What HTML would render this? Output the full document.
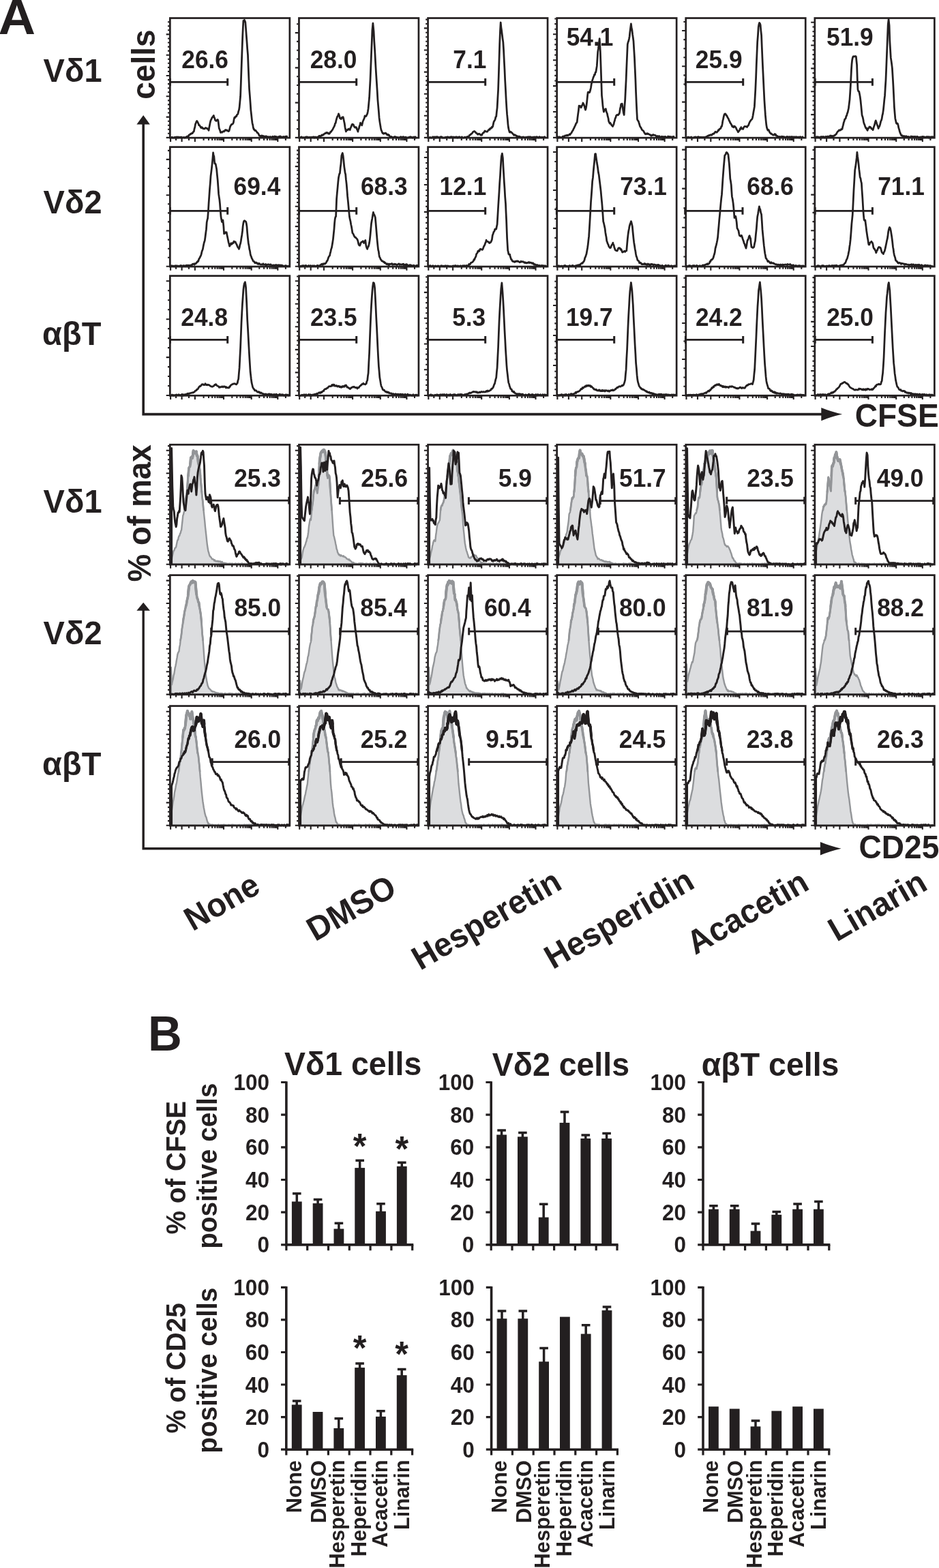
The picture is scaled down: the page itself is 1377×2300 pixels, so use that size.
<!DOCTYPE html>
<html><head><meta charset="utf-8"><style>html,body{margin:0;padding:0;background:#fff;} svg{display:block;} text{font-kerning:none;}</style></head>
<body>
<svg width="1377" height="2300" viewBox="0 0 1377 2300" font-family="'Liberation Sans', Arial, sans-serif" font-weight="bold" fill="#231f20">
<rect width="1377" height="2300" fill="#fff"/>
<defs><path id="c00k" d="M250.9,201.5 251.6,201.4 252.4,202.0 253.2,201.5 253.9,202.0 254.7,202.0 255.4,202.0 256.2,201.1 256.9,202.0 257.7,201.6 258.4,200.9 259.2,202.0 259.9,200.9 260.7,202.0 261.5,200.9 262.2,201.8 263.0,201.9 263.7,201.2 264.5,201.4 265.2,202.0 266.0,201.0 266.7,202.0 267.5,202.0 268.2,201.7 269.0,201.7 269.7,201.4 270.5,202.0 271.2,201.6 272.0,201.8 272.7,201.1 273.4,201.1 274.1,200.1 274.9,200.5 275.6,199.7 276.3,200.2 277.0,198.2 277.8,197.6 278.5,197.6 279.2,196.3 279.9,196.6 280.7,195.5 281.4,195.4 282.1,195.6 282.8,194.7 283.6,193.1 284.3,193.0 285.0,189.2 285.8,186.5 286.5,182.3 287.2,180.6 287.9,178.6 288.7,177.4 289.4,178.3 290.1,179.7 290.8,180.9 291.6,183.6 292.3,183.3 293.0,184.4 293.7,185.5 294.5,187.2 295.2,186.4 295.9,187.7 296.6,186.9 297.4,188.5 298.1,188.4 298.8,188.9 299.5,188.6 300.3,188.8 301.0,187.8 301.7,187.5 302.5,188.0 303.2,188.0 303.9,188.9 304.6,188.7 305.4,189.9 306.1,191.3 306.8,186.9 307.5,183.4 308.3,179.3 309.0,176.7 309.7,175.3 310.4,173.9 311.2,172.1 311.9,171.7 312.6,170.6 313.3,169.5 314.1,172.2 314.8,173.4 315.5,176.1 316.3,176.8 317.0,177.4 317.7,177.1 318.4,175.9 319.2,175.4 319.9,176.8 320.6,182.6 321.3,188.1 322.1,190.0 322.8,191.8 323.5,194.5 324.2,193.8 325.0,193.7 325.7,194.4 326.4,193.0 327.1,193.0 327.9,192.4 328.6,193.1 329.3,192.0 330.1,190.9 330.8,190.5 331.5,191.4 332.2,190.9 333.0,190.9 333.7,191.9 334.4,192.2 335.1,192.7 335.9,192.2 336.6,189.7 337.3,186.8 338.0,184.7 338.8,183.7 339.5,182.3 340.2,182.5 340.9,182.0 341.7,181.3 342.4,179.4 343.1,175.2 343.8,172.4 344.6,172.7 345.3,170.9 346.0,171.0 346.8,170.5 347.5,168.3 348.2,167.8 348.9,167.2 349.7,163.4 350.4,161.4 351.1,157.5 351.8,149.8 352.6,141.2 353.3,122.2 354.0,101.6 354.9,76.5 355.8,52.0 356.3,41.8 356.9,30.5 357.6,31.7 358.4,29.3 359.1,30.7 359.8,32.5 360.6,42.5 361.3,52.1 362.0,61.0 362.7,71.3 363.5,80.6 364.2,98.7 364.9,115.8 365.6,131.2 366.4,140.8 367.1,150.6 367.8,161.1 368.5,167.3 369.3,174.8 370.0,180.5 370.7,183.1 371.4,187.4 372.2,189.8 372.9,189.6 373.6,191.4 374.4,191.6 375.1,191.4 375.8,192.6 376.5,193.4 377.3,194.7 378.0,194.9 378.7,195.6 379.4,197.1 380.2,199.0 380.9,199.0 381.6,199.6 382.3,199.1 383.1,200.1 383.8,198.9 384.5,199.1 385.2,200.9 386.0,199.5 386.7,200.8 387.4,199.9 388.1,200.0 388.9,200.0 389.6,201.3 390.3,199.8 391.1,200.4 391.8,201.2 392.5,201.1 393.2,200.4 394.0,201.4 394.7,201.6 395.4,200.9 396.2,200.4 396.9,201.1 397.7,201.5 398.4,200.9 399.2,201.1 399.9,200.1 400.7,201.6 401.4,201.0 402.2,200.4 402.9,199.9 403.7,200.3 404.4,200.4 405.1,200.8 405.9,200.6 406.6,201.3 407.4,201.0 408.1,200.7 408.9,200.7 409.6,200.2 410.4,200.1 411.1,199.9 411.9,200.5 412.6,201.4 413.3,200.8 414.1,201.2 414.8,201.5 415.6,200.3 416.3,200.5 417.1,200.5 417.8,201.4 418.6,200.3 419.3,201.1 420.1,199.9 420.8,200.2 421.6,200.8"/></defs>
<use href="#c00k" fill="none" stroke="#231f20" stroke-width="2.75" stroke-linejoin="round"/>
<rect x="249.35" y="26.55" width="175.50" height="175.60" fill="none" stroke="#231f20" stroke-width="2.7"/>
<path d="M243.7,201.9 H248.5 M246.0,195.8 H248.5 M246.0,189.8 H248.5 M246.0,183.7 H248.5 M246.0,177.7 H248.5 M243.7,171.6 H248.5 M246.0,165.5 H248.5 M246.0,159.5 H248.5 M246.0,153.4 H248.5 M246.0,147.4 H248.5 M243.7,141.3 H248.5 M246.0,135.2 H248.5 M246.0,129.2 H248.5 M246.0,123.1 H248.5 M246.0,117.1 H248.5 M243.7,111.0 H248.5 M246.0,104.9 H248.5 M246.0,98.9 H248.5 M246.0,92.8 H248.5 M246.0,86.8 H248.5 M243.7,80.7 H248.5 M246.0,74.6 H248.5 M246.0,68.6 H248.5 M246.0,62.5 H248.5 M246.0,56.5 H248.5 M243.7,50.4 H248.5 M246.0,44.3 H248.5 M246.0,38.3 H248.5 M246.0,32.2 H248.5" stroke="#231f20" stroke-width="2.1" fill="none"/>
<path d="M250.1,203.0 V207.9 M266.6,203.0 V207.9 M285.9,203.0 V207.9 M328.0,203.0 V207.9 M368.7,203.0 V207.9 M407.3,203.0 V207.9 M258.1,203.0 V205.9 M277.0,203.0 V205.9 M298.6,203.0 V205.9 M306.0,203.0 V205.9 M311.2,203.0 V205.9 M315.3,203.0 V205.9 M318.7,203.0 V205.9 M321.5,203.0 V205.9 M323.9,203.0 V205.9 M326.1,203.0 V205.9 M340.3,203.0 V205.9 M347.4,203.0 V205.9 M352.5,203.0 V205.9 M356.4,203.0 V205.9 M359.7,203.0 V205.9 M362.4,203.0 V205.9 M364.8,203.0 V205.9 M366.8,203.0 V205.9 M380.3,203.0 V205.9 M387.1,203.0 V205.9 M391.9,203.0 V205.9 M395.7,203.0 V205.9 M398.7,203.0 V205.9 M401.3,203.0 V205.9 M403.6,203.0 V205.9 M405.5,203.0 V205.9 M418.9,203.0 V205.9" stroke="#231f20" stroke-width="2.1" fill="none"/>
<path d="M249.4,120.3 H333.7" stroke="#231f20" stroke-width="2.75" fill="none"/>
<path d="M249.4,114.9 V125.7 M333.7,114.9 V125.7" stroke="#231f20" stroke-width="3.0" fill="none"/>
<text transform="translate(333.68 99.97) scale(1.0 1.04)" x="-67.43" y="0" font-size="35.3" >26.6</text>
<defs><path id="c01k" d="M439.9,201.5 440.6,201.7 441.4,201.3 442.1,200.7 442.9,201.8 443.6,202.0 444.4,201.7 445.1,201.6 445.9,201.9 446.6,201.7 447.4,201.7 448.1,201.1 448.9,200.9 449.6,201.8 450.4,200.8 451.1,202.0 451.9,201.4 452.6,201.8 453.3,201.2 454.1,201.3 454.8,202.0 455.6,201.4 456.3,201.1 457.1,201.9 457.8,201.4 458.6,201.0 459.3,201.7 460.1,200.8 460.8,202.0 461.6,202.0 462.3,200.9 463.1,201.0 463.8,202.0 464.6,201.1 465.3,202.0 466.0,201.4 466.8,200.4 467.5,200.7 468.2,199.2 468.9,199.4 469.7,199.9 470.4,199.8 471.1,199.0 471.8,198.0 472.6,198.6 473.3,197.7 474.0,197.8 474.8,197.3 475.5,196.4 476.2,195.8 476.9,195.6 477.7,195.7 478.4,194.5 479.1,195.0 479.8,194.7 480.6,194.7 481.3,196.1 482.0,195.7 482.7,196.3 483.5,195.7 484.2,194.1 484.9,193.2 485.6,193.3 486.4,191.7 487.1,191.0 487.8,189.9 488.5,188.5 489.3,186.9 490.0,185.6 490.7,184.2 491.5,181.0 492.2,180.4 492.9,176.8 493.6,174.4 494.4,171.6 495.1,170.6 495.8,169.3 496.5,166.8 497.2,168.3 497.8,170.2 498.4,173.4 499.3,173.4 500.2,174.6 500.9,172.6 501.6,173.1 502.3,171.8 503.1,171.7 503.8,174.2 504.5,177.7 505.3,181.4 506.0,186.8 506.7,189.9 507.4,193.0 508.2,191.3 508.9,190.6 509.6,190.1 510.3,190.5 511.1,189.0 511.8,189.0 512.5,189.3 513.2,190.5 514.0,188.1 514.7,186.4 515.4,184.8 516.1,182.6 516.9,182.1 517.6,182.6 518.3,182.8 519.1,185.5 519.8,185.8 520.5,187.0 521.2,187.2 522.0,186.4 522.7,187.1 523.4,189.6 524.1,190.7 524.9,193.1 525.6,189.8 526.3,188.7 527.0,185.4 527.8,183.6 528.5,180.2 529.2,181.9 529.9,181.7 530.7,183.9 531.4,181.2 532.1,178.0 532.8,176.6 533.6,174.8 534.3,173.3 535.0,170.0 535.8,170.5 536.5,170.6 537.2,170.0 537.9,168.2 538.7,167.0 539.4,163.5 540.1,159.2 540.8,151.7 541.6,143.2 542.3,130.1 543.0,117.4 543.7,99.6 544.5,79.7 545.2,63.0 545.9,44.4 546.9,34.2 547.5,40.2 548.1,46.7 548.8,60.7 549.6,72.8 550.3,85.7 551.0,98.7 551.7,110.3 552.5,122.7 553.2,133.7 553.9,146.1 554.6,154.5 555.4,163.6 556.1,172.9 556.8,178.1 557.5,182.5 558.3,187.2 559.0,190.7 559.7,192.1 560.4,194.1 561.2,195.6 561.9,195.2 562.6,196.3 563.4,195.5 564.1,195.5 564.8,195.0 565.5,195.9 566.3,195.6 567.0,196.7 567.7,197.9 568.4,198.0 569.2,197.2 569.9,198.5 570.6,198.1 571.3,199.6 572.1,200.4 572.8,200.6 573.5,200.4 574.2,200.6 575.0,201.3 575.7,201.3 576.4,201.3 577.1,201.7 577.9,201.5 578.6,200.5 579.3,201.4 580.1,200.7 580.8,201.1 581.5,201.5 582.3,201.3 583.0,201.6 583.8,202.0 584.5,201.7 585.3,201.9 586.0,201.8 586.7,201.3 587.5,200.7 588.2,201.9 589.0,200.9 589.7,202.0 590.5,202.0 591.2,200.6 592.0,200.8 592.7,201.4 593.4,202.0 594.2,201.5 594.9,201.0 595.7,201.8 596.4,202.0 597.2,201.9 597.9,202.0 598.7,202.0 599.4,201.4 600.1,201.4 600.9,201.1 601.6,200.6 602.4,200.8 603.1,201.5 603.9,201.1 604.6,202.0 605.3,202.0 606.1,201.4 606.8,200.9 607.6,201.1 608.3,201.9 609.1,200.8 609.8,202.0 610.6,201.5"/></defs>
<use href="#c01k" fill="none" stroke="#231f20" stroke-width="2.75" stroke-linejoin="round"/>
<rect x="438.45" y="26.55" width="175.50" height="175.60" fill="none" stroke="#231f20" stroke-width="2.7"/>
<path d="M432.8,201.9 H437.6 M435.1,189.1 H437.6 M435.1,176.3 H437.6 M435.1,163.4 H437.6 M432.8,150.6 H437.6 M435.1,137.8 H437.6 M435.1,125.0 H437.6 M435.1,112.2 H437.6 M432.8,99.4 H437.6 M435.1,86.5 H437.6 M435.1,73.7 H437.6 M435.1,60.9 H437.6 M432.8,48.1 H437.6 M435.1,35.3 H437.6" stroke="#231f20" stroke-width="2.1" fill="none"/>
<path d="M439.2,203.0 V207.9 M455.7,203.0 V207.9 M475.0,203.0 V207.9 M517.1,203.0 V207.9 M557.8,203.0 V207.9 M596.4,203.0 V207.9 M447.2,203.0 V205.9 M466.1,203.0 V205.9 M487.7,203.0 V205.9 M495.1,203.0 V205.9 M500.3,203.0 V205.9 M504.4,203.0 V205.9 M507.8,203.0 V205.9 M510.6,203.0 V205.9 M513.0,203.0 V205.9 M515.2,203.0 V205.9 M529.4,203.0 V205.9 M536.5,203.0 V205.9 M541.6,203.0 V205.9 M545.5,203.0 V205.9 M548.8,203.0 V205.9 M551.5,203.0 V205.9 M553.9,203.0 V205.9 M555.9,203.0 V205.9 M569.4,203.0 V205.9 M576.2,203.0 V205.9 M581.0,203.0 V205.9 M584.8,203.0 V205.9 M587.8,203.0 V205.9 M590.4,203.0 V205.9 M592.7,203.0 V205.9 M594.6,203.0 V205.9 M608.0,203.0 V205.9" stroke="#231f20" stroke-width="2.1" fill="none"/>
<path d="M438.4,120.3 H522.7" stroke="#231f20" stroke-width="2.75" fill="none"/>
<path d="M438.4,114.9 V125.7 M522.7,114.9 V125.7" stroke="#231f20" stroke-width="3.0" fill="none"/>
<text transform="translate(521.96 99.97) scale(1.0 1.04)" x="-67.26" y="0" font-size="35.3" >28.0</text>
<defs><path id="c02k" d="M628.9,201.5 629.6,201.9 630.4,201.5 631.1,202.0 631.9,201.6 632.6,202.0 633.4,202.0 634.1,201.7 634.9,200.6 635.6,201.1 636.4,201.5 637.1,202.0 637.8,200.7 638.6,202.0 639.3,202.0 640.1,200.6 640.8,200.6 641.6,200.9 642.3,201.3 643.1,201.3 643.8,201.5 644.6,201.6 645.3,201.3 646.1,200.7 646.8,201.6 647.5,200.6 648.3,201.2 649.0,202.0 649.8,202.0 650.5,202.0 651.3,201.7 652.0,202.0 652.8,202.0 653.5,201.2 654.3,201.1 655.0,201.3 655.8,201.4 656.5,200.7 657.2,201.1 658.0,201.3 658.7,201.5 659.5,202.0 660.2,200.8 661.0,200.8 661.7,200.9 662.5,200.7 663.2,201.8 664.0,202.0 664.7,200.9 665.5,201.0 666.2,201.6 666.9,201.2 667.7,201.1 668.4,201.0 669.2,200.7 669.9,201.5 670.7,202.0 671.4,201.2 672.2,201.2 672.9,201.7 673.7,200.6 674.4,201.7 675.2,201.6 675.9,201.9 676.6,201.9 677.4,200.8 678.1,201.9 678.9,202.0 679.6,202.0 680.4,202.0 681.1,201.4 681.9,201.2 682.6,201.7 683.4,201.5 684.1,201.0 684.8,200.8 685.5,200.4 686.3,200.5 687.0,200.5 687.7,199.9 688.4,198.3 689.2,197.8 689.9,197.7 690.6,196.6 691.3,196.5 692.1,195.6 692.8,194.8 693.5,193.7 694.3,193.1 695.0,192.7 695.7,192.5 696.4,193.3 697.2,193.6 697.9,195.0 698.6,195.3 699.3,195.6 700.1,196.7 700.8,197.3 701.5,196.5 702.2,196.2 703.0,196.3 703.7,197.0 704.4,197.7 705.1,198.3 705.9,197.5 706.6,198.1 707.3,196.6 708.1,195.3 708.8,194.6 709.5,194.7 710.2,193.2 711.0,191.9 711.7,192.3 712.4,193.0 713.1,193.1 713.9,193.1 714.6,193.1 715.3,192.1 716.0,191.0 716.8,190.6 717.5,189.6 718.2,190.2 718.9,188.3 719.7,188.0 720.4,188.2 721.1,186.3 721.8,186.9 722.6,185.6 723.3,182.4 724.0,179.0 724.8,177.5 725.5,176.4 726.2,175.0 726.9,171.6 727.7,170.9 728.4,163.8 729.1,158.1 729.8,145.6 730.6,131.5 731.3,111.0 732.0,88.1 732.7,65.0 733.5,45.1 734.2,33.0 734.9,40.1 735.6,44.8 736.4,51.1 737.1,56.8 737.8,61.7 738.6,73.8 739.3,88.8 740.0,102.1 740.7,118.3 741.5,132.5 742.2,146.3 742.9,158.0 743.6,167.9 744.3,174.6 744.9,182.1 745.5,187.1 746.4,191.1 747.3,194.0 748.0,194.2 748.7,193.1 749.4,193.7 750.2,194.4 750.9,195.0 751.6,195.7 752.4,196.7 753.1,197.5 753.8,198.4 754.5,197.7 755.3,197.9 756.0,198.7 756.7,198.7 757.4,199.7 758.2,199.5 758.9,201.1 759.6,200.6 760.3,200.0 761.1,200.1 761.8,200.1 762.5,201.5 763.2,200.9 764.0,201.9 764.7,201.1 765.4,201.7 766.1,202.0 766.9,200.8 767.6,200.9 768.4,201.7 769.1,201.7 769.9,201.9 770.6,201.3 771.3,201.5 772.1,201.2 772.8,200.9 773.6,201.6 774.3,201.1 775.1,200.7 775.8,202.0 776.5,201.3 777.3,200.7 778.0,200.8 778.8,202.0 779.5,201.4 780.3,201.3 781.0,201.7 781.7,201.2 782.5,201.9 783.2,200.8 784.0,201.2 784.7,201.9 785.4,200.9 786.2,201.3 786.9,200.7 787.7,200.9 788.4,201.3 789.2,201.8 789.9,202.0 790.6,200.9 791.4,200.7 792.1,201.7 792.9,201.5 793.6,202.0 794.4,201.2 795.1,201.6 795.8,201.3 796.6,201.9 797.3,201.5 798.1,200.9 798.8,200.7 799.6,201.5"/></defs>
<use href="#c02k" fill="none" stroke="#231f20" stroke-width="2.75" stroke-linejoin="round"/>
<rect x="627.55" y="26.55" width="175.50" height="175.60" fill="none" stroke="#231f20" stroke-width="2.7"/>
<path d="M621.9,201.9 H626.7 M624.2,195.5 H626.7 M624.2,189.1 H626.7 M624.2,182.6 H626.7 M624.2,176.2 H626.7 M621.9,169.8 H626.7 M624.2,163.4 H626.7 M624.2,157.0 H626.7 M624.2,150.5 H626.7 M624.2,144.1 H626.7 M621.9,137.7 H626.7 M624.2,131.3 H626.7 M624.2,124.9 H626.7 M624.2,118.4 H626.7 M624.2,112.0 H626.7 M621.9,105.6 H626.7 M624.2,99.2 H626.7 M624.2,92.8 H626.7 M624.2,86.3 H626.7 M624.2,79.9 H626.7 M621.9,73.5 H626.7 M624.2,67.1 H626.7 M624.2,60.7 H626.7 M624.2,54.2 H626.7 M624.2,47.8 H626.7 M621.9,41.4 H626.7 M624.2,35.0 H626.7 M624.2,28.6 H626.7" stroke="#231f20" stroke-width="2.1" fill="none"/>
<path d="M628.3,203.0 V207.9 M644.8,203.0 V207.9 M664.1,203.0 V207.9 M706.2,203.0 V207.9 M746.9,203.0 V207.9 M785.5,203.0 V207.9 M636.3,203.0 V205.9 M655.2,203.0 V205.9 M676.8,203.0 V205.9 M684.2,203.0 V205.9 M689.4,203.0 V205.9 M693.5,203.0 V205.9 M696.9,203.0 V205.9 M699.7,203.0 V205.9 M702.1,203.0 V205.9 M704.3,203.0 V205.9 M718.5,203.0 V205.9 M725.6,203.0 V205.9 M730.7,203.0 V205.9 M734.6,203.0 V205.9 M737.9,203.0 V205.9 M740.6,203.0 V205.9 M743.0,203.0 V205.9 M745.0,203.0 V205.9 M758.5,203.0 V205.9 M765.3,203.0 V205.9 M770.1,203.0 V205.9 M773.9,203.0 V205.9 M776.9,203.0 V205.9 M779.5,203.0 V205.9 M781.8,203.0 V205.9 M783.7,203.0 V205.9 M797.1,203.0 V205.9" stroke="#231f20" stroke-width="2.1" fill="none"/>
<path d="M627.4,120.3 H711.7" stroke="#231f20" stroke-width="2.75" fill="none"/>
<path d="M627.4,114.9 V125.7 M711.7,114.9 V125.7" stroke="#231f20" stroke-width="3.0" fill="none"/>
<text transform="translate(713.31 99.97) scale(1.0 1.04)" x="-49.07" y="0" font-size="35.3" >7.1</text>
<defs><path id="c03k" d="M817.9,201.5 818.6,200.7 819.3,202.0 820.1,201.6 820.8,200.8 821.5,201.5 822.3,201.6 823.0,201.6 823.7,201.6 824.4,201.3 825.2,200.1 825.9,200.2 826.6,200.0 827.3,200.6 828.1,199.5 828.8,198.8 829.5,198.8 830.2,199.1 831.0,198.6 831.7,197.9 832.4,198.9 833.1,198.7 833.9,197.8 834.6,197.7 835.3,196.7 836.0,197.7 836.8,196.1 837.5,195.4 838.2,194.6 839.0,192.7 839.7,191.9 840.4,190.9 841.1,188.9 841.9,187.7 842.6,185.9 843.3,184.6 844.0,183.2 844.8,180.9 845.5,180.4 846.2,179.1 846.9,173.2 847.7,167.0 848.4,162.1 849.1,155.2 849.8,156.3 850.6,155.4 851.3,156.3 852.0,157.8 852.8,156.5 853.5,154.5 854.2,153.6 854.9,151.0 855.7,152.4 856.4,153.9 857.1,155.8 857.8,158.9 858.6,161.2 859.3,158.9 860.0,154.5 860.7,149.1 861.5,140.9 862.2,135.2 862.9,134.9 863.6,135.2 864.4,135.8 865.1,134.3 865.8,131.7 866.5,128.7 867.3,123.2 868.0,120.8 868.7,117.6 869.5,115.4 870.2,113.2 870.9,111.8 871.6,109.3 872.4,109.6 873.1,106.1 873.8,106.1 874.5,101.8 875.3,96.9 876.0,86.4 876.7,76.0 877.4,71.5 878.2,64.7 879.2,56.6 879.8,65.8 880.3,75.4 881.1,97.2 881.8,117.9 882.5,140.1 883.3,147.4 884.0,155.5 884.7,160.2 885.4,164.1 886.2,162.2 886.9,160.8 887.6,161.3 888.3,159.6 889.1,163.5 889.8,165.3 890.5,166.9 891.2,170.7 892.0,173.3 892.7,178.1 893.4,179.4 894.1,181.0 894.9,180.1 895.6,181.8 896.3,182.4 897.1,184.2 897.8,184.1 898.5,185.5 899.2,184.0 900.0,182.4 900.7,178.9 901.4,177.1 902.1,173.8 902.9,172.5 903.6,169.7 904.3,168.7 905.0,168.4 905.8,168.8 906.5,168.8 907.2,167.5 907.9,167.3 908.7,164.3 909.4,159.4 910.1,156.5 910.8,152.5 911.6,152.3 912.3,152.1 913.0,157.1 913.8,162.0 914.5,166.2 915.2,168.5 915.9,156.3 916.7,146.3 917.4,131.6 918.1,117.8 918.8,100.0 919.6,81.2 920.3,65.0 921.0,62.1 921.7,60.3 922.5,57.1 923.2,53.2 923.9,46.4 924.6,41.0 925.4,34.9 926.1,40.7 926.8,43.5 927.6,50.4 928.3,55.0 929.0,60.4 929.7,72.2 930.5,85.1 931.2,100.9 931.9,116.6 932.6,135.7 933.4,154.3 933.9,164.1 934.5,175.2 935.4,176.8 936.3,177.9 937.0,180.2 937.7,182.3 938.4,185.0 939.2,186.3 939.9,187.2 940.6,188.7 941.4,190.3 942.1,191.0 942.8,191.5 943.5,191.9 944.3,193.4 945.0,194.8 945.7,195.6 946.4,196.8 947.2,196.3 947.9,195.9 948.6,196.7 949.3,195.7 950.1,196.5 950.8,196.2 951.5,196.9 952.2,197.3 953.0,197.3 953.7,198.3 954.4,198.1 955.1,199.4 955.9,198.4 956.6,198.0 957.3,198.5 958.1,197.5 958.8,198.2 959.5,198.2 960.2,198.3 961.0,198.5 961.7,198.9 962.4,200.0 963.1,199.9 963.9,200.1 964.6,199.4 965.3,201.0 966.1,201.1 966.8,199.6 967.6,200.8 968.3,200.8 969.1,200.9 969.8,200.6 970.6,200.1 971.3,200.6 972.1,201.1 972.8,200.5 973.6,200.6 974.3,200.5 975.1,200.6 975.8,200.3 976.6,201.1 977.3,201.4 978.1,201.4 978.8,201.1 979.6,200.0 980.3,200.2 981.1,200.6 981.8,200.4 982.6,200.9 983.3,200.4 984.1,201.4 984.8,201.4 985.6,200.6 986.3,200.8 987.1,201.0 987.8,200.2 988.6,201.1"/></defs>
<use href="#c03k" fill="none" stroke="#231f20" stroke-width="2.75" stroke-linejoin="round"/>
<rect x="816.65" y="26.55" width="175.50" height="175.60" fill="none" stroke="#231f20" stroke-width="2.7"/>
<path d="M811.0,201.9 H815.8 M813.3,194.3 H815.8 M813.3,186.7 H815.8 M813.3,179.2 H815.8 M813.3,171.6 H815.8 M811.0,164.0 H815.8 M813.3,156.4 H815.8 M813.3,148.8 H815.8 M813.3,141.2 H815.8 M813.3,133.7 H815.8 M811.0,126.1 H815.8 M813.3,118.5 H815.8 M813.3,110.9 H815.8 M813.3,103.3 H815.8 M813.3,95.8 H815.8 M811.0,88.2 H815.8 M813.3,80.6 H815.8 M813.3,73.0 H815.8 M813.3,65.4 H815.8 M813.3,57.8 H815.8 M811.0,50.3 H815.8 M813.3,42.7 H815.8 M813.3,35.1 H815.8 M813.3,27.5 H815.8" stroke="#231f20" stroke-width="2.1" fill="none"/>
<path d="M817.4,203.0 V207.9 M833.9,203.0 V207.9 M853.2,203.0 V207.9 M895.3,203.0 V207.9 M936.0,203.0 V207.9 M974.6,203.0 V207.9 M825.4,203.0 V205.9 M844.3,203.0 V205.9 M865.9,203.0 V205.9 M873.3,203.0 V205.9 M878.5,203.0 V205.9 M882.6,203.0 V205.9 M886.0,203.0 V205.9 M888.8,203.0 V205.9 M891.2,203.0 V205.9 M893.4,203.0 V205.9 M907.6,203.0 V205.9 M914.7,203.0 V205.9 M919.8,203.0 V205.9 M923.7,203.0 V205.9 M927.0,203.0 V205.9 M929.7,203.0 V205.9 M932.1,203.0 V205.9 M934.1,203.0 V205.9 M947.6,203.0 V205.9 M954.4,203.0 V205.9 M959.2,203.0 V205.9 M963.0,203.0 V205.9 M966.0,203.0 V205.9 M968.6,203.0 V205.9 M970.9,203.0 V205.9 M972.8,203.0 V205.9 M986.2,203.0 V205.9" stroke="#231f20" stroke-width="2.1" fill="none"/>
<path d="M816.4,120.3 H900.7" stroke="#231f20" stroke-width="2.75" fill="none"/>
<path d="M816.4,114.9 V125.7 M900.7,114.9 V125.7" stroke="#231f20" stroke-width="3.0" fill="none"/>
<text transform="translate(899.41 66.56) scale(1.0 1.04)" x="-68.70" y="0" font-size="35.3" >54.1</text>
<defs><path id="c04k" d="M1006.9,201.5 1007.6,201.5 1008.4,202.0 1009.1,201.0 1009.9,201.3 1010.6,201.8 1011.4,201.7 1012.1,201.7 1012.9,202.0 1013.6,200.9 1014.4,201.5 1015.1,202.0 1015.8,202.0 1016.6,201.8 1017.3,202.0 1018.1,201.4 1018.8,201.7 1019.6,200.7 1020.3,201.7 1021.1,201.6 1021.8,201.2 1022.6,202.0 1023.3,200.8 1024.1,200.7 1024.8,200.8 1025.6,202.0 1026.3,201.5 1027.0,201.1 1027.8,201.7 1028.5,201.2 1029.3,201.6 1030.0,201.9 1030.8,201.1 1031.5,201.6 1032.3,201.4 1033.0,201.2 1033.8,201.7 1034.5,201.3 1035.2,200.8 1035.9,200.4 1036.7,200.8 1037.4,199.7 1038.1,199.2 1038.8,199.4 1039.6,198.5 1040.3,198.7 1041.0,198.1 1041.8,197.6 1042.5,198.2 1043.2,197.8 1043.9,198.1 1044.7,196.7 1045.4,196.3 1046.1,196.1 1046.8,196.4 1047.6,195.0 1048.3,194.6 1049.0,193.2 1049.7,193.7 1050.5,194.1 1051.2,194.1 1051.9,193.1 1052.6,192.5 1053.4,190.7 1054.1,191.2 1054.8,189.9 1055.5,188.9 1056.3,188.9 1057.0,188.1 1057.7,185.5 1058.5,185.3 1059.2,181.7 1059.9,177.1 1060.6,174.4 1061.4,170.5 1062.1,168.1 1062.8,167.1 1063.5,166.9 1064.3,167.6 1065.0,169.3 1065.7,169.4 1066.4,170.9 1067.2,172.8 1067.9,173.5 1068.6,175.0 1069.3,177.1 1070.1,178.0 1070.8,180.3 1071.5,180.9 1072.3,182.4 1073.0,183.7 1073.7,185.5 1074.4,184.9 1075.2,186.5 1075.9,186.8 1076.6,185.2 1077.3,185.1 1078.1,186.1 1078.8,186.7 1079.5,188.0 1080.2,189.8 1081.0,191.1 1081.7,192.0 1082.4,193.8 1083.1,192.4 1083.9,192.1 1084.6,190.8 1085.3,188.7 1086.1,189.4 1086.8,186.7 1087.5,188.0 1088.2,189.0 1089.0,189.2 1089.7,189.4 1090.4,187.3 1091.1,186.3 1091.9,185.3 1092.6,185.4 1093.3,185.5 1094.0,185.5 1094.8,185.5 1095.5,186.6 1096.2,184.9 1096.9,184.6 1097.7,183.5 1098.4,181.4 1099.1,179.8 1099.8,178.2 1100.6,177.3 1101.3,176.0 1102.0,175.5 1102.8,174.8 1103.5,172.6 1104.2,169.3 1104.9,164.8 1105.7,160.4 1106.4,156.2 1107.1,144.1 1107.8,131.9 1108.6,113.9 1109.3,94.4 1110.0,78.2 1110.7,61.6 1111.5,51.4 1112.2,40.0 1112.9,35.6 1113.6,33.5 1114.4,34.4 1115.1,36.4 1115.8,44.6 1116.6,51.9 1117.3,69.3 1118.0,85.8 1118.7,101.1 1119.5,117.6 1120.2,132.2 1120.9,146.7 1121.6,157.3 1122.4,168.9 1123.1,176.4 1123.8,183.1 1124.5,187.2 1125.3,189.6 1126.0,191.1 1126.7,190.3 1127.4,190.9 1128.2,193.1 1128.9,194.5 1129.6,195.1 1130.4,196.1 1131.1,195.9 1131.8,196.9 1132.5,197.1 1133.3,197.9 1134.0,198.2 1134.7,197.9 1135.4,197.3 1136.2,196.5 1136.9,198.2 1137.6,197.3 1138.3,199.1 1139.1,199.3 1139.8,199.3 1140.5,200.8 1141.2,200.1 1142.0,201.3 1142.7,200.9 1143.4,200.4 1144.1,200.6 1144.9,201.5 1145.6,201.6 1146.3,200.1 1147.1,201.0 1147.8,200.3 1148.5,200.7 1149.2,200.7 1150.0,200.6 1150.7,201.0 1151.4,201.4 1152.1,201.5 1152.9,201.0 1153.6,200.7 1154.3,200.3 1155.0,201.0 1155.8,201.4 1156.5,200.7 1157.2,201.6 1158.0,200.7 1158.7,200.6 1159.5,201.6 1160.2,201.1 1161.0,200.4 1161.7,201.4 1162.5,201.6 1163.2,200.6 1164.0,201.5 1164.8,201.5 1165.5,200.7 1166.3,201.3 1167.0,201.7 1167.8,200.7 1168.5,200.8 1169.3,201.6 1170.0,201.3 1170.8,200.8 1171.5,201.5 1172.3,202.0 1173.0,200.8 1173.8,200.6 1174.5,201.9 1175.3,202.0 1176.0,201.6 1176.8,200.7 1177.6,201.5"/></defs>
<use href="#c04k" fill="none" stroke="#231f20" stroke-width="2.75" stroke-linejoin="round"/>
<rect x="1005.75" y="26.55" width="175.50" height="175.60" fill="none" stroke="#231f20" stroke-width="2.7"/>
<path d="M1000.1,201.9 H1004.9 M1002.4,188.8 H1004.9 M1002.4,175.8 H1004.9 M1002.4,162.7 H1004.9 M1000.1,149.6 H1004.9 M1002.4,136.5 H1004.9 M1002.4,123.5 H1004.9 M1002.4,110.4 H1004.9 M1000.1,97.3 H1004.9 M1002.4,84.3 H1004.9 M1002.4,71.2 H1004.9 M1002.4,58.1 H1004.9 M1000.1,45.0 H1004.9 M1002.4,32.0 H1004.9" stroke="#231f20" stroke-width="2.1" fill="none"/>
<path d="M1006.5,203.0 V207.9 M1023.0,203.0 V207.9 M1042.3,203.0 V207.9 M1084.4,203.0 V207.9 M1125.1,203.0 V207.9 M1163.7,203.0 V207.9 M1014.5,203.0 V205.9 M1033.4,203.0 V205.9 M1055.0,203.0 V205.9 M1062.4,203.0 V205.9 M1067.6,203.0 V205.9 M1071.7,203.0 V205.9 M1075.1,203.0 V205.9 M1077.9,203.0 V205.9 M1080.3,203.0 V205.9 M1082.5,203.0 V205.9 M1096.7,203.0 V205.9 M1103.8,203.0 V205.9 M1108.9,203.0 V205.9 M1112.8,203.0 V205.9 M1116.1,203.0 V205.9 M1118.8,203.0 V205.9 M1121.2,203.0 V205.9 M1123.2,203.0 V205.9 M1136.7,203.0 V205.9 M1143.5,203.0 V205.9 M1148.3,203.0 V205.9 M1152.1,203.0 V205.9 M1155.1,203.0 V205.9 M1157.7,203.0 V205.9 M1160.0,203.0 V205.9 M1161.9,203.0 V205.9 M1175.3,203.0 V205.9" stroke="#231f20" stroke-width="2.1" fill="none"/>
<path d="M1005.4,120.3 H1089.7" stroke="#231f20" stroke-width="2.75" fill="none"/>
<path d="M1005.4,114.9 V125.7 M1089.7,114.9 V125.7" stroke="#231f20" stroke-width="3.0" fill="none"/>
<text transform="translate(1087.21 99.97) scale(1.0 1.04)" x="-67.39" y="0" font-size="35.3" >25.9</text>
<defs><path id="c05k" d="M1195.9,201.5 1196.6,201.4 1197.4,200.7 1198.2,200.9 1198.9,201.7 1199.7,200.7 1200.4,201.3 1201.2,202.0 1201.9,201.2 1202.7,202.0 1203.5,200.6 1204.2,200.6 1205.0,202.0 1205.7,200.4 1206.5,200.8 1207.2,201.0 1208.0,200.4 1208.8,201.9 1209.5,202.0 1210.3,201.6 1211.0,200.3 1211.8,200.9 1212.6,200.7 1213.3,200.7 1214.0,199.9 1214.8,200.7 1215.5,201.0 1216.2,200.6 1216.9,199.4 1217.7,198.8 1218.4,199.4 1219.1,199.9 1219.8,199.1 1220.6,199.6 1221.3,199.5 1222.0,199.7 1222.8,199.0 1223.5,199.2 1224.2,198.2 1224.9,198.1 1225.7,196.9 1226.4,196.8 1227.1,195.1 1227.8,193.9 1228.6,192.6 1229.3,192.6 1230.0,191.4 1230.7,190.6 1231.5,191.3 1232.2,191.1 1232.9,190.8 1233.6,189.5 1234.4,189.7 1235.1,189.3 1235.8,185.8 1236.5,183.4 1237.3,179.6 1238.0,177.9 1238.7,175.1 1239.5,174.4 1240.2,173.6 1240.9,170.3 1241.6,169.7 1242.4,166.4 1243.1,164.9 1243.8,161.8 1244.5,158.5 1245.3,151.9 1246.0,146.1 1246.7,135.9 1247.4,124.7 1248.5,101.9 1249.0,94.5 1249.6,88.6 1250.3,84.9 1251.1,82.8 1251.8,83.1 1252.5,82.7 1253.3,82.8 1254.0,82.8 1254.7,82.4 1255.4,83.2 1256.0,89.5 1256.6,95.1 1257.3,116.7 1258.0,131.4 1258.9,134.2 1259.8,134.4 1260.5,137.8 1261.2,141.4 1262.0,147.5 1262.7,154.4 1263.4,161.7 1264.1,169.1 1265.0,171.4 1265.9,175.4 1266.5,179.0 1267.1,181.3 1267.8,182.7 1268.5,185.1 1269.2,186.8 1270.0,188.3 1270.7,187.8 1271.4,190.0 1272.1,191.2 1272.9,188.8 1273.6,187.9 1274.3,187.8 1274.9,186.0 1275.6,186.4 1276.2,186.2 1277.1,187.2 1277.9,188.9 1278.7,188.7 1279.4,189.8 1280.1,190.6 1280.8,188.5 1281.6,185.5 1282.3,183.9 1282.9,181.4 1283.6,178.7 1284.2,176.8 1285.1,179.2 1285.9,181.9 1286.7,184.0 1287.4,185.6 1288.1,188.5 1288.8,186.6 1289.6,185.5 1290.3,183.6 1291.0,180.9 1291.7,177.9 1292.5,176.4 1293.2,173.9 1293.9,169.3 1294.6,166.6 1295.4,161.1 1296.1,154.4 1296.8,146.9 1297.6,140.2 1298.3,127.9 1299.0,117.4 1299.6,102.6 1300.2,87.2 1301.2,61.9 1302.2,36.3 1303.1,28.4 1304.1,37.7 1304.8,59.5 1305.5,71.4 1306.3,84.7 1307.0,89.1 1307.7,94.3 1308.4,100.2 1309.5,118.2 1310.0,127.4 1310.6,139.5 1311.4,157.0 1312.1,165.3 1312.8,173.7 1313.5,176.8 1314.3,180.4 1315.0,181.4 1315.7,180.9 1316.4,181.4 1317.2,184.2 1317.9,187.9 1318.6,189.9 1319.3,192.7 1320.1,195.1 1320.8,196.6 1321.5,198.3 1322.2,199.0 1323.0,198.6 1323.7,199.7 1324.4,200.4 1325.1,199.9 1325.9,199.4 1326.6,200.5 1327.3,200.7 1328.1,199.9 1328.8,199.6 1329.5,200.4 1330.2,200.4 1331.0,200.6 1331.7,201.2 1332.4,200.4 1333.1,200.7 1333.9,201.4 1334.6,201.2 1335.3,201.2 1336.0,199.9 1336.8,200.6 1337.5,200.8 1338.2,200.1 1338.9,200.9 1339.7,200.4 1340.4,201.4 1341.1,200.6 1341.9,200.2 1342.6,201.3 1343.3,200.9 1344.0,200.9 1344.8,200.2 1345.5,201.0 1346.3,200.9 1347.0,201.3 1347.8,201.8 1348.5,201.2 1349.3,201.5 1350.0,200.9 1350.8,201.2 1351.5,201.8 1352.3,200.5 1353.0,201.9 1353.8,200.4 1354.5,201.6 1355.3,200.7 1356.0,201.7 1356.7,201.2 1357.5,201.7 1358.2,200.9 1359.0,200.6 1359.7,200.7 1360.5,201.2 1361.2,200.5 1362.0,202.0 1362.7,202.0 1363.5,200.6 1364.2,201.7 1365.0,202.0 1365.7,200.8 1366.5,200.6 1367.2,201.3 1368.0,200.7 1368.7,201.5"/></defs>
<use href="#c05k" fill="none" stroke="#231f20" stroke-width="2.75" stroke-linejoin="round"/>
<rect x="1194.85" y="26.55" width="175.50" height="175.60" fill="none" stroke="#231f20" stroke-width="2.7"/>
<path d="M1189.2,201.9 H1194.0 M1191.5,195.1 H1194.0 M1191.5,188.4 H1194.0 M1191.5,181.6 H1194.0 M1191.5,174.8 H1194.0 M1189.2,168.1 H1194.0 M1191.5,161.3 H1194.0 M1191.5,154.5 H1194.0 M1191.5,147.8 H1194.0 M1191.5,141.0 H1194.0 M1189.2,134.2 H1194.0 M1191.5,127.4 H1194.0 M1191.5,120.7 H1194.0 M1191.5,113.9 H1194.0 M1191.5,107.1 H1194.0 M1189.2,100.4 H1194.0 M1191.5,93.6 H1194.0 M1191.5,86.8 H1194.0 M1191.5,80.1 H1194.0 M1191.5,73.3 H1194.0 M1189.2,66.5 H1194.0 M1191.5,59.8 H1194.0 M1191.5,53.0 H1194.0 M1191.5,46.2 H1194.0 M1191.5,39.5 H1194.0 M1189.2,32.7 H1194.0" stroke="#231f20" stroke-width="2.1" fill="none"/>
<path d="M1195.6,203.0 V207.9 M1212.1,203.0 V207.9 M1231.4,203.0 V207.9 M1273.5,203.0 V207.9 M1314.2,203.0 V207.9 M1352.8,203.0 V207.9 M1203.6,203.0 V205.9 M1222.5,203.0 V205.9 M1244.1,203.0 V205.9 M1251.5,203.0 V205.9 M1256.7,203.0 V205.9 M1260.8,203.0 V205.9 M1264.2,203.0 V205.9 M1267.0,203.0 V205.9 M1269.4,203.0 V205.9 M1271.6,203.0 V205.9 M1285.8,203.0 V205.9 M1292.9,203.0 V205.9 M1298.0,203.0 V205.9 M1301.9,203.0 V205.9 M1305.2,203.0 V205.9 M1307.9,203.0 V205.9 M1310.3,203.0 V205.9 M1312.3,203.0 V205.9 M1325.8,203.0 V205.9 M1332.6,203.0 V205.9 M1337.4,203.0 V205.9 M1341.2,203.0 V205.9 M1344.2,203.0 V205.9 M1346.8,203.0 V205.9 M1349.1,203.0 V205.9 M1351.0,203.0 V205.9 M1364.4,203.0 V205.9" stroke="#231f20" stroke-width="2.1" fill="none"/>
<path d="M1195.2,120.3 H1279.4" stroke="#231f20" stroke-width="2.75" fill="none"/>
<path d="M1195.2,114.9 V125.7 M1279.4,114.9 V125.7" stroke="#231f20" stroke-width="3.0" fill="none"/>
<text transform="translate(1279.40 66.56) scale(1.0 1.04)" x="-67.39" y="0" font-size="35.3" >51.9</text>
<defs><path id="c10k" d="M250.9,390.4 251.6,389.7 252.4,390.4 253.1,389.9 253.9,390.4 254.6,390.2 255.4,390.9 256.1,389.9 256.9,390.9 257.6,389.7 258.4,390.7 259.1,389.8 259.9,390.4 260.6,390.0 261.4,390.2 262.1,390.4 262.9,390.2 263.6,390.7 264.3,389.7 265.1,389.3 265.8,390.4 266.6,389.6 267.3,390.4 268.1,390.9 268.8,389.6 269.6,389.5 270.3,389.8 271.1,390.6 271.8,390.9 272.6,389.4 273.3,389.3 274.1,389.1 274.8,390.9 275.6,389.3 276.3,390.5 277.0,389.1 277.8,389.3 278.5,390.2 279.2,389.4 279.9,388.8 280.7,389.1 281.4,389.3 282.1,387.6 282.8,387.4 283.6,387.2 284.3,386.9 285.0,388.2 285.8,386.6 286.5,386.9 287.2,386.8 287.9,385.8 288.7,384.4 289.4,384.5 290.1,382.8 290.8,383.2 291.6,380.3 292.3,378.9 293.0,378.2 293.7,376.2 294.5,375.1 295.2,372.9 295.9,369.4 296.6,367.6 297.4,365.4 298.1,361.5 298.8,358.0 299.5,355.2 300.3,352.9 301.0,347.8 301.7,342.0 302.5,336.2 303.2,326.3 303.9,322.7 304.6,320.4 305.4,310.0 306.1,298.2 306.8,288.1 307.5,278.0 308.3,268.6 309.0,258.5 309.7,252.9 310.4,247.2 311.5,236.9 312.0,231.3 312.6,223.9 313.2,228.1 313.8,229.0 314.8,239.8 315.5,239.7 316.3,241.0 317.0,244.7 317.7,248.6 318.4,256.4 319.2,264.2 319.9,273.8 320.6,284.2 321.2,288.6 321.9,293.0 322.5,298.9 323.2,308.3 324.0,318.0 324.7,321.7 325.4,325.5 326.1,323.8 326.9,322.9 327.9,332.1 328.6,342.9 329.3,342.4 330.1,340.8 330.8,340.6 331.5,341.8 332.2,340.7 333.0,344.9 333.7,348.3 334.4,351.6 335.1,355.3 335.9,357.9 336.6,361.2 337.3,360.0 338.0,357.9 338.8,356.7 339.5,358.3 340.2,357.8 340.9,356.9 341.7,355.7 342.4,356.3 343.1,354.0 343.8,354.5 344.6,354.5 345.3,355.1 346.0,357.0 346.8,358.0 347.5,359.8 348.2,361.6 348.9,362.9 349.7,363.7 350.4,365.3 351.1,363.3 351.8,359.5 352.6,357.1 353.3,353.7 354.0,348.9 354.7,345.0 355.5,339.0 356.2,331.6 356.9,327.2 357.6,324.4 358.4,323.6 359.1,324.0 359.8,324.5 360.6,325.2 361.3,327.9 362.0,332.5 362.7,341.5 363.5,349.6 364.3,356.5 365.2,361.3 365.8,365.7 366.5,368.2 367.1,372.2 367.8,375.1 368.5,376.5 369.3,379.1 370.0,380.0 370.7,381.6 371.4,383.2 372.2,383.5 372.9,383.5 373.6,385.6 374.4,385.5 375.1,385.8 375.8,385.0 376.5,386.2 377.3,385.9 378.0,387.2 378.7,387.5 379.4,386.3 380.2,386.4 380.9,387.4 381.6,387.9 382.3,388.1 383.1,388.1 383.8,387.6 384.5,388.3 385.2,388.1 386.0,386.8 386.7,388.3 387.4,388.1 388.1,388.2 388.9,388.5 389.6,387.4 390.3,388.9 391.1,388.6 391.8,388.4 392.5,388.0 393.2,388.4 394.0,387.7 394.7,388.3 395.4,388.5 396.1,388.5 396.9,387.8 397.6,388.6 398.3,388.9 399.0,389.3 399.8,389.4 400.5,388.9 401.2,389.0 401.9,388.9 402.7,389.4 403.4,389.0 404.1,389.9 404.9,388.5 405.6,388.7 406.3,389.2 407.0,389.0 407.8,390.2 408.5,388.7 409.2,389.4 409.9,388.9 410.7,388.9 411.5,389.2 412.2,389.2 413.0,389.0 413.8,390.2 414.5,389.5 415.3,390.1 416.1,390.2 416.8,390.5 417.6,390.6 418.3,389.5 419.1,389.5 419.9,389.9 420.6,390.4 421.4,390.4 422.2,390.9 422.9,390.2 423.7,390.4 424.5,390.4"/></defs>
<use href="#c10k" fill="none" stroke="#231f20" stroke-width="2.75" stroke-linejoin="round"/>
<rect x="249.35" y="215.65" width="175.50" height="175.40" fill="none" stroke="#231f20" stroke-width="2.7"/>
<path d="M243.7,390.8 H248.5 M246.0,377.7 H248.5 M246.0,364.7 H248.5 M246.0,351.6 H248.5 M243.7,338.5 H248.5 M246.0,325.4 H248.5 M246.0,312.4 H248.5 M246.0,299.3 H248.5 M243.7,286.2 H248.5 M246.0,273.2 H248.5 M246.0,260.1 H248.5 M246.0,247.0 H248.5 M243.7,233.9 H248.5 M246.0,220.9 H248.5" stroke="#231f20" stroke-width="2.1" fill="none"/>
<path d="M250.1,391.9 V396.8 M266.6,391.9 V396.8 M285.9,391.9 V396.8 M328.0,391.9 V396.8 M368.7,391.9 V396.8 M407.3,391.9 V396.8 M258.1,391.9 V394.8 M277.0,391.9 V394.8 M298.6,391.9 V394.8 M306.0,391.9 V394.8 M311.2,391.9 V394.8 M315.3,391.9 V394.8 M318.7,391.9 V394.8 M321.5,391.9 V394.8 M323.9,391.9 V394.8 M326.1,391.9 V394.8 M340.3,391.9 V394.8 M347.4,391.9 V394.8 M352.5,391.9 V394.8 M356.4,391.9 V394.8 M359.7,391.9 V394.8 M362.4,391.9 V394.8 M364.8,391.9 V394.8 M366.8,391.9 V394.8 M380.3,391.9 V394.8 M387.1,391.9 V394.8 M391.9,391.9 V394.8 M395.7,391.9 V394.8 M398.7,391.9 V394.8 M401.3,391.9 V394.8 M403.6,391.9 V394.8 M405.5,391.9 V394.8 M418.9,391.9 V394.8" stroke="#231f20" stroke-width="2.1" fill="none"/>
<path d="M249.4,309.3 H333.7" stroke="#231f20" stroke-width="2.75" fill="none"/>
<path d="M249.4,303.9 V314.7 M333.7,303.9 V314.7" stroke="#231f20" stroke-width="3.0" fill="none"/>
<text transform="translate(411.10 286.06) scale(1.0 1.04)" x="-68.51" y="0" font-size="35.3" >69.4</text>
<defs><path id="c11k" d="M439.9,390.4 440.6,390.4 441.4,390.9 442.1,389.9 442.9,390.0 443.6,390.0 444.4,389.5 445.1,390.1 445.9,389.9 446.6,389.8 447.4,389.8 448.1,389.4 448.8,389.4 449.6,389.9 450.3,390.9 451.1,390.9 451.8,390.4 452.6,389.5 453.3,389.8 454.1,390.4 454.8,390.4 455.6,389.5 456.3,390.7 457.1,390.8 457.8,390.2 458.6,389.7 459.3,390.4 460.0,390.7 460.8,389.6 461.5,390.5 462.3,390.8 463.0,390.2 463.8,390.1 464.5,390.5 465.3,389.4 466.0,389.3 466.8,389.9 467.5,389.9 468.2,390.2 468.9,389.6 469.7,388.9 470.4,388.5 471.1,387.9 471.8,387.3 472.6,388.4 473.3,388.3 474.0,386.8 474.8,387.4 475.5,387.2 476.2,386.5 476.9,386.8 477.7,385.8 478.4,385.5 479.1,383.0 479.8,382.9 480.6,381.0 481.3,378.8 482.0,376.9 482.7,375.7 483.5,375.0 484.2,371.4 484.9,369.1 485.6,365.6 486.4,363.4 487.1,359.4 487.8,355.2 488.5,350.6 489.3,342.7 490.0,335.8 490.6,327.4 491.2,321.6 491.9,318.3 492.6,317.5 493.6,291.8 494.4,282.5 495.1,275.1 495.8,267.2 496.5,260.6 497.2,257.3 497.8,254.8 498.4,254.3 499.2,245.8 499.9,240.6 500.9,228.1 501.6,226.1 502.3,224.5 503.1,228.2 503.8,234.3 504.8,244.6 505.4,248.6 506.1,253.7 506.7,255.7 507.4,263.4 508.2,270.2 508.9,278.6 509.6,287.9 510.3,294.3 511.1,303.1 511.8,311.0 512.5,318.1 513.2,321.7 514.0,324.8 514.7,329.3 515.4,332.3 516.1,336.4 516.9,341.7 517.6,342.4 518.3,343.7 519.1,345.7 519.8,347.0 520.5,348.1 521.2,347.9 522.0,348.9 522.7,349.7 523.4,350.4 524.1,351.4 524.9,353.8 525.4,356.2 526.0,358.6 526.9,360.0 527.8,360.2 528.5,358.3 529.2,356.0 529.9,355.3 530.7,354.9 531.4,354.6 532.1,353.7 532.8,354.8 533.6,356.5 534.3,354.7 535.0,353.6 535.8,352.4 536.5,358.2 537.2,361.6 537.9,363.8 538.7,365.2 539.4,362.7 540.1,361.9 540.8,360.0 541.6,356.1 542.3,351.6 543.0,344.9 543.7,337.0 544.5,328.0 545.2,323.7 545.9,320.3 546.6,315.6 547.4,311.4 548.1,314.3 548.8,314.7 549.6,316.9 550.3,318.8 551.0,326.6 551.7,335.1 552.5,344.9 553.2,353.1 553.9,360.1 554.6,366.4 555.3,369.0 555.9,373.7 556.5,377.0 557.3,378.0 558.2,380.6 559.0,381.2 559.7,382.8 560.4,382.9 561.2,382.9 561.9,384.0 562.6,384.5 563.4,384.1 564.1,385.8 564.8,385.3 565.5,386.1 566.3,386.8 567.0,387.7 567.7,386.9 568.4,386.8 569.2,388.2 569.9,387.1 570.6,388.6 571.3,387.1 572.1,387.5 572.8,387.3 573.5,387.3 574.2,386.6 575.0,386.9 575.7,388.4 576.4,387.8 577.1,387.6 577.9,388.0 578.6,387.1 579.3,388.0 580.1,387.4 580.8,387.8 581.5,388.2 582.2,388.8 583.0,387.9 583.7,387.6 584.4,387.0 585.1,386.9 585.9,388.5 586.6,388.0 587.3,387.6 588.0,388.2 588.8,388.3 589.5,387.9 590.2,387.4 590.9,388.2 591.7,387.1 592.4,388.7 593.1,388.3 593.9,388.5 594.6,389.0 595.3,387.8 596.0,389.1 596.8,387.8 597.5,388.8 598.2,389.3 598.9,389.8 599.7,389.6 600.4,388.8 601.1,390.1 601.8,388.6 602.6,389.2 603.3,389.3 604.0,389.4 604.7,390.2 605.5,389.7 606.2,389.4 606.9,389.1 607.6,390.6 608.4,390.3 609.1,390.0 609.8,390.0 610.6,389.4 611.3,390.8 612.0,389.3 612.7,389.8 613.5,390.0"/></defs>
<use href="#c11k" fill="none" stroke="#231f20" stroke-width="2.75" stroke-linejoin="round"/>
<rect x="438.45" y="215.65" width="175.50" height="175.40" fill="none" stroke="#231f20" stroke-width="2.7"/>
<path d="M432.8,390.8 H437.6 M435.1,384.9 H437.6 M435.1,379.1 H437.6 M435.1,373.2 H437.6 M435.1,367.3 H437.6 M432.8,361.5 H437.6 M435.1,355.6 H437.6 M435.1,349.7 H437.6 M435.1,343.9 H437.6 M435.1,338.0 H437.6 M432.8,332.1 H437.6 M435.1,326.3 H437.6 M435.1,320.4 H437.6 M435.1,314.5 H437.6 M435.1,308.7 H437.6 M432.8,302.8 H437.6 M435.1,296.9 H437.6 M435.1,291.0 H437.6 M435.1,285.2 H437.6 M435.1,279.3 H437.6 M432.8,273.4 H437.6 M435.1,267.6 H437.6 M435.1,261.7 H437.6 M435.1,255.8 H437.6 M435.1,250.0 H437.6 M432.8,244.1 H437.6 M435.1,238.2 H437.6 M435.1,232.4 H437.6 M435.1,226.5 H437.6 M435.1,220.6 H437.6" stroke="#231f20" stroke-width="2.1" fill="none"/>
<path d="M439.2,391.9 V396.8 M455.7,391.9 V396.8 M475.0,391.9 V396.8 M517.1,391.9 V396.8 M557.8,391.9 V396.8 M596.4,391.9 V396.8 M447.2,391.9 V394.8 M466.1,391.9 V394.8 M487.7,391.9 V394.8 M495.1,391.9 V394.8 M500.3,391.9 V394.8 M504.4,391.9 V394.8 M507.8,391.9 V394.8 M510.6,391.9 V394.8 M513.0,391.9 V394.8 M515.2,391.9 V394.8 M529.4,391.9 V394.8 M536.5,391.9 V394.8 M541.6,391.9 V394.8 M545.5,391.9 V394.8 M548.8,391.9 V394.8 M551.5,391.9 V394.8 M553.9,391.9 V394.8 M555.9,391.9 V394.8 M569.4,391.9 V394.8 M576.2,391.9 V394.8 M581.0,391.9 V394.8 M584.8,391.9 V394.8 M587.8,391.9 V394.8 M590.4,391.9 V394.8 M592.7,391.9 V394.8 M594.6,391.9 V394.8 M608.0,391.9 V394.8" stroke="#231f20" stroke-width="2.1" fill="none"/>
<path d="M438.4,309.3 H522.7" stroke="#231f20" stroke-width="2.75" fill="none"/>
<path d="M438.4,303.9 V314.7 M522.7,303.9 V314.7" stroke="#231f20" stroke-width="3.0" fill="none"/>
<text transform="translate(596.32 286.06) scale(1.0 1.04)" x="-67.43" y="0" font-size="35.3" >68.3</text>
<defs><path id="c12k" d="M628.2,390.4 628.9,389.7 629.7,390.2 630.4,390.1 631.2,389.5 631.9,390.9 632.6,390.6 633.4,390.9 634.1,390.1 634.9,389.7 635.6,390.9 636.4,390.9 637.1,390.9 637.9,390.0 638.6,389.8 639.4,390.7 640.1,390.6 640.9,390.5 641.6,390.0 642.3,390.2 643.1,390.0 643.8,390.6 644.6,390.9 645.3,390.9 646.1,390.3 646.8,389.6 647.6,389.8 648.3,390.2 649.1,390.1 649.8,390.2 650.6,390.4 651.3,390.9 652.1,390.0 652.8,390.7 653.5,389.8 654.3,390.4 655.0,390.1 655.8,390.3 656.5,389.8 657.3,390.6 658.0,390.2 658.8,390.9 659.5,390.9 660.3,390.3 661.0,390.9 661.8,390.9 662.5,390.7 663.2,390.8 664.0,390.0 664.7,389.8 665.5,390.3 666.2,389.8 667.0,390.3 667.7,389.5 668.5,389.6 669.2,390.4 670.0,390.1 670.7,390.9 671.5,389.8 672.2,390.5 673.0,390.9 673.7,390.5 674.4,390.6 675.2,389.7 675.9,390.4 676.7,390.9 677.4,390.7 678.2,389.7 678.9,390.9 679.7,390.5 680.4,389.5 681.2,390.9 681.9,390.1 682.6,389.8 683.4,390.1 684.1,389.4 684.8,390.0 685.5,389.7 686.3,390.2 687.0,389.2 687.7,387.4 688.4,388.4 689.2,387.6 689.9,387.0 690.6,385.3 691.3,385.1 692.1,384.8 692.8,384.5 693.5,383.8 694.3,382.7 695.0,380.7 695.7,381.0 696.4,379.0 697.2,377.4 697.9,376.1 698.6,372.7 699.3,371.7 700.1,371.0 700.8,368.4 701.5,369.1 702.2,367.5 703.0,368.3 703.7,366.1 704.4,365.2 705.1,365.5 705.9,365.9 706.6,365.8 707.3,366.4 708.0,365.4 708.6,363.9 709.2,362.2 710.1,360.5 711.0,358.8 711.7,356.4 712.4,355.2 713.1,352.2 713.9,354.2 714.6,354.2 715.3,354.4 716.0,354.8 716.8,355.2 717.5,356.5 718.2,356.4 718.9,355.3 719.7,355.3 720.5,353.6 721.4,351.5 722.3,345.0 723.2,342.9 724.0,340.0 724.9,339.3 725.8,336.1 726.4,336.6 727.0,335.6 727.7,335.9 728.4,332.3 729.1,329.1 730.1,312.6 730.7,302.0 731.3,292.6 732.0,281.7 732.7,269.0 733.5,257.8 734.2,245.4 734.8,235.9 735.4,229.1 736.4,225.2 737.4,232.0 738.0,244.4 738.6,254.1 739.3,266.4 740.0,276.3 740.7,288.9 741.5,298.9 742.0,310.7 742.6,322.9 743.6,349.3 744.7,367.3 745.2,369.1 745.8,372.6 746.7,373.3 747.6,373.1 748.2,376.2 748.8,377.7 749.4,380.2 750.2,380.6 750.9,382.3 751.6,383.3 752.4,383.2 753.1,383.8 753.8,383.5 754.5,384.4 755.3,384.2 756.0,383.1 756.7,383.6 757.4,382.8 758.2,382.8 758.9,383.5 759.6,383.0 760.3,383.7 761.1,383.8 761.8,384.8 762.5,384.6 763.2,384.6 764.0,383.2 764.7,384.0 765.4,384.1 766.1,383.9 766.9,383.6 767.6,384.1 768.3,384.9 769.1,385.5 769.8,384.6 770.5,385.1 771.2,385.9 772.0,385.4 772.7,385.9 773.4,385.3 774.1,385.2 774.9,385.4 775.6,384.5 776.3,385.5 777.0,384.9 777.8,385.4 778.5,385.2 779.2,385.3 779.9,386.3 780.7,386.4 781.4,385.6 782.1,387.2 782.9,386.9 783.6,388.4 784.3,387.9 785.0,387.9 785.8,388.4 786.5,389.3 787.2,389.3 787.9,388.5 788.7,390.1 789.4,390.0 790.1,389.2 790.8,389.5 791.6,389.3 792.4,390.7 793.2,389.7 793.9,389.9 794.7,389.3 795.5,390.6 796.3,389.6 797.0,389.7 797.8,390.2 798.6,390.1 799.4,389.6 800.1,390.5 800.9,390.9 801.7,390.5 802.5,390.4"/></defs>
<use href="#c12k" fill="none" stroke="#231f20" stroke-width="2.75" stroke-linejoin="round"/>
<rect x="627.55" y="215.65" width="175.50" height="175.40" fill="none" stroke="#231f20" stroke-width="2.7"/>
<path d="M621.9,390.8 H626.7 M624.2,382.8 H626.7 M624.2,374.8 H626.7 M624.2,366.8 H626.7 M624.2,358.8 H626.7 M621.9,350.9 H626.7 M624.2,342.9 H626.7 M624.2,334.9 H626.7 M624.2,326.9 H626.7 M624.2,318.9 H626.7 M621.9,310.9 H626.7 M624.2,302.9 H626.7 M624.2,294.9 H626.7 M624.2,287.0 H626.7 M624.2,279.0 H626.7 M621.9,271.0 H626.7 M624.2,263.0 H626.7 M624.2,255.0 H626.7 M624.2,247.0 H626.7 M624.2,239.0 H626.7 M621.9,231.0 H626.7 M624.2,223.0 H626.7" stroke="#231f20" stroke-width="2.1" fill="none"/>
<path d="M628.3,391.9 V396.8 M644.8,391.9 V396.8 M664.1,391.9 V396.8 M706.2,391.9 V396.8 M746.9,391.9 V396.8 M785.5,391.9 V396.8 M636.3,391.9 V394.8 M655.2,391.9 V394.8 M676.8,391.9 V394.8 M684.2,391.9 V394.8 M689.4,391.9 V394.8 M693.5,391.9 V394.8 M696.9,391.9 V394.8 M699.7,391.9 V394.8 M702.1,391.9 V394.8 M704.3,391.9 V394.8 M718.5,391.9 V394.8 M725.6,391.9 V394.8 M730.7,391.9 V394.8 M734.6,391.9 V394.8 M737.9,391.9 V394.8 M740.6,391.9 V394.8 M743.0,391.9 V394.8 M745.0,391.9 V394.8 M758.5,391.9 V394.8 M765.3,391.9 V394.8 M770.1,391.9 V394.8 M773.9,391.9 V394.8 M776.9,391.9 V394.8 M779.5,391.9 V394.8 M781.8,391.9 V394.8 M783.7,391.9 V394.8 M797.1,391.9 V394.8" stroke="#231f20" stroke-width="2.1" fill="none"/>
<path d="M627.4,309.3 H711.7" stroke="#231f20" stroke-width="2.75" fill="none"/>
<path d="M627.4,303.9 V314.7 M711.7,303.9 V314.7" stroke="#231f20" stroke-width="3.0" fill="none"/>
<text transform="translate(713.31 286.06) scale(1.0 1.04)" x="-68.70" y="0" font-size="35.3" >12.1</text>
<defs><path id="c13k" d="M817.9,390.4 818.6,390.3 819.4,389.6 820.1,390.2 820.9,390.9 821.6,390.8 822.4,390.1 823.1,390.3 823.9,390.1 824.6,390.4 825.3,390.4 826.1,390.8 826.8,390.9 827.6,389.4 828.3,390.0 829.1,389.5 829.8,390.8 830.6,390.6 831.3,390.3 832.1,390.9 832.8,390.5 833.5,390.6 834.3,390.1 835.0,389.7 835.8,389.6 836.5,390.7 837.3,390.3 838.0,390.5 838.8,389.6 839.5,389.4 840.3,389.7 841.0,389.8 841.7,390.6 842.5,390.2 843.2,390.3 844.0,390.5 844.7,389.5 845.5,390.7 846.2,390.6 846.9,388.8 847.7,389.0 848.4,389.3 849.1,388.4 849.8,389.0 850.6,389.2 851.3,387.4 852.0,387.0 852.8,386.3 853.5,385.7 854.2,386.3 854.9,384.7 855.7,384.2 856.4,383.0 857.1,381.4 857.8,378.0 858.6,376.8 859.3,374.4 860.0,372.6 860.7,368.4 861.5,363.9 862.2,359.3 862.9,352.7 863.6,346.9 864.2,337.3 864.8,327.5 865.8,309.9 866.5,296.7 867.3,286.2 868.0,276.3 868.7,265.7 869.5,260.4 870.2,251.3 870.9,244.0 871.6,237.5 872.6,225.9 873.5,225.6 874.5,233.0 875.3,238.6 876.0,242.4 876.7,246.8 877.4,252.8 878.2,256.2 878.9,262.0 879.6,267.7 880.3,273.5 881.1,280.2 881.8,288.1 882.8,298.7 883.4,306.3 884.0,314.3 884.7,324.8 885.4,327.2 886.2,330.7 887.2,335.6 887.8,340.9 888.3,344.1 889.1,348.0 889.8,353.6 890.5,355.1 891.2,357.7 892.0,358.6 892.6,360.8 893.2,362.0 893.9,362.9 894.7,363.6 895.6,363.3 896.3,361.1 897.1,359.3 897.9,358.6 898.8,356.1 899.4,358.7 900.1,359.5 900.7,362.4 901.4,364.3 902.1,366.6 902.9,367.0 903.7,367.7 904.6,367.7 905.2,368.0 905.9,366.5 906.5,364.6 907.2,363.7 907.9,364.2 908.7,363.7 909.4,364.5 910.1,366.1 910.8,365.4 911.5,367.0 912.1,368.9 912.7,370.0 913.6,369.8 914.5,369.0 915.2,368.6 915.9,368.2 916.7,369.4 917.4,368.3 918.1,368.1 918.8,367.8 919.6,358.3 920.3,350.7 921.0,344.4 921.7,339.3 922.5,335.3 923.2,331.3 923.9,328.8 924.6,327.2 925.4,324.6 926.0,326.2 926.6,328.8 927.3,332.0 928.1,340.5 929.0,349.6 929.7,355.7 930.5,360.4 931.2,365.2 931.8,368.1 932.4,372.3 933.1,375.8 933.9,377.5 934.8,381.3 935.5,382.2 936.3,382.5 937.0,383.3 937.7,385.9 938.4,385.1 939.2,385.5 939.9,385.5 940.6,387.3 941.4,387.6 942.1,387.1 942.8,387.7 943.5,387.7 944.3,387.3 945.0,386.5 945.7,387.9 946.4,387.0 947.2,387.2 947.9,388.3 948.6,388.1 949.3,388.5 950.1,387.0 950.8,387.4 951.5,388.0 952.2,388.7 953.0,387.8 953.7,388.9 954.4,388.1 955.1,387.3 955.9,387.9 956.6,387.6 957.3,387.8 958.1,388.8 958.8,388.4 959.5,387.9 960.2,388.2 961.0,388.6 961.7,388.6 962.4,389.7 963.1,388.8 963.9,389.5 964.6,388.4 965.3,389.2 966.0,388.5 966.8,390.1 967.5,390.1 968.2,389.4 968.9,390.3 969.7,390.3 970.4,389.8 971.1,389.2 971.9,390.1 972.6,390.6 973.3,390.6 974.0,390.3 974.8,390.7 975.5,389.6 976.2,389.1 977.0,390.7 977.8,389.6 978.5,390.5 979.3,390.3 980.0,389.2 980.8,390.7 981.6,389.8 982.3,390.0 983.1,390.9 983.9,390.6 984.6,389.6 985.4,390.5 986.1,390.3 986.9,390.3 987.7,390.2 988.4,390.1 989.2,389.9 989.9,389.9 990.7,389.8 991.5,390.4"/></defs>
<use href="#c13k" fill="none" stroke="#231f20" stroke-width="2.75" stroke-linejoin="round"/>
<rect x="816.65" y="215.65" width="175.50" height="175.40" fill="none" stroke="#231f20" stroke-width="2.7"/>
<path d="M811.0,390.8 H815.8 M813.3,376.8 H815.8 M813.3,362.8 H815.8 M813.3,348.9 H815.8 M811.0,334.9 H815.8 M813.3,320.9 H815.8 M813.3,306.9 H815.8 M813.3,292.9 H815.8 M811.0,279.0 H815.8 M813.3,265.0 H815.8 M813.3,251.0 H815.8 M813.3,237.0 H815.8 M811.0,223.0 H815.8" stroke="#231f20" stroke-width="2.1" fill="none"/>
<path d="M817.4,391.9 V396.8 M833.9,391.9 V396.8 M853.2,391.9 V396.8 M895.3,391.9 V396.8 M936.0,391.9 V396.8 M974.6,391.9 V396.8 M825.4,391.9 V394.8 M844.3,391.9 V394.8 M865.9,391.9 V394.8 M873.3,391.9 V394.8 M878.5,391.9 V394.8 M882.6,391.9 V394.8 M886.0,391.9 V394.8 M888.8,391.9 V394.8 M891.2,391.9 V394.8 M893.4,391.9 V394.8 M907.6,391.9 V394.8 M914.7,391.9 V394.8 M919.8,391.9 V394.8 M923.7,391.9 V394.8 M927.0,391.9 V394.8 M929.7,391.9 V394.8 M932.1,391.9 V394.8 M934.1,391.9 V394.8 M947.6,391.9 V394.8 M954.4,391.9 V394.8 M959.2,391.9 V394.8 M963.0,391.9 V394.8 M966.0,391.9 V394.8 M968.6,391.9 V394.8 M970.9,391.9 V394.8 M972.8,391.9 V394.8 M986.2,391.9 V394.8" stroke="#231f20" stroke-width="2.1" fill="none"/>
<path d="M816.4,309.3 H900.7" stroke="#231f20" stroke-width="2.75" fill="none"/>
<path d="M816.4,303.9 V314.7 M900.7,303.9 V314.7" stroke="#231f20" stroke-width="3.0" fill="none"/>
<text transform="translate(977.84 286.06) scale(1.0 1.04)" x="-68.70" y="0" font-size="35.3" >73.1</text>
<defs><path id="c14k" d="M1005.4,390.4 1006.2,390.1 1006.9,390.2 1007.7,390.9 1008.4,390.9 1009.2,390.2 1009.9,390.7 1010.7,389.4 1011.4,390.1 1012.2,389.6 1012.9,390.6 1013.7,390.9 1014.4,390.1 1015.2,390.2 1015.9,389.8 1016.7,389.5 1017.4,389.7 1018.2,389.7 1018.9,389.7 1019.7,390.0 1020.4,390.6 1021.2,390.4 1021.9,389.3 1022.7,390.5 1023.4,390.3 1024.2,390.4 1024.9,390.0 1025.7,389.8 1026.4,389.6 1027.2,390.6 1027.9,390.2 1028.7,390.8 1029.4,390.0 1030.1,389.2 1030.9,388.9 1031.6,389.5 1032.3,388.8 1033.0,389.3 1033.8,388.6 1034.5,388.0 1035.2,387.9 1035.9,387.6 1036.7,387.6 1037.4,386.7 1038.1,387.7 1038.8,387.1 1039.6,386.8 1040.3,386.1 1041.0,383.7 1041.8,383.9 1042.5,381.8 1043.2,380.9 1043.9,381.2 1044.7,380.2 1045.4,379.3 1046.1,377.8 1046.8,375.1 1047.6,372.8 1048.3,369.9 1049.0,364.3 1049.7,362.0 1050.5,358.9 1051.2,355.8 1051.9,352.2 1052.6,348.1 1053.4,338.4 1054.1,330.9 1054.8,322.2 1055.5,315.4 1056.3,306.3 1057.0,298.7 1057.7,291.6 1058.5,285.2 1059.2,274.4 1059.9,263.3 1060.6,253.9 1061.4,243.7 1062.1,235.6 1062.8,227.8 1063.5,227.3 1064.3,225.8 1065.0,223.8 1065.7,223.5 1066.4,224.0 1067.2,225.7 1067.9,226.6 1068.6,233.0 1069.3,239.6 1070.1,250.5 1070.8,262.1 1071.5,265.8 1072.3,271.5 1072.8,279.7 1073.4,288.2 1074.3,292.2 1075.2,298.5 1075.7,303.5 1076.3,310.0 1077.0,319.5 1077.9,318.8 1078.8,317.2 1079.5,321.1 1080.2,325.7 1081.0,334.9 1081.6,335.6 1082.2,337.1 1082.9,338.0 1083.9,343.6 1084.6,345.8 1085.3,346.0 1086.1,346.6 1086.8,345.3 1087.5,345.4 1088.2,347.2 1089.0,350.0 1089.7,352.1 1090.4,353.6 1091.1,356.6 1091.9,357.7 1092.6,360.5 1093.3,362.0 1094.0,364.2 1094.8,360.3 1095.5,355.9 1096.2,352.2 1096.9,351.8 1097.7,349.6 1098.4,346.9 1099.1,345.7 1099.8,348.2 1100.6,349.7 1101.3,356.9 1102.0,362.5 1102.8,362.6 1103.5,363.3 1104.2,363.5 1104.9,362.5 1105.7,362.3 1106.3,358.6 1106.9,355.8 1107.5,353.6 1108.4,343.8 1109.3,335.5 1110.0,326.0 1110.7,318.0 1111.5,314.0 1112.2,309.8 1112.8,306.0 1113.4,302.8 1114.1,306.1 1114.8,307.1 1115.7,312.1 1116.6,314.5 1117.3,324.7 1118.0,336.4 1118.7,343.9 1119.5,352.2 1120.3,360.2 1121.2,367.3 1121.8,371.8 1122.5,375.0 1123.1,378.7 1123.8,379.1 1124.5,380.6 1125.3,381.9 1126.0,383.8 1126.7,382.7 1127.4,383.3 1128.2,384.2 1128.9,385.6 1129.6,385.4 1130.4,386.2 1131.1,384.7 1131.8,385.8 1132.5,386.1 1133.3,386.1 1134.0,385.7 1134.7,386.7 1135.4,386.6 1136.2,387.2 1136.9,387.7 1137.6,387.8 1138.3,387.7 1139.1,388.4 1139.8,388.0 1140.5,388.7 1141.2,388.5 1142.0,388.1 1142.7,388.6 1143.4,388.5 1144.1,388.8 1144.9,388.0 1145.6,389.1 1146.3,388.7 1147.1,389.7 1147.8,388.0 1148.5,389.3 1149.2,388.4 1150.0,388.4 1150.7,388.4 1151.4,388.0 1152.1,388.2 1152.9,388.2 1153.6,388.2 1154.3,388.9 1155.0,387.5 1155.8,387.9 1156.5,388.0 1157.2,388.1 1157.9,388.3 1158.7,387.5 1159.4,388.2 1160.1,388.9 1160.9,388.9 1161.6,389.7 1162.3,389.3 1163.0,388.7 1163.8,389.1 1164.5,389.9 1165.2,390.6 1166.0,390.1 1166.7,389.3 1167.5,389.6 1168.3,390.4 1169.0,389.9 1169.8,390.9 1170.5,390.0 1171.3,390.8 1172.1,389.4 1172.8,390.9 1173.6,390.6 1174.4,389.9 1175.1,390.0 1175.9,390.4 1176.6,390.8 1177.4,389.8 1178.2,390.4 1178.9,390.1 1179.7,390.9 1180.5,390.4"/></defs>
<use href="#c14k" fill="none" stroke="#231f20" stroke-width="2.75" stroke-linejoin="round"/>
<rect x="1005.75" y="215.65" width="175.50" height="175.40" fill="none" stroke="#231f20" stroke-width="2.7"/>
<path d="M1000.1,390.8 H1004.9 M1002.4,376.5 H1004.9 M1002.4,362.3 H1004.9 M1002.4,348.0 H1004.9 M1000.1,333.7 H1004.9 M1002.4,319.4 H1004.9 M1002.4,305.2 H1004.9 M1002.4,290.9 H1004.9 M1000.1,276.6 H1004.9 M1002.4,262.4 H1004.9 M1002.4,248.1 H1004.9 M1002.4,233.8 H1004.9 M1000.1,219.6 H1004.9" stroke="#231f20" stroke-width="2.1" fill="none"/>
<path d="M1006.5,391.9 V396.8 M1023.0,391.9 V396.8 M1042.3,391.9 V396.8 M1084.4,391.9 V396.8 M1125.1,391.9 V396.8 M1163.7,391.9 V396.8 M1014.5,391.9 V394.8 M1033.4,391.9 V394.8 M1055.0,391.9 V394.8 M1062.4,391.9 V394.8 M1067.6,391.9 V394.8 M1071.7,391.9 V394.8 M1075.1,391.9 V394.8 M1077.9,391.9 V394.8 M1080.3,391.9 V394.8 M1082.5,391.9 V394.8 M1096.7,391.9 V394.8 M1103.8,391.9 V394.8 M1108.9,391.9 V394.8 M1112.8,391.9 V394.8 M1116.1,391.9 V394.8 M1118.8,391.9 V394.8 M1121.2,391.9 V394.8 M1123.2,391.9 V394.8 M1136.7,391.9 V394.8 M1143.5,391.9 V394.8 M1148.3,391.9 V394.8 M1152.1,391.9 V394.8 M1155.1,391.9 V394.8 M1157.7,391.9 V394.8 M1160.0,391.9 V394.8 M1161.9,391.9 V394.8 M1175.3,391.9 V394.8" stroke="#231f20" stroke-width="2.1" fill="none"/>
<path d="M1004.7,309.3 H1089.0" stroke="#231f20" stroke-width="2.75" fill="none"/>
<path d="M1004.7,303.9 V314.7 M1089.0,303.9 V314.7" stroke="#231f20" stroke-width="3.0" fill="none"/>
<text transform="translate(1162.74 286.06) scale(1.0 1.04)" x="-67.43" y="0" font-size="35.3" >68.6</text>
<defs><path id="c15k" d="M1195.9,390.4 1196.6,390.8 1197.4,390.6 1198.2,390.9 1198.9,389.7 1199.7,390.6 1200.4,389.6 1201.2,390.6 1201.9,390.2 1202.7,390.9 1203.4,390.7 1204.2,390.5 1205.0,390.7 1205.7,389.4 1206.5,390.5 1207.2,389.6 1208.0,389.9 1208.7,390.4 1209.5,390.9 1210.3,390.5 1211.0,390.3 1211.8,390.1 1212.5,390.0 1213.3,390.0 1214.0,390.4 1214.8,390.9 1215.5,389.7 1216.3,389.5 1217.1,390.5 1217.8,390.4 1218.6,390.0 1219.3,389.6 1220.1,390.9 1220.8,389.5 1221.6,389.9 1222.4,389.7 1223.1,390.8 1223.9,389.4 1224.6,389.9 1225.4,390.3 1226.1,389.2 1226.9,389.3 1227.7,390.5 1228.4,390.1 1229.2,390.3 1229.9,390.0 1230.7,390.0 1231.4,390.5 1232.2,389.3 1232.9,390.1 1233.6,389.1 1234.4,388.9 1235.1,389.0 1235.8,388.7 1236.5,388.8 1237.3,388.3 1238.0,387.3 1238.7,386.1 1239.5,386.0 1240.2,384.2 1240.9,382.2 1241.6,380.4 1242.4,379.2 1243.1,376.5 1243.8,374.0 1244.5,370.2 1245.2,367.3 1245.8,362.0 1246.4,358.4 1247.2,351.2 1247.9,342.3 1248.9,328.3 1249.6,321.6 1250.3,314.5 1251.4,291.3 1251.9,280.6 1252.5,270.4 1253.1,260.2 1253.7,249.6 1254.6,244.6 1255.4,238.4 1256.2,231.7 1256.9,223.3 1257.6,229.4 1258.3,234.3 1259.1,240.8 1259.8,248.2 1260.5,253.7 1261.2,260.1 1262.0,261.7 1262.7,266.1 1263.4,268.6 1264.1,280.0 1264.9,291.3 1265.9,308.8 1266.5,316.3 1267.1,322.4 1267.9,323.6 1268.8,323.0 1269.4,327.9 1270.0,332.4 1270.7,338.5 1271.4,343.3 1272.1,348.1 1272.9,352.3 1273.4,356.1 1274.0,358.9 1274.9,358.8 1275.8,356.1 1276.5,355.7 1277.2,355.1 1277.9,354.2 1278.7,355.4 1279.4,356.2 1280.1,358.5 1280.8,362.7 1281.6,364.6 1282.3,364.8 1283.0,366.6 1283.9,367.7 1284.8,370.8 1285.4,369.2 1286.0,367.2 1286.7,366.9 1287.4,364.4 1288.1,363.3 1288.8,362.3 1289.6,362.5 1290.3,363.3 1291.0,363.1 1291.6,364.5 1292.3,366.9 1292.9,369.4 1293.7,370.9 1294.6,371.2 1295.4,372.6 1296.1,370.2 1296.8,369.4 1297.6,367.0 1298.3,363.9 1299.0,360.6 1299.7,357.3 1300.5,353.2 1301.2,350.4 1301.9,346.3 1302.6,340.3 1303.4,336.5 1303.9,334.8 1304.5,333.4 1305.4,334.6 1306.3,338.3 1307.0,342.8 1307.7,346.9 1308.6,354.0 1309.5,362.4 1310.1,365.5 1310.7,370.5 1311.4,374.1 1312.1,376.3 1312.8,378.4 1313.5,382.0 1314.3,382.4 1315.0,383.4 1315.7,383.5 1316.4,385.2 1317.2,386.0 1317.9,386.0 1318.6,385.2 1319.3,386.0 1320.1,385.9 1320.8,385.9 1321.5,387.4 1322.2,386.4 1323.0,386.4 1323.7,386.5 1324.4,387.0 1325.1,386.8 1325.9,387.0 1326.6,388.4 1327.3,387.1 1328.1,387.7 1328.8,387.4 1329.5,387.9 1330.2,388.0 1331.0,388.2 1331.7,388.3 1332.4,388.1 1333.1,388.6 1333.9,388.8 1334.6,388.2 1335.3,388.4 1336.0,388.1 1336.8,387.7 1337.5,389.1 1338.2,388.2 1338.9,388.2 1339.7,387.9 1340.4,388.9 1341.2,389.0 1342.0,389.0 1342.8,388.2 1343.5,389.0 1344.3,389.4 1345.1,388.4 1345.9,388.5 1346.6,389.5 1347.4,388.2 1348.2,388.3 1349.0,389.5 1349.7,389.4 1350.5,389.5 1351.3,388.6 1352.0,388.9 1352.8,389.9 1353.6,389.8 1354.3,390.4 1355.1,390.2 1355.8,389.2 1356.6,389.1 1357.4,389.0 1358.1,389.7 1358.9,389.5 1359.6,389.7 1360.4,389.2 1361.1,390.6 1361.9,389.8 1362.7,390.7 1363.4,389.6 1364.2,390.8 1364.9,389.8 1365.7,390.8 1366.4,390.6 1367.2,390.7 1368.0,390.9 1368.7,390.4"/></defs>
<use href="#c15k" fill="none" stroke="#231f20" stroke-width="2.75" stroke-linejoin="round"/>
<rect x="1194.85" y="215.65" width="175.50" height="175.40" fill="none" stroke="#231f20" stroke-width="2.7"/>
<path d="M1189.2,390.8 H1194.0 M1191.5,377.7 H1194.0 M1191.5,364.5 H1194.0 M1191.5,351.4 H1194.0 M1189.2,338.2 H1194.0 M1191.5,325.1 H1194.0 M1191.5,311.9 H1194.0 M1191.5,298.8 H1194.0 M1189.2,285.6 H1194.0 M1191.5,272.5 H1194.0 M1191.5,259.4 H1194.0 M1191.5,246.2 H1194.0 M1189.2,233.1 H1194.0 M1191.5,219.9 H1194.0" stroke="#231f20" stroke-width="2.1" fill="none"/>
<path d="M1195.6,391.9 V396.8 M1212.1,391.9 V396.8 M1231.4,391.9 V396.8 M1273.5,391.9 V396.8 M1314.2,391.9 V396.8 M1352.8,391.9 V396.8 M1203.6,391.9 V394.8 M1222.5,391.9 V394.8 M1244.1,391.9 V394.8 M1251.5,391.9 V394.8 M1256.7,391.9 V394.8 M1260.8,391.9 V394.8 M1264.2,391.9 V394.8 M1267.0,391.9 V394.8 M1269.4,391.9 V394.8 M1271.6,391.9 V394.8 M1285.8,391.9 V394.8 M1292.9,391.9 V394.8 M1298.0,391.9 V394.8 M1301.9,391.9 V394.8 M1305.2,391.9 V394.8 M1307.9,391.9 V394.8 M1310.3,391.9 V394.8 M1312.3,391.9 V394.8 M1325.8,391.9 V394.8 M1332.6,391.9 V394.8 M1337.4,391.9 V394.8 M1341.2,391.9 V394.8 M1344.2,391.9 V394.8 M1346.8,391.9 V394.8 M1349.1,391.9 V394.8 M1351.0,391.9 V394.8 M1364.4,391.9 V394.8" stroke="#231f20" stroke-width="2.1" fill="none"/>
<path d="M1195.2,309.3 H1279.4" stroke="#231f20" stroke-width="2.75" fill="none"/>
<path d="M1195.2,303.9 V314.7 M1279.4,303.9 V314.7" stroke="#231f20" stroke-width="3.0" fill="none"/>
<text transform="translate(1355.83 286.06) scale(1.0 1.04)" x="-68.70" y="0" font-size="35.3" >71.1</text>
<defs><path id="c20k" d="M250.9,579.6 251.6,579.8 252.4,579.0 253.1,580.0 253.9,580.1 254.7,579.5 255.4,580.1 256.2,579.6 256.9,579.7 257.7,579.4 258.4,579.0 259.2,578.9 259.9,579.7 260.7,579.6 261.4,579.3 262.2,578.7 262.9,579.7 263.7,579.3 264.4,580.0 265.2,579.4 265.9,579.2 266.7,578.4 267.4,578.4 268.2,580.0 268.9,580.0 269.7,578.7 270.4,579.8 271.2,579.5 272.0,578.4 272.7,579.8 273.4,578.2 274.1,579.2 274.9,577.3 275.6,577.9 276.3,577.6 277.0,577.0 277.8,577.4 278.5,576.8 279.2,576.7 279.9,576.6 280.7,576.2 281.4,576.2 282.1,576.1 282.8,575.6 283.6,575.9 284.3,575.4 285.0,574.8 285.8,574.1 286.5,573.1 287.2,573.0 287.9,572.8 288.7,571.2 289.4,571.2 290.1,570.7 290.8,569.6 291.6,567.9 292.3,567.2 293.0,566.3 293.7,566.7 294.5,565.5 295.2,565.5 295.9,563.9 296.6,563.8 297.4,563.6 298.1,564.0 298.8,564.7 299.5,564.7 300.3,564.3 301.0,562.8 301.7,563.9 302.5,564.6 303.2,564.1 303.9,564.9 304.6,564.2 305.4,564.6 306.1,564.5 306.8,564.9 307.5,565.5 308.3,565.9 309.0,566.6 309.7,566.9 310.4,567.0 311.2,567.3 311.9,566.9 312.6,566.6 313.3,566.5 314.1,565.5 314.8,564.3 315.5,564.6 316.3,563.6 317.0,563.9 317.7,565.5 318.4,565.6 319.2,566.4 319.9,566.5 320.6,566.7 321.3,568.3 322.1,567.7 322.8,568.2 323.5,567.5 324.2,567.6 325.0,567.6 325.7,566.8 326.4,567.4 327.1,567.8 327.9,567.2 328.6,566.7 329.3,567.1 330.1,567.9 330.8,567.2 331.5,568.9 332.2,567.9 333.0,568.2 333.7,568.9 334.4,568.7 335.1,568.8 335.9,568.8 336.6,566.9 337.3,567.2 338.0,565.6 338.8,564.7 339.5,564.4 340.2,563.9 340.9,563.7 341.7,563.0 342.4,563.2 343.1,562.9 343.8,562.7 344.6,562.9 345.3,563.5 346.0,563.5 346.8,563.9 347.5,562.5 348.2,562.1 348.9,558.3 349.7,555.8 350.4,547.2 351.1,539.4 351.8,525.4 352.6,509.8 353.3,492.2 354.0,473.9 354.7,459.8 355.5,445.2 356.2,435.3 356.9,425.1 357.6,419.5 358.4,415.6 359.4,413.8 360.0,417.2 360.6,422.0 361.1,432.6 361.7,443.9 362.7,468.7 363.5,482.1 364.2,495.3 364.9,508.3 365.6,521.2 366.4,534.1 367.1,545.5 367.7,550.6 368.3,556.0 369.0,561.1 369.8,564.5 370.7,568.3 371.4,569.3 372.2,570.8 372.9,571.1 373.6,572.9 374.4,572.6 375.1,572.9 375.8,572.8 376.5,574.1 377.3,574.7 378.0,575.4 378.7,575.0 379.4,574.5 380.2,575.7 380.9,575.5 381.6,576.8 382.3,576.1 383.1,576.0 383.8,577.0 384.5,576.9 385.2,577.7 386.0,577.6 386.7,577.9 387.4,578.4 388.1,578.2 388.9,578.0 389.6,578.4 390.3,577.9 391.1,578.7 391.8,578.9 392.5,578.7 393.2,578.3 394.0,577.8 394.7,578.3 395.5,578.0 396.2,578.8 397.0,578.8 397.7,578.2 398.5,578.7 399.2,578.6 399.9,579.4 400.7,579.4 401.4,578.5 402.2,578.3 402.9,579.3 403.7,579.7 404.4,578.6 405.1,578.1 405.9,579.9 406.6,579.1 407.4,579.5 408.1,579.7 408.9,578.9 409.6,579.5 410.3,578.3 411.1,578.7 411.8,579.4 412.6,579.4 413.3,578.6 414.1,579.1 414.8,578.9 415.5,579.1 416.3,580.1 417.0,580.1 417.8,579.3 418.5,579.8 419.3,578.8 420.0,579.8 420.7,579.2 421.5,579.4 422.2,579.1 423.0,580.1 423.7,579.6 424.5,579.6"/></defs>
<use href="#c20k" fill="none" stroke="#231f20" stroke-width="2.75" stroke-linejoin="round"/>
<rect x="249.35" y="404.65" width="175.50" height="175.60" fill="none" stroke="#231f20" stroke-width="2.7"/>
<path d="M243.7,580.0 H248.5 M246.0,566.0 H248.5 M246.0,552.0 H248.5 M246.0,538.1 H248.5 M243.7,524.1 H248.5 M246.0,510.1 H248.5 M246.0,496.1 H248.5 M246.0,482.1 H248.5 M243.7,468.2 H248.5 M246.0,454.2 H248.5 M246.0,440.2 H248.5 M246.0,426.2 H248.5 M243.7,412.2 H248.5" stroke="#231f20" stroke-width="2.1" fill="none"/>
<path d="M250.1,581.1 V586.0 M266.6,581.1 V586.0 M285.9,581.1 V586.0 M328.0,581.1 V586.0 M368.7,581.1 V586.0 M407.3,581.1 V586.0 M258.1,581.1 V584.0 M277.0,581.1 V584.0 M298.6,581.1 V584.0 M306.0,581.1 V584.0 M311.2,581.1 V584.0 M315.3,581.1 V584.0 M318.7,581.1 V584.0 M321.5,581.1 V584.0 M323.9,581.1 V584.0 M326.1,581.1 V584.0 M340.3,581.1 V584.0 M347.4,581.1 V584.0 M352.5,581.1 V584.0 M356.4,581.1 V584.0 M359.7,581.1 V584.0 M362.4,581.1 V584.0 M364.8,581.1 V584.0 M366.8,581.1 V584.0 M380.3,581.1 V584.0 M387.1,581.1 V584.0 M391.9,581.1 V584.0 M395.7,581.1 V584.0 M398.7,581.1 V584.0 M401.3,581.1 V584.0 M403.6,581.1 V584.0 M405.5,581.1 V584.0 M418.9,581.1 V584.0" stroke="#231f20" stroke-width="2.1" fill="none"/>
<path d="M249.4,498.3 H333.7" stroke="#231f20" stroke-width="2.75" fill="none"/>
<path d="M249.4,492.9 V503.7 M333.7,492.9 V503.7" stroke="#231f20" stroke-width="3.0" fill="none"/>
<text transform="translate(332.96 477.97) scale(1.0 1.04)" x="-67.62" y="0" font-size="35.3" >24.8</text>
<defs><path id="c21k" d="M439.9,579.6 440.6,580.1 441.4,580.1 442.1,579.6 442.9,579.1 443.7,579.8 444.4,580.1 445.2,579.4 445.9,578.7 446.7,579.0 447.4,579.4 448.2,580.1 448.9,578.8 449.7,580.0 450.4,579.8 451.2,579.7 451.9,579.4 452.7,578.5 453.4,579.9 454.2,579.2 454.9,578.7 455.7,580.0 456.4,579.1 457.2,580.1 457.9,579.8 458.7,578.8 459.4,578.9 460.2,578.9 461.0,579.0 461.7,578.2 462.4,578.1 463.1,579.3 463.9,578.0 464.6,577.2 465.3,577.7 466.0,577.3 466.8,576.7 467.5,576.2 468.2,575.7 468.9,576.4 469.7,576.7 470.4,575.2 471.1,574.9 471.8,575.7 472.6,574.4 473.3,574.2 474.0,573.2 474.8,573.4 475.5,571.5 476.2,571.0 476.9,570.5 477.7,570.7 478.4,570.3 479.1,569.5 479.8,569.1 480.6,569.2 481.3,567.8 482.0,567.2 482.7,566.6 483.5,566.7 484.2,566.8 484.9,566.6 485.6,566.7 486.4,565.0 487.1,564.4 487.8,565.7 488.5,564.1 489.3,565.0 490.0,564.3 490.7,566.2 491.5,565.6 492.2,566.0 492.9,566.4 493.6,565.5 494.4,566.2 495.1,567.1 495.8,566.3 496.5,566.2 497.3,566.3 498.0,567.8 498.7,567.6 499.4,566.9 500.2,568.3 500.9,567.3 501.6,567.9 502.3,566.5 503.1,567.3 503.8,567.2 504.5,566.1 505.3,567.2 506.0,565.4 506.7,565.8 507.4,564.9 508.2,566.2 508.9,568.0 509.6,567.6 510.3,568.2 511.1,569.2 511.8,569.4 512.5,569.4 513.2,570.6 514.0,569.9 514.7,569.4 515.4,568.4 516.1,568.3 516.9,567.8 517.6,567.4 518.3,568.0 519.1,567.3 519.8,568.0 520.5,567.8 521.2,568.7 522.0,568.7 522.7,568.9 523.4,568.2 524.1,570.0 524.9,568.8 525.6,568.4 526.3,568.6 527.0,567.2 527.8,566.3 528.5,566.0 529.2,564.9 529.9,564.8 530.7,563.5 531.4,563.3 532.1,563.5 532.8,562.3 533.6,563.2 534.3,563.5 535.0,563.5 535.8,563.9 536.5,562.8 537.2,562.6 537.9,559.4 538.7,558.1 539.4,551.8 540.1,547.3 540.8,532.5 541.6,517.9 542.3,499.4 543.0,481.2 543.7,464.7 544.5,448.9 545.2,437.4 545.9,427.7 546.6,420.1 547.4,414.6 548.4,415.0 549.0,417.9 549.6,422.5 550.3,435.4 551.0,449.2 551.7,464.7 552.5,479.7 553.2,494.6 553.9,509.8 554.6,523.6 555.4,537.3 556.1,544.9 556.8,553.5 557.5,557.4 558.3,562.4 559.0,566.1 559.7,567.5 560.4,568.9 561.2,571.3 561.9,571.8 562.6,572.4 563.4,572.1 564.1,573.2 564.8,574.2 565.5,574.8 566.3,574.4 567.0,575.0 567.7,575.8 568.4,574.9 569.2,575.2 569.9,576.4 570.6,575.8 571.3,576.9 572.1,576.9 572.8,576.9 573.5,577.4 574.2,576.9 575.0,577.8 575.7,577.9 576.4,577.7 577.1,577.7 577.9,578.3 578.6,578.7 579.3,578.9 580.1,577.6 580.8,579.3 581.5,579.2 582.2,578.3 583.0,579.1 583.7,578.1 584.5,578.4 585.2,579.1 586.0,579.6 586.7,578.1 587.5,578.8 588.2,578.3 588.9,579.1 589.7,579.4 590.4,578.2 591.2,578.8 591.9,578.8 592.7,579.5 593.4,579.6 594.1,578.3 594.9,579.7 595.6,579.5 596.4,579.0 597.1,579.7 597.9,578.2 598.6,579.0 599.3,580.0 600.1,579.2 600.8,579.0 601.6,579.0 602.3,579.5 603.1,579.5 603.8,580.1 604.5,579.6 605.3,580.1 606.0,578.8 606.8,580.1 607.5,580.1 608.3,580.0 609.0,579.2 609.7,579.7 610.5,579.2 611.2,579.2 612.0,580.1 612.7,580.0 613.5,579.6"/></defs>
<use href="#c21k" fill="none" stroke="#231f20" stroke-width="2.75" stroke-linejoin="round"/>
<rect x="438.45" y="404.65" width="175.50" height="175.60" fill="none" stroke="#231f20" stroke-width="2.7"/>
<path d="M432.8,580.0 H437.6 M435.1,573.3 H437.6 M435.1,566.6 H437.6 M435.1,559.9 H437.6 M435.1,553.2 H437.6 M432.8,546.4 H437.6 M435.1,539.7 H437.6 M435.1,533.0 H437.6 M435.1,526.3 H437.6 M435.1,519.6 H437.6 M432.8,512.9 H437.6 M435.1,506.2 H437.6 M435.1,499.5 H437.6 M435.1,492.8 H437.6 M435.1,486.1 H437.6 M432.8,479.3 H437.6 M435.1,472.6 H437.6 M435.1,465.9 H437.6 M435.1,459.2 H437.6 M435.1,452.5 H437.6 M432.8,445.8 H437.6 M435.1,439.1 H437.6 M435.1,432.4 H437.6 M435.1,425.7 H437.6 M435.1,419.0 H437.6 M432.8,412.2 H437.6 M435.1,405.5 H437.6" stroke="#231f20" stroke-width="2.1" fill="none"/>
<path d="M439.2,581.1 V586.0 M455.7,581.1 V586.0 M475.0,581.1 V586.0 M517.1,581.1 V586.0 M557.8,581.1 V586.0 M596.4,581.1 V586.0 M447.2,581.1 V584.0 M466.1,581.1 V584.0 M487.7,581.1 V584.0 M495.1,581.1 V584.0 M500.3,581.1 V584.0 M504.4,581.1 V584.0 M507.8,581.1 V584.0 M510.6,581.1 V584.0 M513.0,581.1 V584.0 M515.2,581.1 V584.0 M529.4,581.1 V584.0 M536.5,581.1 V584.0 M541.6,581.1 V584.0 M545.5,581.1 V584.0 M548.8,581.1 V584.0 M551.5,581.1 V584.0 M553.9,581.1 V584.0 M555.9,581.1 V584.0 M569.4,581.1 V584.0 M576.2,581.1 V584.0 M581.0,581.1 V584.0 M584.8,581.1 V584.0 M587.8,581.1 V584.0 M590.4,581.1 V584.0 M592.7,581.1 V584.0 M594.6,581.1 V584.0 M608.0,581.1 V584.0" stroke="#231f20" stroke-width="2.1" fill="none"/>
<path d="M438.4,498.3 H522.7" stroke="#231f20" stroke-width="2.75" fill="none"/>
<path d="M438.4,492.9 V503.7 M522.7,492.9 V503.7" stroke="#231f20" stroke-width="3.0" fill="none"/>
<text transform="translate(522.68 477.97) scale(1.0 1.04)" x="-67.72" y="0" font-size="35.3" >23.5</text>
<defs><path id="c22k" d="M628.9,579.6 629.6,579.7 630.4,579.5 631.1,579.2 631.9,578.8 632.6,580.1 633.4,580.1 634.1,579.4 634.9,579.8 635.6,580.1 636.4,580.1 637.1,580.0 637.9,579.2 638.6,579.7 639.3,579.6 640.1,579.5 640.8,578.7 641.6,579.9 642.3,579.1 643.1,580.1 643.8,580.1 644.6,579.2 645.3,579.3 646.1,578.7 646.8,579.3 647.6,579.3 648.3,578.6 649.1,578.9 649.8,579.4 650.5,578.6 651.3,578.7 652.0,578.7 652.8,579.2 653.5,580.1 654.3,579.0 655.0,578.5 655.8,580.1 656.5,579.6 657.3,579.3 658.0,578.9 658.8,580.1 659.5,579.2 660.3,578.5 661.0,579.8 661.7,579.2 662.5,579.6 663.2,579.7 664.0,579.0 664.7,579.2 665.5,578.6 666.2,578.6 667.0,578.7 667.7,579.7 668.5,579.1 669.2,579.7 670.0,580.1 670.7,579.8 671.5,578.6 672.2,578.8 672.9,579.1 673.7,578.6 674.4,578.7 675.2,578.6 675.9,578.4 676.7,578.5 677.4,578.5 678.2,579.3 678.9,579.9 679.7,579.4 680.4,579.1 681.2,579.7 681.9,578.5 682.6,579.4 683.4,578.9 684.1,577.9 684.8,578.3 685.5,578.6 686.3,577.4 687.0,577.1 687.7,577.1 688.4,576.1 689.2,576.5 689.9,576.1 690.6,576.5 691.3,576.0 692.1,575.6 692.8,575.3 693.5,574.7 694.3,574.3 695.0,575.1 695.7,574.8 696.4,574.5 697.2,574.5 697.9,575.4 698.6,575.2 699.3,574.7 700.1,576.1 700.8,576.1 701.5,575.8 702.2,576.0 703.0,575.0 703.7,575.1 704.4,575.8 705.1,575.0 705.9,574.4 706.6,574.7 707.3,575.2 708.1,575.1 708.8,574.5 709.5,575.0 710.2,574.9 711.0,575.1 711.7,574.7 712.4,574.9 713.1,573.5 713.9,573.4 714.6,574.3 715.3,573.0 716.0,573.8 716.8,573.8 717.5,573.4 718.2,572.8 718.9,572.5 719.7,572.2 720.4,570.6 721.1,570.0 721.8,570.1 722.6,569.0 723.3,567.9 724.0,566.0 724.8,563.7 725.5,562.8 726.2,559.5 726.9,556.4 727.7,554.0 728.4,545.8 729.1,539.3 729.8,525.1 730.6,509.4 731.3,490.8 732.0,472.9 732.7,458.8 733.5,444.6 734.2,432.7 734.9,422.6 735.9,414.8 736.5,422.1 737.1,429.9 737.8,441.1 738.6,455.5 739.3,469.7 740.0,484.6 740.7,497.4 741.5,513.0 742.2,523.9 742.9,535.5 743.6,543.6 744.4,550.1 745.1,556.6 745.8,561.5 746.5,563.0 747.3,566.5 748.0,568.1 748.7,570.4 749.4,570.8 750.2,571.1 750.9,573.8 751.6,573.4 752.4,574.6 753.1,575.5 753.8,574.5 754.5,575.9 755.3,576.9 756.0,576.8 756.7,577.4 757.4,577.9 758.2,577.8 758.9,577.6 759.6,578.6 760.3,577.8 761.1,577.6 761.8,578.9 762.5,577.8 763.2,579.3 764.0,578.2 764.7,578.5 765.5,578.4 766.2,578.1 767.0,578.5 767.7,579.6 768.5,579.7 769.2,579.7 770.0,579.4 770.7,578.9 771.5,579.1 772.2,579.3 773.0,579.4 773.8,579.9 774.5,579.5 775.3,578.2 776.0,578.4 776.8,579.0 777.5,579.6 778.3,579.4 779.0,579.0 779.8,580.0 780.6,578.4 781.3,578.7 782.1,579.1 782.8,579.6 783.6,579.7 784.3,579.3 785.1,578.9 785.8,578.6 786.6,579.0 787.4,580.1 788.1,578.9 788.9,578.5 789.6,579.0 790.4,579.7 791.1,579.4 791.9,579.2 792.6,578.7 793.4,580.1 794.2,579.8 794.9,580.1 795.7,578.7 796.4,578.9 797.2,580.1 797.9,579.4 798.7,578.7 799.4,579.6 800.2,580.1 800.9,579.2 801.7,579.6 802.5,579.6"/></defs>
<use href="#c22k" fill="none" stroke="#231f20" stroke-width="2.75" stroke-linejoin="round"/>
<rect x="627.55" y="404.65" width="175.50" height="175.60" fill="none" stroke="#231f20" stroke-width="2.7"/>
<path d="M621.9,580.0 H626.7 M624.2,572.4 H626.7 M624.2,564.9 H626.7 M624.2,557.3 H626.7 M624.2,549.8 H626.7 M621.9,542.2 H626.7 M624.2,534.7 H626.7 M624.2,527.1 H626.7 M624.2,519.6 H626.7 M624.2,512.0 H626.7 M621.9,504.5 H626.7 M624.2,496.9 H626.7 M624.2,489.4 H626.7 M624.2,481.8 H626.7 M624.2,474.3 H626.7 M621.9,466.7 H626.7 M624.2,459.2 H626.7 M624.2,451.6 H626.7 M624.2,444.1 H626.7 M624.2,436.5 H626.7 M621.9,428.9 H626.7 M624.2,421.4 H626.7 M624.2,413.8 H626.7 M624.2,406.3 H626.7" stroke="#231f20" stroke-width="2.1" fill="none"/>
<path d="M628.3,581.1 V586.0 M644.8,581.1 V586.0 M664.1,581.1 V586.0 M706.2,581.1 V586.0 M746.9,581.1 V586.0 M785.5,581.1 V586.0 M636.3,581.1 V584.0 M655.2,581.1 V584.0 M676.8,581.1 V584.0 M684.2,581.1 V584.0 M689.4,581.1 V584.0 M693.5,581.1 V584.0 M696.9,581.1 V584.0 M699.7,581.1 V584.0 M702.1,581.1 V584.0 M704.3,581.1 V584.0 M718.5,581.1 V584.0 M725.6,581.1 V584.0 M730.7,581.1 V584.0 M734.6,581.1 V584.0 M737.9,581.1 V584.0 M740.6,581.1 V584.0 M743.0,581.1 V584.0 M745.0,581.1 V584.0 M758.5,581.1 V584.0 M765.3,581.1 V584.0 M770.1,581.1 V584.0 M773.9,581.1 V584.0 M776.9,581.1 V584.0 M779.5,581.1 V584.0 M781.8,581.1 V584.0 M783.7,581.1 V584.0 M797.1,581.1 V584.0" stroke="#231f20" stroke-width="2.1" fill="none"/>
<path d="M627.4,498.3 H711.7" stroke="#231f20" stroke-width="2.75" fill="none"/>
<path d="M627.4,492.9 V503.7 M711.7,492.9 V503.7" stroke="#231f20" stroke-width="3.0" fill="none"/>
<text transform="translate(710.96 477.97) scale(1.0 1.04)" x="-47.80" y="0" font-size="35.3" >5.3</text>
<defs><path id="c23k" d="M817.9,579.6 818.7,579.4 819.4,580.1 820.2,580.1 820.9,579.2 821.7,579.6 822.5,579.2 823.2,578.7 824.0,578.7 824.8,579.0 825.5,579.7 826.3,579.8 827.0,579.0 827.8,578.8 828.6,580.1 829.3,578.7 830.1,578.4 830.9,579.0 831.6,579.4 832.4,579.6 833.1,579.7 833.9,578.5 834.6,579.7 835.3,579.4 836.0,578.6 836.8,578.4 837.5,577.5 838.2,579.0 839.0,578.0 839.7,578.4 840.4,577.8 841.1,577.8 841.9,577.3 842.6,577.4 843.3,576.6 844.0,575.4 844.8,576.7 845.5,575.5 846.2,574.7 846.9,574.9 847.7,574.3 848.4,574.4 849.1,573.9 849.8,573.3 850.6,572.7 851.3,571.8 852.0,570.3 852.8,570.4 853.5,570.6 854.2,568.5 854.9,569.3 855.7,568.9 856.4,568.0 857.1,567.2 857.8,566.8 858.6,567.3 859.3,565.8 860.0,566.7 860.7,565.4 861.5,565.7 862.2,566.4 862.9,565.1 863.6,565.6 864.4,566.3 865.1,565.4 865.8,565.9 866.5,567.5 867.3,566.6 868.0,567.4 868.7,568.1 869.5,569.4 870.2,569.3 870.9,571.1 871.6,571.2 872.4,571.0 873.1,571.8 873.8,572.0 874.5,571.3 875.3,572.7 876.0,572.6 876.7,573.0 877.4,573.0 878.2,571.9 878.9,571.9 879.6,573.4 880.3,572.7 881.1,573.6 881.8,573.0 882.5,573.6 883.3,572.1 884.0,573.6 884.7,573.2 885.4,572.6 886.2,573.8 886.9,572.7 887.6,573.9 888.3,572.6 889.1,573.0 889.8,572.9 890.5,573.0 891.2,573.8 892.0,572.9 892.7,573.0 893.4,574.2 894.1,573.1 894.9,573.4 895.6,572.9 896.3,572.2 897.1,572.6 897.8,572.6 898.5,571.6 899.2,572.9 900.0,572.4 900.7,572.3 901.4,571.9 902.1,570.7 902.9,570.8 903.6,569.8 904.3,569.0 905.0,568.4 905.8,568.7 906.5,567.5 907.2,567.4 907.9,566.9 908.7,566.7 909.4,567.1 910.1,567.1 910.8,566.3 911.6,566.2 912.3,565.1 913.0,565.9 913.8,565.0 914.5,564.4 915.2,562.6 915.9,560.4 916.7,557.3 917.4,548.9 918.1,542.4 918.8,526.7 919.6,512.7 920.3,495.7 921.0,478.6 921.7,463.9 922.5,449.5 923.2,436.6 923.9,426.7 924.6,420.9 925.4,414.5 926.1,420.0 926.8,425.4 927.6,437.2 928.3,447.4 929.0,463.2 929.7,476.9 930.5,493.3 931.2,507.0 931.9,518.9 932.6,532.7 933.4,540.8 934.1,550.2 934.8,556.6 935.5,560.4 936.2,562.7 936.8,564.7 937.4,566.5 938.3,567.6 939.1,569.1 939.9,569.2 940.6,570.7 941.4,570.4 942.1,571.4 942.8,571.2 943.5,571.2 944.3,572.2 945.0,572.1 945.7,573.0 946.4,573.5 947.2,573.4 947.9,574.5 948.6,574.0 949.3,575.3 950.1,575.1 950.8,575.7 951.5,576.0 952.2,575.1 953.0,576.4 953.7,577.0 954.4,576.4 955.1,576.2 955.9,576.9 956.6,577.9 957.3,576.9 958.1,577.2 958.8,578.6 959.5,577.9 960.2,577.9 961.0,579.6 961.7,578.4 962.4,579.4 963.2,578.6 963.9,579.6 964.7,578.8 965.4,579.1 966.2,578.2 966.9,578.7 967.7,579.5 968.4,578.3 969.1,579.4 969.9,578.2 970.6,579.8 971.4,579.0 972.1,578.9 972.9,578.7 973.6,579.6 974.3,579.4 975.1,578.5 975.8,578.5 976.6,578.5 977.3,578.6 978.1,578.7 978.8,579.9 979.6,579.4 980.3,578.8 981.0,579.1 981.8,579.5 982.5,579.3 983.3,580.1 984.0,579.0 984.8,578.9 985.5,579.2 986.3,579.2 987.0,578.9 987.7,579.9 988.5,579.0 989.2,579.5 990.0,579.2 990.7,579.2 991.5,579.6"/></defs>
<use href="#c23k" fill="none" stroke="#231f20" stroke-width="2.75" stroke-linejoin="round"/>
<rect x="816.65" y="404.65" width="175.50" height="175.60" fill="none" stroke="#231f20" stroke-width="2.7"/>
<path d="M811.0,580.0 H815.8 M813.3,571.2 H815.8 M813.3,562.4 H815.8 M813.3,553.6 H815.8 M813.3,544.8 H815.8 M811.0,536.0 H815.8 M813.3,527.2 H815.8 M813.3,518.4 H815.8 M813.3,509.6 H815.8 M813.3,500.8 H815.8 M811.0,492.0 H815.8 M813.3,483.2 H815.8 M813.3,474.4 H815.8 M813.3,465.6 H815.8 M813.3,456.8 H815.8 M811.0,448.0 H815.8 M813.3,439.2 H815.8 M813.3,430.4 H815.8 M813.3,421.6 H815.8 M813.3,412.8 H815.8" stroke="#231f20" stroke-width="2.1" fill="none"/>
<path d="M817.4,581.1 V586.0 M833.9,581.1 V586.0 M853.2,581.1 V586.0 M895.3,581.1 V586.0 M936.0,581.1 V586.0 M974.6,581.1 V586.0 M825.4,581.1 V584.0 M844.3,581.1 V584.0 M865.9,581.1 V584.0 M873.3,581.1 V584.0 M878.5,581.1 V584.0 M882.6,581.1 V584.0 M886.0,581.1 V584.0 M888.8,581.1 V584.0 M891.2,581.1 V584.0 M893.4,581.1 V584.0 M907.6,581.1 V584.0 M914.7,581.1 V584.0 M919.8,581.1 V584.0 M923.7,581.1 V584.0 M927.0,581.1 V584.0 M929.7,581.1 V584.0 M932.1,581.1 V584.0 M934.1,581.1 V584.0 M947.6,581.1 V584.0 M954.4,581.1 V584.0 M959.2,581.1 V584.0 M963.0,581.1 V584.0 M966.0,581.1 V584.0 M968.6,581.1 V584.0 M970.9,581.1 V584.0 M972.8,581.1 V584.0 M986.2,581.1 V584.0" stroke="#231f20" stroke-width="2.1" fill="none"/>
<path d="M816.4,498.3 H900.7" stroke="#231f20" stroke-width="2.75" fill="none"/>
<path d="M816.4,492.9 V503.7 M900.7,492.9 V503.7" stroke="#231f20" stroke-width="3.0" fill="none"/>
<text transform="translate(897.05 477.97) scale(1.0 1.04)" x="-67.15" y="0" font-size="35.3" >19.7</text>
<defs><path id="c24k" d="M1006.9,579.6 1007.6,579.5 1008.4,580.0 1009.2,579.2 1009.9,580.1 1010.7,579.3 1011.4,579.9 1012.2,579.0 1012.9,579.0 1013.7,580.0 1014.5,579.4 1015.2,579.2 1016.0,579.8 1016.7,580.1 1017.5,579.0 1018.2,579.7 1019.0,579.3 1019.8,579.7 1020.5,580.1 1021.3,578.7 1022.0,579.7 1022.8,579.2 1023.5,579.6 1024.3,579.8 1025.0,578.5 1025.8,578.5 1026.5,578.7 1027.2,577.8 1028.0,578.2 1028.7,578.1 1029.4,577.4 1030.1,578.4 1030.9,578.2 1031.6,577.4 1032.3,577.1 1033.0,576.6 1033.8,576.6 1034.5,576.1 1035.2,575.7 1035.9,576.5 1036.7,575.1 1037.4,574.4 1038.1,574.1 1038.8,573.2 1039.6,574.1 1040.3,573.5 1041.0,572.0 1041.8,572.3 1042.5,571.3 1043.2,569.9 1043.9,568.7 1044.7,569.2 1045.4,568.2 1046.1,567.0 1046.8,567.7 1047.6,566.0 1048.3,565.2 1049.0,565.3 1049.7,565.5 1050.5,564.0 1051.2,564.0 1051.9,563.7 1052.6,564.6 1053.4,564.6 1054.1,563.4 1054.8,563.5 1055.5,564.9 1056.3,565.8 1057.0,565.4 1057.7,565.5 1058.5,566.7 1059.2,566.1 1059.9,567.8 1060.6,566.4 1061.4,566.8 1062.1,567.9 1062.8,567.4 1063.5,567.0 1064.3,568.4 1065.0,567.4 1065.7,567.8 1066.4,567.5 1067.2,567.9 1067.9,567.8 1068.6,568.7 1069.3,567.2 1070.1,566.9 1070.8,567.2 1071.5,566.8 1072.3,567.6 1073.0,566.7 1073.7,566.7 1074.4,567.1 1075.2,567.3 1075.9,567.9 1076.6,568.4 1077.3,568.1 1078.1,568.5 1078.8,569.2 1079.5,569.5 1080.2,569.2 1081.0,570.0 1081.7,569.4 1082.4,570.0 1083.1,569.5 1083.9,569.2 1084.6,568.2 1085.3,568.0 1086.1,568.0 1086.8,569.3 1087.5,569.6 1088.2,569.2 1089.0,568.4 1089.7,569.2 1090.4,568.9 1091.3,569.2 1092.2,569.3 1093.0,568.0 1093.8,566.7 1094.7,565.5 1095.5,565.7 1096.2,564.6 1096.9,564.9 1097.7,563.7 1098.4,563.7 1099.1,563.6 1099.8,563.6 1100.6,563.2 1101.3,562.8 1102.0,562.7 1102.8,562.7 1103.5,563.7 1104.4,560.4 1105.2,557.1 1105.9,549.0 1106.7,541.7 1107.4,527.0 1108.1,512.3 1108.9,495.0 1109.6,478.3 1110.3,463.5 1111.0,449.3 1111.8,438.2 1112.5,425.8 1113.1,422.6 1113.7,418.1 1114.4,413.9 1115.1,420.8 1115.8,427.5 1116.6,438.2 1117.3,451.2 1118.0,466.6 1118.7,480.4 1119.5,495.8 1120.2,509.3 1120.9,522.1 1121.6,534.0 1122.4,543.5 1123.1,552.4 1123.8,558.5 1124.5,562.2 1125.3,564.9 1126.0,567.1 1126.7,569.9 1127.4,570.0 1128.2,570.0 1128.9,571.3 1129.6,573.1 1130.4,573.5 1131.1,572.7 1131.8,574.0 1132.5,573.6 1133.3,575.3 1134.0,575.3 1134.7,575.7 1135.4,574.6 1136.2,576.3 1136.9,575.4 1137.6,576.9 1138.3,576.1 1139.1,577.3 1139.8,576.7 1140.5,576.7 1141.2,577.0 1142.0,577.1 1142.7,577.4 1143.4,577.2 1144.1,576.9 1144.9,577.2 1145.6,577.7 1146.3,578.4 1147.1,577.7 1147.8,578.8 1148.5,577.8 1149.2,578.5 1150.0,577.8 1150.7,579.4 1151.5,579.5 1152.2,578.2 1153.0,578.4 1153.7,579.4 1154.5,578.1 1155.2,578.9 1155.9,578.1 1156.7,578.1 1157.4,579.0 1158.2,579.2 1158.9,578.8 1159.7,578.3 1160.4,578.5 1161.1,578.1 1161.9,578.3 1162.6,578.8 1163.4,579.2 1164.1,579.0 1164.9,579.6 1165.6,579.7 1166.3,579.9 1167.1,579.3 1167.8,579.7 1168.6,579.9 1169.3,578.8 1170.1,579.0 1170.8,579.5 1171.5,579.1 1172.3,579.8 1173.0,579.0 1173.8,579.4 1174.5,578.9 1175.3,579.9 1176.0,579.2 1176.7,579.3 1177.5,579.4 1178.2,579.2 1179.0,580.1 1179.7,579.9 1180.5,579.6"/></defs>
<use href="#c24k" fill="none" stroke="#231f20" stroke-width="2.75" stroke-linejoin="round"/>
<rect x="1005.75" y="404.65" width="175.50" height="175.60" fill="none" stroke="#231f20" stroke-width="2.7"/>
<path d="M1000.1,580.0 H1004.9 M1002.4,566.7 H1004.9 M1002.4,553.5 H1004.9 M1002.4,540.2 H1004.9 M1000.1,527.0 H1004.9 M1002.4,513.7 H1004.9 M1002.4,500.5 H1004.9 M1002.4,487.2 H1004.9 M1000.1,474.0 H1004.9 M1002.4,460.7 H1004.9 M1002.4,447.5 H1004.9 M1002.4,434.2 H1004.9 M1000.1,421.0 H1004.9 M1002.4,407.7 H1004.9" stroke="#231f20" stroke-width="2.1" fill="none"/>
<path d="M1006.5,581.1 V586.0 M1023.0,581.1 V586.0 M1042.3,581.1 V586.0 M1084.4,581.1 V586.0 M1125.1,581.1 V586.0 M1163.7,581.1 V586.0 M1014.5,581.1 V584.0 M1033.4,581.1 V584.0 M1055.0,581.1 V584.0 M1062.4,581.1 V584.0 M1067.6,581.1 V584.0 M1071.7,581.1 V584.0 M1075.1,581.1 V584.0 M1077.9,581.1 V584.0 M1080.3,581.1 V584.0 M1082.5,581.1 V584.0 M1096.7,581.1 V584.0 M1103.8,581.1 V584.0 M1108.9,581.1 V584.0 M1112.8,581.1 V584.0 M1116.1,581.1 V584.0 M1118.8,581.1 V584.0 M1121.2,581.1 V584.0 M1123.2,581.1 V584.0 M1136.7,581.1 V584.0 M1143.5,581.1 V584.0 M1148.3,581.1 V584.0 M1152.1,581.1 V584.0 M1155.1,581.1 V584.0 M1157.7,581.1 V584.0 M1160.0,581.1 V584.0 M1161.9,581.1 V584.0 M1175.3,581.1 V584.0" stroke="#231f20" stroke-width="2.1" fill="none"/>
<path d="M1005.4,498.3 H1089.7" stroke="#231f20" stroke-width="2.75" fill="none"/>
<path d="M1005.4,492.9 V503.7 M1089.7,492.9 V503.7" stroke="#231f20" stroke-width="3.0" fill="none"/>
<text transform="translate(1087.21 477.97) scale(1.0 1.04)" x="-67.29" y="0" font-size="35.3" >24.2</text>
<defs><path id="c25k" d="M1195.9,579.6 1196.6,579.7 1197.4,579.8 1198.2,579.5 1198.9,578.9 1199.7,578.6 1200.5,580.1 1201.2,579.6 1202.0,578.6 1202.8,579.2 1203.5,578.5 1204.3,579.8 1205.1,580.1 1205.8,578.6 1206.6,578.5 1207.3,578.4 1208.1,579.2 1208.9,579.7 1209.6,578.6 1210.4,578.6 1211.1,579.4 1211.9,579.7 1212.6,579.4 1213.3,578.7 1214.0,579.0 1214.8,577.8 1215.5,578.7 1216.2,577.9 1216.9,577.7 1217.7,576.9 1218.4,576.6 1219.1,575.8 1219.8,576.8 1220.6,576.0 1221.3,575.3 1222.0,576.0 1222.8,574.8 1223.5,574.1 1224.2,574.3 1224.9,573.1 1225.7,572.8 1226.4,571.2 1227.1,570.7 1227.8,570.6 1228.6,569.3 1229.3,568.9 1230.0,568.3 1230.7,567.3 1231.5,566.0 1232.2,564.4 1232.9,563.2 1233.6,563.2 1234.4,563.0 1235.1,561.9 1235.8,562.1 1236.5,561.8 1237.3,560.7 1238.0,560.5 1238.7,560.3 1239.5,560.8 1240.2,561.6 1240.9,562.3 1241.6,562.2 1242.4,562.7 1243.1,563.9 1243.8,563.6 1244.5,564.9 1245.3,566.5 1246.0,567.2 1246.7,568.4 1247.4,568.5 1248.2,569.1 1248.9,569.5 1249.6,569.9 1250.3,570.2 1251.1,570.4 1251.8,571.3 1252.5,571.6 1253.3,571.8 1254.0,572.2 1254.7,571.5 1255.4,571.6 1256.2,571.7 1256.9,571.9 1257.6,571.8 1258.3,571.9 1259.1,570.7 1259.8,570.0 1260.5,571.0 1261.2,570.4 1262.0,570.4 1262.7,570.5 1263.4,571.5 1264.1,571.7 1264.9,570.9 1265.6,572.1 1266.3,570.8 1267.1,571.7 1267.8,571.9 1268.5,570.9 1269.2,572.2 1270.0,570.8 1270.7,571.6 1271.4,571.6 1272.1,570.2 1272.9,570.8 1273.6,570.4 1274.3,570.8 1275.0,571.6 1275.8,571.6 1276.5,571.5 1277.2,571.4 1277.9,570.7 1278.7,571.7 1279.4,570.7 1280.1,571.2 1280.8,570.1 1281.6,569.1 1282.3,568.6 1283.0,567.5 1283.8,566.2 1284.5,566.8 1285.2,564.8 1285.9,564.2 1286.7,564.2 1287.4,564.1 1288.1,563.5 1288.8,563.2 1289.6,563.8 1290.3,563.9 1291.0,563.8 1291.7,563.5 1292.5,559.9 1293.2,559.0 1293.9,552.2 1294.6,547.1 1295.4,535.6 1296.1,524.0 1296.8,506.4 1297.6,487.1 1298.3,472.7 1299.0,458.4 1299.7,448.4 1300.5,435.7 1301.2,430.2 1301.9,423.2 1302.6,417.2 1303.4,414.5 1304.1,420.5 1304.8,426.1 1305.5,438.5 1306.3,451.8 1307.0,466.3 1307.7,480.1 1308.4,494.4 1309.2,509.8 1309.9,521.2 1310.6,532.4 1311.4,539.6 1312.1,547.7 1312.8,552.2 1313.5,557.6 1314.3,561.2 1315.0,564.4 1315.7,567.0 1316.4,567.8 1317.2,568.5 1317.9,570.1 1318.6,571.4 1319.3,571.9 1320.1,571.8 1320.8,571.5 1321.5,573.1 1322.2,572.9 1323.0,573.6 1323.7,573.9 1324.4,573.4 1325.1,573.6 1325.9,573.4 1326.6,573.8 1327.3,575.3 1328.1,574.6 1328.8,575.7 1329.5,576.2 1330.2,576.4 1331.0,575.8 1331.7,576.2 1332.4,577.0 1333.1,576.1 1333.9,576.4 1334.6,576.7 1335.3,577.6 1336.0,576.4 1336.8,578.1 1337.5,577.7 1338.2,577.8 1338.9,577.7 1339.7,577.9 1340.4,578.0 1341.1,578.9 1341.9,577.7 1342.6,578.9 1343.4,578.3 1344.1,579.0 1344.9,577.9 1345.6,579.0 1346.3,579.6 1347.1,578.4 1347.8,579.1 1348.6,578.0 1349.3,579.5 1350.1,578.7 1350.8,579.8 1351.6,578.7 1352.3,578.7 1353.1,578.4 1353.8,578.4 1354.6,579.3 1355.3,578.6 1356.0,578.3 1356.8,579.2 1357.5,579.1 1358.3,580.1 1359.0,578.7 1359.8,579.5 1360.5,580.1 1361.3,579.2 1362.0,580.1 1362.8,578.7 1363.5,579.7 1364.2,580.0 1365.0,579.0 1365.7,579.3 1366.5,579.6 1367.2,578.9 1368.0,579.8 1368.7,579.6"/></defs>
<use href="#c25k" fill="none" stroke="#231f20" stroke-width="2.75" stroke-linejoin="round"/>
<rect x="1194.85" y="404.65" width="175.50" height="175.60" fill="none" stroke="#231f20" stroke-width="2.7"/>
<path d="M1189.2,580.0 H1194.0 M1191.5,572.8 H1194.0 M1191.5,565.6 H1194.0 M1191.5,558.4 H1194.0 M1191.5,551.2 H1194.0 M1189.2,544.0 H1194.0 M1191.5,536.8 H1194.0 M1191.5,529.6 H1194.0 M1191.5,522.4 H1194.0 M1191.5,515.2 H1194.0 M1189.2,508.0 H1194.0 M1191.5,500.8 H1194.0 M1191.5,493.6 H1194.0 M1191.5,486.3 H1194.0 M1191.5,479.1 H1194.0 M1189.2,471.9 H1194.0 M1191.5,464.7 H1194.0 M1191.5,457.5 H1194.0 M1191.5,450.3 H1194.0 M1191.5,443.1 H1194.0 M1189.2,435.9 H1194.0 M1191.5,428.7 H1194.0 M1191.5,421.5 H1194.0 M1191.5,414.3 H1194.0 M1191.5,407.1 H1194.0" stroke="#231f20" stroke-width="2.1" fill="none"/>
<path d="M1195.6,581.1 V586.0 M1212.1,581.1 V586.0 M1231.4,581.1 V586.0 M1273.5,581.1 V586.0 M1314.2,581.1 V586.0 M1352.8,581.1 V586.0 M1203.6,581.1 V584.0 M1222.5,581.1 V584.0 M1244.1,581.1 V584.0 M1251.5,581.1 V584.0 M1256.7,581.1 V584.0 M1260.8,581.1 V584.0 M1264.2,581.1 V584.0 M1267.0,581.1 V584.0 M1269.4,581.1 V584.0 M1271.6,581.1 V584.0 M1285.8,581.1 V584.0 M1292.9,581.1 V584.0 M1298.0,581.1 V584.0 M1301.9,581.1 V584.0 M1305.2,581.1 V584.0 M1307.9,581.1 V584.0 M1310.3,581.1 V584.0 M1312.3,581.1 V584.0 M1325.8,581.1 V584.0 M1332.6,581.1 V584.0 M1337.4,581.1 V584.0 M1341.2,581.1 V584.0 M1344.2,581.1 V584.0 M1346.8,581.1 V584.0 M1349.1,581.1 V584.0 M1351.0,581.1 V584.0 M1364.4,581.1 V584.0" stroke="#231f20" stroke-width="2.1" fill="none"/>
<path d="M1195.2,498.3 H1279.4" stroke="#231f20" stroke-width="2.75" fill="none"/>
<path d="M1195.2,492.9 V503.7 M1279.4,492.9 V503.7" stroke="#231f20" stroke-width="3.0" fill="none"/>
<text transform="translate(1279.40 477.97) scale(1.0 1.04)" x="-67.26" y="0" font-size="35.3" >25.0</text>
<defs><path id="c30g" d="M251.6,827.4 251.6,821.6 252.3,817.3 253.1,814.2 253.8,810.9 254.5,808.0 255.3,807.5 256.0,805.6 256.7,803.8 257.4,803.5 258.2,802.3 258.9,798.8 259.6,795.2 260.3,792.3 261.1,791.9 261.8,788.3 262.5,786.1 263.2,786.0 264.0,782.8 264.7,781.9 265.4,778.8 266.1,777.4 266.9,769.4 267.6,763.4 268.3,756.2 269.0,754.7 269.8,750.8 270.5,749.9 271.2,739.3 272.0,731.0 272.7,728.5 273.4,725.3 274.1,721.7 274.9,712.1 275.6,701.2 276.3,694.5 277.0,686.4 277.8,685.0 278.5,684.5 279.2,679.8 279.9,671.3 280.7,672.5 281.4,669.8 282.1,672.0 282.8,667.6 283.6,661.0 284.3,663.5 285.0,664.2 285.8,662.7 286.5,664.9 287.2,662.7 287.9,662.3 288.7,668.5 289.4,668.2 290.1,671.8 290.8,678.2 291.6,682.9 292.3,685.4 293.0,689.5 293.7,698.2 294.5,706.0 295.2,713.5 295.9,722.2 296.6,730.2 297.4,735.7 298.1,744.2 298.8,750.9 299.5,757.6 300.3,765.1 301.0,773.1 301.7,779.1 302.5,786.5 303.2,793.2 303.9,799.3 304.6,803.7 305.4,808.5 306.1,810.4 306.8,813.1 307.5,815.3 308.3,816.5 309.0,817.0 309.7,817.8 310.4,819.1 311.2,820.2 311.9,819.9 312.6,820.1 313.3,821.1 314.1,822.4 314.8,821.2 315.5,822.7 316.3,823.4 317.0,822.7 317.7,823.1 318.4,823.7 319.2,822.8 319.9,822.9 320.6,824.1 321.3,823.5 322.1,823.6 322.8,823.3 323.5,824.8 324.2,824.0 325.0,825.1 325.7,823.9 326.4,825.2 327.1,825.6 327.9,826.2 328.6,825.9 329.3,825.8 330.1,826.9 330.8,826.0 331.5,827.8 332.2,826.5 333.0,826.6 333.7,827.0 334.5,827.4 335.2,826.7 336.0,826.8 336.7,827.3 337.4,826.4 338.2,827.9 338.9,827.0 339.7,826.9 340.4,826.5 341.2,826.8 341.9,827.9 342.6,827.5 343.4,827.2 344.1,827.9 344.9,826.6 345.6,827.3 346.4,826.8 347.1,827.3 347.9,827.3 348.6,827.9 349.3,826.6 350.1,827.9 350.8,826.9 351.6,827.2 352.3,827.0 353.1,827.7 353.8,827.1 354.5,826.4 355.3,826.4 356.0,827.5 356.8,827.2 357.5,827.4 358.3,826.8 359.0,827.9 359.7,827.7 360.5,827.7 361.2,827.0 362.0,827.9 362.7,827.9 363.5,827.4 Z"/></defs>
<use href="#c30g" fill="#dcdddf" stroke="#939598" stroke-width="2.4" stroke-linejoin="round"/>
<clipPath id="c30g0"><rect x="248.0" y="650.9" width="178.2" height="98.2"/></clipPath>
<use href="#c30g" fill="none" stroke="#939598" stroke-linejoin="round" stroke-width="2.7" clip-path="url(#c30g0)"/>
<clipPath id="c30g1"><rect x="248.0" y="650.9" width="178.2" height="71.4"/></clipPath>
<use href="#c30g" fill="none" stroke="#939598" stroke-linejoin="round" stroke-width="3.1" clip-path="url(#c30g1)"/>
<clipPath id="c30g2"><rect x="248.0" y="650.9" width="178.2" height="48.2"/></clipPath>
<use href="#c30g" fill="none" stroke="#939598" stroke-linejoin="round" stroke-width="3.6" clip-path="url(#c30g2)"/>
<clipPath id="c30g3"><rect x="248.0" y="650.9" width="178.2" height="30.3"/></clipPath>
<use href="#c30g" fill="none" stroke="#939598" stroke-linejoin="round" stroke-width="4.0" clip-path="url(#c30g3)"/>
<defs><path id="c30k" d="M251.6,827.4 251.6,657.4 252.2,685.6 252.8,714.0 253.8,743.2 254.5,746.8 255.3,750.4 256.0,759.0 256.7,765.9 257.4,769.0 258.2,772.8 258.9,769.5 259.6,760.9 260.3,757.2 261.1,751.9 261.8,752.3 262.5,749.6 263.2,750.7 264.0,739.0 264.7,728.2 265.3,714.6 265.9,697.5 266.9,700.6 267.9,715.8 268.5,728.1 269.0,736.6 269.8,741.2 270.5,745.5 271.2,747.7 272.0,748.7 272.5,742.6 273.1,737.1 274.0,727.9 274.9,719.2 275.6,722.7 276.3,724.2 277.0,717.2 277.8,714.0 278.5,711.3 279.2,710.0 279.9,716.0 280.7,721.0 281.4,715.7 282.1,709.9 282.8,708.7 283.6,703.9 284.3,702.8 285.0,699.6 285.8,706.3 286.5,711.4 287.2,716.0 287.9,726.1 288.7,715.2 289.4,700.7 290.1,693.1 290.8,689.2 291.6,685.4 292.3,683.1 293.0,680.7 293.7,676.9 294.5,671.2 295.2,664.7 295.9,663.6 296.6,666.6 297.4,661.3 298.1,663.1 298.8,673.9 299.5,682.8 300.3,708.5 301.0,724.0 301.7,728.3 302.5,732.6 303.2,729.9 303.9,729.1 304.6,729.2 305.4,734.1 306.1,736.6 306.8,732.0 307.5,725.7 308.3,727.7 309.0,730.1 309.7,735.9 310.4,742.4 311.2,744.1 311.9,742.7 312.6,742.1 313.3,740.1 314.1,742.7 314.8,747.9 315.5,749.7 316.3,746.0 317.0,742.7 317.7,740.7 318.4,741.8 319.2,740.4 319.9,742.5 320.6,748.5 321.3,755.9 322.1,762.1 322.8,766.5 323.5,772.6 324.2,772.3 325.0,770.5 325.7,769.6 326.4,765.4 327.1,763.3 327.9,760.4 328.6,764.7 329.3,769.2 330.1,774.1 330.8,782.3 331.5,786.2 332.2,788.0 333.0,791.9 333.7,794.0 334.4,794.2 335.1,792.6 335.9,790.0 336.6,789.8 337.3,791.4 338.0,792.4 338.8,793.5 339.5,797.1 340.2,798.3 340.9,800.6 341.7,800.4 342.4,801.1 343.1,803.8 343.8,805.9 344.6,806.7 345.3,810.6 346.0,813.7 346.8,816.4 347.5,815.7 348.2,813.3 348.9,812.8 349.7,812.1 350.4,809.4 351.1,808.8 351.8,809.4 352.6,811.3 353.3,812.2 354.0,812.9 354.7,814.1 355.5,815.6 356.2,816.3 356.9,817.8 357.6,816.8 358.4,817.6 359.1,819.8 359.8,819.3 360.6,821.5 361.3,821.3 362.0,821.3 362.7,823.7 363.5,823.5 364.2,825.2 364.9,826.0 365.6,827.0 366.4,826.5 367.1,827.1 367.8,826.4 368.5,826.5 369.3,827.1 370.0,827.0 370.7,826.7 371.4,827.1 372.2,826.5 372.9,826.9 373.6,827.2 374.4,825.7 375.1,826.6 375.8,825.4 376.5,826.0 377.3,825.5 378.0,825.4 378.7,825.4 379.4,825.2 380.2,825.3 380.9,826.4 381.6,827.6 382.3,827.8 383.1,826.6 383.8,827.9 384.5,827.8 385.2,827.4 386.0,827.9 386.8,827.5 387.5,827.7 388.3,827.5 389.0,827.6 389.8,827.7 390.5,826.6 391.3,827.7 392.0,827.4 392.8,826.8 393.5,827.8 394.3,827.1 395.0,827.4 395.8,826.9 396.6,827.6 397.3,827.6 398.1,826.9 398.8,826.7 399.6,827.9 400.3,827.9 401.1,826.6 401.8,827.3 402.6,827.0 403.3,826.6 404.1,827.4 404.9,826.5 405.6,827.0 406.4,827.9 407.1,827.2 407.9,827.4 408.6,827.4 409.4,827.4 410.1,826.7 410.9,827.9 411.6,826.5 412.4,827.9 413.1,827.9 413.9,826.7 414.7,826.7 415.4,827.0 416.2,826.9 416.9,827.9 417.7,827.7 418.4,827.9 419.2,826.7 419.9,827.9 420.7,826.6 421.4,827.9 422.2,827.8 423.0,827.8 423.7,827.7 424.5,827.4"/></defs>
<use href="#c30k" fill="none" stroke="#231f20" stroke-width="2.95" stroke-linejoin="round"/>
<rect x="249.35" y="652.25" width="175.50" height="175.80" fill="none" stroke="#231f20" stroke-width="2.7"/>
<path d="M243.7,827.8 H248.5 M246.0,821.1 H248.5 M246.0,814.4 H248.5 M246.0,807.8 H248.5 M246.0,801.1 H248.5 M243.7,794.4 H248.5 M246.0,787.7 H248.5 M246.0,781.0 H248.5 M246.0,774.4 H248.5 M246.0,767.7 H248.5 M243.7,761.0 H248.5 M246.0,754.3 H248.5 M246.0,747.6 H248.5 M246.0,741.0 H248.5 M246.0,734.3 H248.5 M243.7,727.6 H248.5 M246.0,720.9 H248.5 M246.0,714.2 H248.5 M246.0,707.6 H248.5 M246.0,700.9 H248.5 M243.7,694.2 H248.5 M246.0,687.5 H248.5 M246.0,680.8 H248.5 M246.0,674.2 H248.5 M246.0,667.5 H248.5 M243.7,660.8 H248.5 M246.0,654.1 H248.5" stroke="#231f20" stroke-width="2.1" fill="none"/>
<path d="M250.1,828.9 V833.8 M266.6,828.9 V833.8 M285.9,828.9 V833.8 M328.0,828.9 V833.8 M368.7,828.9 V833.8 M407.3,828.9 V833.8 M258.1,828.9 V831.8 M277.0,828.9 V831.8 M298.6,828.9 V831.8 M306.0,828.9 V831.8 M311.2,828.9 V831.8 M315.3,828.9 V831.8 M318.7,828.9 V831.8 M321.5,828.9 V831.8 M323.9,828.9 V831.8 M326.1,828.9 V831.8 M340.3,828.9 V831.8 M347.4,828.9 V831.8 M352.5,828.9 V831.8 M356.4,828.9 V831.8 M359.7,828.9 V831.8 M362.4,828.9 V831.8 M364.8,828.9 V831.8 M366.8,828.9 V831.8 M380.3,828.9 V831.8 M387.1,828.9 V831.8 M391.9,828.9 V831.8 M395.7,828.9 V831.8 M398.7,828.9 V831.8 M401.3,828.9 V831.8 M403.6,828.9 V831.8 M405.5,828.9 V831.8 M418.9,828.9 V831.8" stroke="#231f20" stroke-width="2.1" fill="none"/>
<path d="M308.3,734.2 H423.7" stroke="#231f20" stroke-width="2.75" fill="none"/>
<path d="M308.3,728.8 V739.6 M423.7,728.8 V739.6" stroke="#231f20" stroke-width="3.0" fill="none"/>
<text transform="translate(410.66 714.35) scale(1.0 1.04)" x="-67.43" y="0" font-size="35.3" >25.3</text>
<defs><path id="c31g" d="M440.6,827.4 440.6,822.6 441.3,820.4 442.1,819.2 442.8,817.0 443.5,812.2 444.3,807.8 445.0,805.3 445.7,803.0 446.4,802.5 447.2,799.9 447.9,798.5 448.6,795.4 449.3,794.0 450.1,789.6 450.8,789.1 451.5,785.0 452.2,780.2 453.0,771.7 453.7,767.6 454.4,762.8 455.1,761.0 455.9,762.9 456.6,755.0 457.3,747.5 458.0,741.7 458.8,736.3 459.5,727.9 460.2,721.7 461.0,718.5 461.7,717.2 462.4,713.9 463.1,711.8 463.9,707.8 464.6,715.0 465.3,723.3 466.0,715.9 466.8,711.4 467.5,697.8 468.2,686.1 468.9,674.1 469.7,669.3 470.4,664.7 471.1,663.3 471.8,662.1 472.6,661.6 473.3,660.6 474.0,662.6 474.8,659.7 475.5,660.1 476.2,662.1 476.9,663.8 477.7,669.2 478.4,677.5 479.1,684.6 479.8,694.1 480.6,701.1 481.3,699.6 482.0,697.2 482.7,698.4 483.5,701.8 484.2,715.6 484.9,725.2 485.6,735.5 486.4,745.8 487.1,754.8 487.8,765.7 488.5,775.7 489.3,785.3 490.0,787.3 490.7,790.4 491.5,793.7 492.2,797.7 492.9,800.5 493.6,805.2 494.4,806.7 495.1,810.2 495.8,811.4 496.5,813.0 497.3,814.2 498.0,813.4 498.7,814.6 499.4,815.6 500.2,814.2 500.9,815.4 501.6,815.4 502.3,815.8 503.1,816.4 503.8,815.3 504.5,816.4 505.3,817.0 506.0,817.1 506.7,817.5 507.4,818.0 508.2,819.5 508.9,819.6 509.6,820.1 510.3,820.5 511.1,821.1 511.8,820.2 512.5,822.1 513.2,821.8 514.0,822.2 514.7,823.5 515.4,823.8 516.1,824.8 516.9,825.4 517.6,825.7 518.3,824.9 519.1,826.5 519.8,826.3 520.5,827.7 521.2,826.7 522.0,826.8 522.7,826.7 523.5,827.3 524.2,827.4 525.0,827.8 525.7,826.4 526.4,826.6 527.2,826.8 527.9,826.2 528.7,826.5 529.4,826.6 530.2,826.2 530.9,827.1 531.6,826.5 532.4,826.5 533.1,827.5 533.9,826.9 534.6,827.9 535.4,826.9 536.1,826.8 536.9,827.0 537.6,826.4 538.3,826.9 539.1,827.1 539.8,827.0 540.6,827.9 541.3,827.1 542.1,827.0 542.8,826.5 543.5,827.4 544.3,826.8 545.0,827.7 545.8,827.9 546.5,827.3 547.3,826.5 548.0,827.2 548.7,826.6 549.5,826.8 550.2,826.7 551.0,827.9 551.7,827.5 552.5,827.4 Z"/></defs>
<use href="#c31g" fill="#dcdddf" stroke="#939598" stroke-width="2.4" stroke-linejoin="round"/>
<clipPath id="c31g0"><rect x="437.1" y="650.9" width="178.2" height="98.2"/></clipPath>
<use href="#c31g" fill="none" stroke="#939598" stroke-linejoin="round" stroke-width="2.7" clip-path="url(#c31g0)"/>
<clipPath id="c31g1"><rect x="437.1" y="650.9" width="178.2" height="71.4"/></clipPath>
<use href="#c31g" fill="none" stroke="#939598" stroke-linejoin="round" stroke-width="3.1" clip-path="url(#c31g1)"/>
<clipPath id="c31g2"><rect x="437.1" y="650.9" width="178.2" height="48.2"/></clipPath>
<use href="#c31g" fill="none" stroke="#939598" stroke-linejoin="round" stroke-width="3.6" clip-path="url(#c31g2)"/>
<clipPath id="c31g3"><rect x="437.1" y="650.9" width="178.2" height="30.3"/></clipPath>
<use href="#c31g" fill="none" stroke="#939598" stroke-linejoin="round" stroke-width="4.0" clip-path="url(#c31g3)"/>
<defs><path id="c31k" d="M440.6,827.4 440.6,656.3 441.3,684.0 442.1,737.0 442.8,758.8 443.5,759.2 444.3,761.1 445.0,761.4 445.7,763.1 446.4,763.9 447.2,756.1 447.9,749.7 448.6,743.2 449.3,739.3 450.1,735.5 450.8,732.7 451.5,729.1 452.2,735.6 453.0,738.2 453.7,747.5 454.4,754.0 455.4,739.2 456.0,722.9 456.6,701.8 457.3,695.2 458.0,691.2 458.8,688.0 459.5,688.5 460.2,694.7 461.0,696.8 461.7,700.5 462.4,700.7 463.1,702.5 463.9,706.2 464.6,712.2 465.3,708.2 466.0,705.6 466.8,703.9 467.5,700.5 468.2,696.0 468.9,695.6 469.7,691.7 470.4,685.3 471.1,683.9 471.8,679.2 472.6,679.0 473.3,683.2 474.0,692.1 474.8,682.9 475.5,678.3 476.2,684.7 476.9,690.6 477.7,685.1 478.4,676.9 479.1,682.1 479.8,688.9 480.4,679.4 481.0,673.1 482.0,661.4 482.7,666.0 483.5,664.5 484.2,668.8 484.9,669.4 485.6,674.3 486.4,675.6 487.1,676.3 487.8,678.5 488.5,679.4 489.3,676.2 490.0,676.0 490.7,681.4 491.5,685.6 492.2,694.1 492.9,696.6 493.5,700.4 494.1,708.4 495.1,729.7 495.8,722.8 496.5,716.8 497.3,713.7 498.0,711.3 498.7,713.0 499.4,716.0 500.2,712.3 500.9,706.4 501.6,706.8 502.3,704.7 503.4,712.3 503.9,713.6 504.5,712.2 505.3,710.0 506.0,713.4 506.7,712.0 507.4,713.9 508.2,711.9 508.9,712.0 509.6,713.7 510.3,715.4 511.1,720.0 511.8,729.9 512.5,741.2 513.2,751.8 514.0,758.6 514.7,767.9 515.4,772.7 516.1,781.2 516.9,782.2 517.6,786.3 518.3,790.9 519.1,797.0 519.8,802.3 520.5,803.3 521.2,805.1 521.9,803.8 522.5,802.4 523.1,798.7 523.8,799.3 524.5,797.4 525.2,797.8 525.8,797.7 526.4,799.2 527.0,798.3 527.8,798.9 528.5,798.8 529.2,800.4 529.9,801.6 530.7,801.8 531.4,801.3 532.0,804.2 532.7,807.7 533.3,810.0 534.2,811.6 535.0,812.7 535.8,810.3 536.5,810.3 537.2,807.8 537.9,807.3 538.7,808.2 539.4,807.0 540.1,809.6 540.8,808.8 541.6,809.1 542.3,810.7 543.0,811.1 543.7,814.2 544.5,815.5 545.2,817.8 545.9,819.7 546.6,819.8 547.4,820.8 548.1,819.9 548.8,819.7 549.6,819.7 550.3,819.0 551.0,820.3 551.7,819.5 552.5,821.3 553.2,822.7 553.9,824.1 554.6,825.4 555.4,826.8 556.1,826.7 556.8,827.6 557.6,827.9 558.4,827.6 559.1,826.8 559.9,827.2 560.6,827.4 561.4,827.6 562.1,827.9 562.9,827.7 563.6,827.9 564.4,827.9 565.1,827.0 565.9,827.8 566.7,826.6 567.4,827.9 568.2,827.9 568.9,827.4 569.7,827.5 570.4,827.8 571.2,827.5 571.9,827.9 572.7,827.9 573.5,826.6 574.2,827.9 575.0,827.9 575.7,827.1 576.5,827.8 577.2,827.3 578.0,826.8 578.7,827.0 579.5,827.9 580.2,827.8 581.0,827.9 581.8,827.6 582.5,827.6 583.3,827.2 584.0,826.7 584.8,826.6 585.5,827.1 586.3,827.9 587.0,827.9 587.8,826.9 588.5,827.0 589.3,827.9 590.1,827.9 590.8,827.9 591.6,826.8 592.3,827.9 593.1,827.4 593.8,827.5 594.6,826.6 595.3,827.2 596.1,827.9 596.9,827.5 597.6,826.6 598.4,827.9 599.1,826.6 599.9,826.9 600.6,827.9 601.4,826.6 602.1,827.9 602.9,827.4 603.6,827.8 604.4,827.8 605.2,827.8 605.9,827.8 606.7,827.4 607.4,827.1 608.2,826.6 608.9,827.9 609.7,826.8 610.4,827.9 611.2,827.1 611.9,826.7 612.7,826.8 613.5,827.4"/></defs>
<use href="#c31k" fill="none" stroke="#231f20" stroke-width="2.95" stroke-linejoin="round"/>
<rect x="438.45" y="652.25" width="175.50" height="175.80" fill="none" stroke="#231f20" stroke-width="2.7"/>
<path d="M432.8,827.8 H437.6 M435.1,821.1 H437.6 M435.1,814.4 H437.6 M435.1,807.8 H437.6 M435.1,801.1 H437.6 M432.8,794.4 H437.6 M435.1,787.7 H437.6 M435.1,781.0 H437.6 M435.1,774.4 H437.6 M435.1,767.7 H437.6 M432.8,761.0 H437.6 M435.1,754.3 H437.6 M435.1,747.6 H437.6 M435.1,741.0 H437.6 M435.1,734.3 H437.6 M432.8,727.6 H437.6 M435.1,720.9 H437.6 M435.1,714.2 H437.6 M435.1,707.6 H437.6 M435.1,700.9 H437.6 M432.8,694.2 H437.6 M435.1,687.5 H437.6 M435.1,680.8 H437.6 M435.1,674.2 H437.6 M435.1,667.5 H437.6 M432.8,660.8 H437.6 M435.1,654.1 H437.6" stroke="#231f20" stroke-width="2.1" fill="none"/>
<path d="M439.2,828.9 V833.8 M455.7,828.9 V833.8 M475.0,828.9 V833.8 M517.1,828.9 V833.8 M557.8,828.9 V833.8 M596.4,828.9 V833.8 M447.2,828.9 V831.8 M466.1,828.9 V831.8 M487.7,828.9 V831.8 M495.1,828.9 V831.8 M500.3,828.9 V831.8 M504.4,828.9 V831.8 M507.8,828.9 V831.8 M510.6,828.9 V831.8 M513.0,828.9 V831.8 M515.2,828.9 V831.8 M529.4,828.9 V831.8 M536.5,828.9 V831.8 M541.6,828.9 V831.8 M545.5,828.9 V831.8 M548.8,828.9 V831.8 M551.5,828.9 V831.8 M553.9,828.9 V831.8 M555.9,828.9 V831.8 M569.4,828.9 V831.8 M576.2,828.9 V831.8 M581.0,828.9 V831.8 M584.8,828.9 V831.8 M587.8,828.9 V831.8 M590.4,828.9 V831.8 M592.7,828.9 V831.8 M594.6,828.9 V831.8 M608.0,828.9 V831.8" stroke="#231f20" stroke-width="2.1" fill="none"/>
<path d="M498.4,734.7 H612.7" stroke="#231f20" stroke-width="2.75" fill="none"/>
<path d="M498.4,729.3 V740.1 M612.7,729.3 V740.1" stroke="#231f20" stroke-width="3.0" fill="none"/>
<text transform="translate(596.76 714.35) scale(1.0 1.04)" x="-67.43" y="0" font-size="35.3" >25.6</text>
<defs><path id="c32g" d="M629.6,827.4 629.6,820.6 630.3,818.0 631.1,815.5 631.8,811.7 632.5,808.5 633.3,805.6 634.0,800.9 634.7,798.6 635.4,795.3 636.2,792.8 636.9,792.2 637.6,792.7 638.3,794.0 639.1,785.4 639.8,780.7 640.5,774.9 641.2,770.4 642.0,768.0 642.7,767.0 643.4,766.3 644.1,764.3 644.9,763.1 645.6,753.5 646.3,746.3 647.0,743.1 647.8,741.2 648.5,741.4 649.2,738.6 650.0,737.4 650.7,735.2 651.4,731.5 652.1,727.5 652.9,725.7 653.6,719.8 654.3,712.5 655.0,708.7 655.8,700.7 656.5,696.9 657.2,691.1 657.9,686.9 658.7,680.6 659.4,676.8 660.1,668.8 660.8,668.4 661.6,665.1 662.3,667.0 663.0,665.3 663.8,662.1 664.5,660.6 665.2,664.4 665.9,663.5 666.7,663.7 667.4,669.1 668.1,675.1 668.8,677.7 669.6,677.0 670.3,681.8 671.0,690.5 671.7,693.6 672.5,700.6 673.2,708.0 673.9,713.0 674.6,720.2 675.4,728.4 676.1,736.0 676.8,743.2 677.5,749.6 678.3,756.6 679.0,766.5 679.7,776.2 680.5,783.3 681.2,791.1 681.8,796.5 682.4,799.9 683.1,803.8 683.9,807.3 684.8,809.7 685.5,812.1 686.3,814.3 687.0,817.1 687.7,817.9 688.4,818.4 689.2,818.8 689.9,818.6 690.6,817.1 691.3,817.7 692.1,816.2 692.8,815.7 693.5,814.2 694.3,814.3 695.0,813.6 695.7,814.1 696.4,814.4 697.2,815.0 697.9,814.8 698.6,816.1 699.3,818.1 700.1,818.2 700.8,819.4 701.5,820.8 702.2,821.7 703.0,822.7 703.7,822.9 704.4,823.8 705.1,825.0 705.9,825.0 706.6,825.2 707.3,825.4 708.1,826.5 708.8,826.3 709.5,826.4 710.2,826.1 711.0,826.0 711.7,826.1 712.4,827.3 713.2,826.7 713.9,826.7 714.6,827.8 715.4,827.7 716.1,826.5 716.9,827.3 717.6,826.8 718.4,826.6 719.1,826.5 719.8,826.8 720.6,826.9 721.3,827.0 722.1,826.7 722.8,827.8 723.6,826.5 724.3,826.7 725.0,827.9 725.8,827.1 726.5,827.4 727.3,827.3 728.0,826.3 728.8,827.1 729.5,826.7 730.2,826.9 731.0,827.9 731.7,827.9 732.5,826.4 733.2,827.0 734.0,826.6 734.7,827.4 735.4,827.9 736.2,827.2 736.9,827.5 737.7,826.6 738.4,826.7 739.2,827.3 739.9,826.7 740.6,827.2 741.4,827.0 742.1,826.6 742.9,827.2 743.6,826.6 744.4,827.4 Z"/></defs>
<use href="#c32g" fill="#dcdddf" stroke="#939598" stroke-width="2.4" stroke-linejoin="round"/>
<clipPath id="c32g0"><rect x="626.2" y="650.9" width="178.2" height="98.2"/></clipPath>
<use href="#c32g" fill="none" stroke="#939598" stroke-linejoin="round" stroke-width="2.7" clip-path="url(#c32g0)"/>
<clipPath id="c32g1"><rect x="626.2" y="650.9" width="178.2" height="71.4"/></clipPath>
<use href="#c32g" fill="none" stroke="#939598" stroke-linejoin="round" stroke-width="3.1" clip-path="url(#c32g1)"/>
<clipPath id="c32g2"><rect x="626.2" y="650.9" width="178.2" height="48.2"/></clipPath>
<use href="#c32g" fill="none" stroke="#939598" stroke-linejoin="round" stroke-width="3.6" clip-path="url(#c32g2)"/>
<clipPath id="c32g3"><rect x="626.2" y="650.9" width="178.2" height="30.3"/></clipPath>
<use href="#c32g" fill="none" stroke="#939598" stroke-linejoin="round" stroke-width="4.0" clip-path="url(#c32g3)"/>
<defs><path id="c32k" d="M629.6,827.4 629.6,686.2 630.3,729.0 631.1,763.2 631.8,762.8 632.5,762.2 633.3,763.2 634.0,761.4 634.7,763.8 635.4,763.4 636.2,767.0 636.9,767.9 637.6,766.7 638.3,769.6 639.1,762.5 639.8,759.3 640.5,742.2 641.2,729.7 642.0,721.0 642.7,712.2 643.4,715.0 644.1,716.0 644.9,715.4 645.6,713.2 646.3,712.6 647.0,709.4 647.8,714.0 648.5,719.0 649.2,719.7 650.0,723.4 650.7,722.2 651.4,724.1 652.1,726.5 652.9,726.6 653.6,730.4 654.3,718.0 655.0,706.3 655.8,700.9 656.5,691.5 657.2,685.6 657.9,679.7 658.7,684.0 659.4,689.9 660.1,700.5 660.8,710.3 661.6,709.7 662.3,710.0 663.0,695.1 663.8,682.6 664.5,675.3 665.2,660.9 665.9,662.1 666.7,662.9 667.4,672.0 668.1,681.1 668.8,678.4 669.6,677.8 670.3,667.7 671.0,663.0 671.7,665.2 672.5,664.2 673.2,678.0 673.9,693.6 674.6,695.0 675.4,697.7 676.1,704.7 676.8,711.7 677.5,719.1 678.3,726.8 679.0,736.9 679.7,743.8 680.5,750.0 681.2,756.2 681.9,762.6 682.6,770.7 683.4,768.4 684.1,769.7 684.8,766.6 685.5,767.4 686.3,769.0 687.0,773.7 687.7,778.6 688.4,787.1 689.2,794.2 689.9,802.2 690.6,805.2 691.3,806.8 692.1,808.1 692.8,811.0 693.5,813.1 694.3,815.5 695.0,816.9 695.7,818.8 696.4,819.9 697.2,821.3 697.9,821.0 698.6,821.5 699.3,823.2 700.1,822.7 700.8,822.8 701.5,822.5 702.2,820.6 703.0,820.8 703.7,819.3 704.4,819.4 705.1,819.3 705.9,819.0 706.6,820.5 707.3,820.5 708.1,820.3 708.8,821.4 709.5,822.8 710.2,822.2 711.0,822.3 711.7,822.2 712.4,822.6 713.1,823.0 713.9,821.1 714.6,820.6 715.3,820.2 716.0,820.9 716.8,821.1 717.5,819.8 718.2,820.0 718.9,819.8 719.7,820.1 720.4,820.7 721.1,822.3 721.8,822.9 722.6,822.1 723.3,823.1 724.0,822.4 724.8,821.5 725.5,822.0 726.2,822.3 726.9,821.8 727.7,821.1 728.4,820.2 729.1,820.7 729.8,822.7 730.6,822.4 731.3,822.9 732.0,823.5 732.7,822.1 733.5,822.4 734.2,822.1 734.9,821.5 735.6,820.7 736.4,822.1 737.1,820.1 737.8,820.6 738.6,823.0 739.3,822.6 740.0,822.5 740.7,823.0 741.5,824.2 742.2,823.3 742.9,824.6 743.6,825.8 744.4,825.4 745.1,825.7 745.8,826.3 746.5,827.2 747.3,827.8 748.0,827.1 748.7,827.9 749.5,827.3 750.2,826.7 751.0,827.5 751.7,826.9 752.5,827.0 753.2,827.8 753.9,827.1 754.7,826.6 755.4,827.9 756.2,826.5 756.9,827.9 757.7,827.9 758.4,827.7 759.2,827.1 759.9,827.8 760.7,827.6 761.4,827.3 762.2,827.9 762.9,827.2 763.6,826.6 764.4,826.5 765.1,827.9 765.9,827.9 766.6,827.2 767.4,827.9 768.1,826.9 768.9,827.6 769.6,826.7 770.4,827.2 771.1,827.8 771.9,827.7 772.6,827.5 773.3,827.1 774.1,827.9 774.8,827.3 775.6,827.8 776.3,826.9 777.1,827.9 777.8,827.5 778.6,827.9 779.3,827.6 780.1,826.8 780.8,827.9 781.6,827.4 782.3,827.8 783.1,827.4 783.8,827.1 784.5,827.2 785.3,827.9 786.0,827.4 786.8,826.6 787.5,827.9 788.3,826.6 789.0,827.6 789.8,827.6 790.5,827.5 791.3,827.3 792.0,827.5 792.8,827.8 793.5,827.8 794.2,826.9 795.0,827.0 795.7,827.8 796.5,827.8 797.2,826.6 798.0,826.6 798.7,827.9 799.5,827.3 800.2,826.9 801.0,827.3 801.7,827.6 802.5,827.4"/></defs>
<use href="#c32k" fill="none" stroke="#231f20" stroke-width="2.95" stroke-linejoin="round"/>
<rect x="627.55" y="652.25" width="175.50" height="175.80" fill="none" stroke="#231f20" stroke-width="2.7"/>
<path d="M621.9,827.8 H626.7 M624.2,821.1 H626.7 M624.2,814.4 H626.7 M624.2,807.8 H626.7 M624.2,801.1 H626.7 M621.9,794.4 H626.7 M624.2,787.7 H626.7 M624.2,781.0 H626.7 M624.2,774.4 H626.7 M624.2,767.7 H626.7 M621.9,761.0 H626.7 M624.2,754.3 H626.7 M624.2,747.6 H626.7 M624.2,741.0 H626.7 M624.2,734.3 H626.7 M621.9,727.6 H626.7 M624.2,720.9 H626.7 M624.2,714.2 H626.7 M624.2,707.6 H626.7 M624.2,700.9 H626.7 M621.9,694.2 H626.7 M624.2,687.5 H626.7 M624.2,680.8 H626.7 M624.2,674.2 H626.7 M624.2,667.5 H626.7 M621.9,660.8 H626.7 M624.2,654.1 H626.7" stroke="#231f20" stroke-width="2.1" fill="none"/>
<path d="M628.3,828.9 V833.8 M644.8,828.9 V833.8 M664.1,828.9 V833.8 M706.2,828.9 V833.8 M746.9,828.9 V833.8 M785.5,828.9 V833.8 M636.3,828.9 V831.8 M655.2,828.9 V831.8 M676.8,828.9 V831.8 M684.2,828.9 V831.8 M689.4,828.9 V831.8 M693.5,828.9 V831.8 M696.9,828.9 V831.8 M699.7,828.9 V831.8 M702.1,828.9 V831.8 M704.3,828.9 V831.8 M718.5,828.9 V831.8 M725.6,828.9 V831.8 M730.7,828.9 V831.8 M734.6,828.9 V831.8 M737.9,828.9 V831.8 M740.6,828.9 V831.8 M743.0,828.9 V831.8 M745.0,828.9 V831.8 M758.5,828.9 V831.8 M765.3,828.9 V831.8 M770.1,828.9 V831.8 M773.9,828.9 V831.8 M776.9,828.9 V831.8 M779.5,828.9 V831.8 M781.8,828.9 V831.8 M783.7,828.9 V831.8 M797.1,828.9 V831.8" stroke="#231f20" stroke-width="2.1" fill="none"/>
<path d="M687.4,734.7 H801.7" stroke="#231f20" stroke-width="2.75" fill="none"/>
<path d="M687.4,729.3 V740.1 M801.7,729.3 V740.1" stroke="#231f20" stroke-width="3.0" fill="none"/>
<text transform="translate(778.49 714.35) scale(1.0 1.04)" x="-47.76" y="0" font-size="35.3" >5.9</text>
<defs><path id="c33g" d="M818.6,827.4 818.6,821.6 819.3,817.4 820.1,814.6 820.8,812.8 821.5,809.3 822.3,807.3 823.0,806.6 823.7,804.7 824.4,804.0 825.2,803.0 825.9,801.4 826.6,797.7 827.3,796.6 828.1,793.4 828.8,789.1 829.5,787.1 830.2,783.8 831.0,782.3 831.7,779.8 832.4,773.6 833.1,769.3 833.9,763.5 834.6,754.4 835.3,752.3 836.0,751.6 836.8,745.6 837.5,740.2 838.2,735.3 839.0,730.1 839.7,731.9 840.4,728.9 841.1,729.3 841.9,721.4 842.6,714.7 843.3,701.9 844.0,691.1 844.8,686.0 845.5,685.3 846.2,677.8 846.9,675.1 847.7,672.5 848.4,672.0 849.1,671.9 849.8,664.8 850.6,660.4 851.3,665.4 852.0,665.9 852.8,665.7 853.5,665.5 854.2,667.9 854.9,669.2 855.7,669.1 856.4,672.4 857.1,676.9 857.8,679.8 858.6,686.5 859.3,690.9 860.0,697.8 860.7,698.4 861.5,701.5 862.2,712.9 862.9,719.7 863.6,730.2 864.4,741.2 865.1,748.6 865.8,759.0 866.5,763.9 867.3,770.2 868.0,774.6 868.7,782.2 869.5,787.7 870.2,793.5 870.9,799.0 871.6,804.9 872.4,808.1 873.1,811.1 873.8,814.4 874.5,815.6 875.3,817.1 876.0,817.8 876.7,820.1 877.4,819.1 878.2,819.4 878.9,820.1 879.6,821.0 880.3,821.4 881.1,821.7 881.8,821.1 882.5,821.3 883.3,822.6 884.0,822.8 884.7,822.2 885.4,823.5 886.2,823.5 886.9,823.3 887.6,824.2 888.3,823.5 889.1,823.5 889.8,823.8 890.5,824.6 891.2,824.2 892.0,824.0 892.7,824.3 893.4,824.6 894.1,823.7 894.9,825.5 895.6,825.2 896.3,825.4 897.1,826.5 897.8,826.0 898.5,826.1 899.2,827.2 900.0,826.9 900.7,826.9 901.4,826.8 902.2,827.3 902.9,826.4 903.6,827.1 904.4,827.2 905.1,827.8 905.9,827.7 906.6,827.1 907.4,826.9 908.1,826.9 908.8,827.6 909.6,827.3 910.3,827.0 911.1,827.4 911.8,827.4 912.6,827.8 913.3,826.8 914.0,827.2 914.8,826.4 915.5,827.0 916.3,827.0 917.0,827.9 917.8,826.8 918.5,826.9 919.2,827.8 920.0,827.6 920.7,827.9 921.5,827.1 922.2,826.6 923.0,827.4 923.7,826.4 924.4,826.4 925.2,827.3 925.9,826.8 926.7,826.9 927.4,827.5 928.2,827.9 928.9,827.9 929.6,827.8 930.4,827.7 931.1,827.1 931.9,827.9 932.6,826.6 933.4,827.4 Z"/></defs>
<use href="#c33g" fill="#dcdddf" stroke="#939598" stroke-width="2.4" stroke-linejoin="round"/>
<clipPath id="c33g0"><rect x="815.3" y="650.9" width="178.2" height="98.2"/></clipPath>
<use href="#c33g" fill="none" stroke="#939598" stroke-linejoin="round" stroke-width="2.7" clip-path="url(#c33g0)"/>
<clipPath id="c33g1"><rect x="815.3" y="650.9" width="178.2" height="71.4"/></clipPath>
<use href="#c33g" fill="none" stroke="#939598" stroke-linejoin="round" stroke-width="3.1" clip-path="url(#c33g1)"/>
<clipPath id="c33g2"><rect x="815.3" y="650.9" width="178.2" height="48.2"/></clipPath>
<use href="#c33g" fill="none" stroke="#939598" stroke-linejoin="round" stroke-width="3.6" clip-path="url(#c33g2)"/>
<clipPath id="c33g3"><rect x="815.3" y="650.9" width="178.2" height="30.3"/></clipPath>
<use href="#c33g" fill="none" stroke="#939598" stroke-linejoin="round" stroke-width="4.0" clip-path="url(#c33g3)"/>
<defs><path id="c33k" d="M818.6,827.4 818.6,671.2 819.3,744.9 820.1,797.1 820.8,799.0 821.5,799.6 822.3,801.1 823.0,802.0 823.7,804.0 824.4,803.2 825.2,801.2 825.9,799.0 826.6,795.0 827.3,792.0 828.1,791.4 828.8,788.3 829.5,789.7 830.2,789.6 831.0,790.5 831.7,791.4 832.4,789.4 833.1,791.2 833.9,787.6 834.6,784.9 835.3,782.4 836.0,778.9 836.8,778.3 837.5,772.9 838.2,772.4 839.0,770.9 839.7,771.2 840.4,778.6 841.1,785.3 841.9,782.4 842.6,782.4 843.3,779.1 844.0,778.1 844.8,782.9 845.5,785.7 846.2,788.4 846.9,791.2 847.7,784.6 848.4,775.8 849.1,771.0 849.8,763.0 850.6,756.5 851.3,751.7 852.0,749.1 852.8,746.5 853.5,747.7 854.2,747.5 854.9,749.0 855.7,748.1 856.4,751.2 857.1,749.1 857.8,750.2 858.6,748.5 859.3,748.1 860.0,749.8 860.7,753.7 861.3,749.3 861.9,742.5 862.9,734.4 863.6,732.1 864.4,731.1 865.1,732.7 865.8,736.3 866.5,740.9 867.3,744.3 868.0,739.4 868.7,734.1 869.5,723.8 870.2,713.7 871.2,715.3 871.8,717.7 872.4,722.1 873.1,726.2 873.8,733.3 874.5,733.1 875.3,736.1 876.0,739.2 876.7,741.8 877.4,743.0 878.2,743.9 878.9,743.5 879.6,734.9 880.3,726.8 881.1,725.4 881.8,722.5 882.5,721.0 883.3,724.5 884.0,714.5 884.7,702.5 885.4,700.4 886.2,695.0 886.9,697.3 887.6,701.2 888.3,691.9 889.1,684.3 889.8,675.8 890.5,667.3 891.2,662.8 892.0,662.5 892.6,664.2 893.2,663.4 893.9,662.2 894.6,672.8 895.3,678.6 896.3,696.4 897.3,715.9 897.9,707.0 898.5,698.9 899.5,695.0 900.1,703.5 900.7,712.6 901.4,734.9 902.0,743.4 902.6,751.7 903.6,766.2 904.3,767.5 905.0,769.2 905.8,773.5 906.5,776.6 907.2,779.6 907.9,780.9 908.7,785.3 909.4,786.3 910.1,788.8 910.8,791.5 911.6,793.2 912.3,794.8 913.0,799.2 913.8,801.6 914.5,805.7 915.2,804.9 915.9,807.6 916.7,808.4 917.4,809.9 918.1,811.0 918.8,812.6 919.6,811.7 920.3,813.0 921.0,813.2 921.7,815.1 922.5,817.7 923.2,817.4 923.9,817.9 924.6,819.4 925.4,820.3 926.1,820.3 926.8,822.0 927.6,823.0 928.3,822.1 929.0,823.3 929.7,823.9 930.5,824.4 931.2,824.3 931.9,824.9 932.6,824.8 933.4,825.2 934.1,826.5 934.8,825.7 935.5,826.7 936.3,825.9 937.0,827.5 937.7,826.1 938.4,827.6 939.2,826.6 939.9,826.9 940.6,827.0 941.4,826.0 942.1,826.1 942.8,827.6 943.5,827.0 944.3,827.5 945.0,826.1 945.7,826.3 946.4,826.3 947.2,826.8 947.9,826.1 948.6,825.1 949.3,825.0 950.1,826.2 950.8,826.1 951.5,825.3 952.2,826.8 953.0,826.7 953.7,827.1 954.5,827.8 955.2,827.9 956.0,827.6 956.7,827.5 957.5,827.0 958.2,827.3 959.0,827.5 959.7,826.7 960.5,827.9 961.2,827.9 962.0,827.9 962.8,826.6 963.5,827.9 964.3,827.3 965.0,827.3 965.8,826.9 966.5,827.0 967.3,827.9 968.0,827.1 968.8,827.4 969.6,827.8 970.3,826.6 971.1,827.7 971.8,827.5 972.6,827.9 973.3,826.6 974.1,826.9 974.8,827.1 975.6,827.9 976.4,827.0 977.1,827.1 977.9,827.5 978.6,827.9 979.4,826.6 980.1,827.7 980.9,827.3 981.6,827.4 982.4,826.7 983.2,827.7 983.9,826.9 984.7,827.9 985.4,827.7 986.2,826.6 986.9,827.9 987.7,827.7 988.4,827.9 989.2,827.5 989.9,827.3 990.7,826.9 991.5,827.4"/></defs>
<use href="#c33k" fill="none" stroke="#231f20" stroke-width="2.95" stroke-linejoin="round"/>
<rect x="816.65" y="652.25" width="175.50" height="175.80" fill="none" stroke="#231f20" stroke-width="2.7"/>
<path d="M811.0,827.8 H815.8 M813.3,821.1 H815.8 M813.3,814.4 H815.8 M813.3,807.8 H815.8 M813.3,801.1 H815.8 M811.0,794.4 H815.8 M813.3,787.7 H815.8 M813.3,781.0 H815.8 M813.3,774.4 H815.8 M813.3,767.7 H815.8 M811.0,761.0 H815.8 M813.3,754.3 H815.8 M813.3,747.6 H815.8 M813.3,741.0 H815.8 M813.3,734.3 H815.8 M811.0,727.6 H815.8 M813.3,720.9 H815.8 M813.3,714.2 H815.8 M813.3,707.6 H815.8 M813.3,700.9 H815.8 M811.0,694.2 H815.8 M813.3,687.5 H815.8 M813.3,680.8 H815.8 M813.3,674.2 H815.8 M813.3,667.5 H815.8 M811.0,660.8 H815.8 M813.3,654.1 H815.8" stroke="#231f20" stroke-width="2.1" fill="none"/>
<path d="M817.4,828.9 V833.8 M833.9,828.9 V833.8 M853.2,828.9 V833.8 M895.3,828.9 V833.8 M936.0,828.9 V833.8 M974.6,828.9 V833.8 M825.4,828.9 V831.8 M844.3,828.9 V831.8 M865.9,828.9 V831.8 M873.3,828.9 V831.8 M878.5,828.9 V831.8 M882.6,828.9 V831.8 M886.0,828.9 V831.8 M888.8,828.9 V831.8 M891.2,828.9 V831.8 M893.4,828.9 V831.8 M907.6,828.9 V831.8 M914.7,828.9 V831.8 M919.8,828.9 V831.8 M923.7,828.9 V831.8 M927.0,828.9 V831.8 M929.7,828.9 V831.8 M932.1,828.9 V831.8 M934.1,828.9 V831.8 M947.6,828.9 V831.8 M954.4,828.9 V831.8 M959.2,828.9 V831.8 M963.0,828.9 V831.8 M966.0,828.9 V831.8 M968.6,828.9 V831.8 M970.9,828.9 V831.8 M972.8,828.9 V831.8 M986.2,828.9 V831.8" stroke="#231f20" stroke-width="2.1" fill="none"/>
<path d="M880.3,734.7 H990.7" stroke="#231f20" stroke-width="2.75" fill="none"/>
<path d="M880.3,729.3 V740.1 M990.7,729.3 V740.1" stroke="#231f20" stroke-width="3.0" fill="none"/>
<text transform="translate(975.19 714.35) scale(1.0 1.04)" x="-67.15" y="0" font-size="35.3" >51.7</text>
<defs><path id="c34g" d="M1007.6,827.4 1007.6,814.1 1008.3,809.8 1009.1,804.9 1009.8,801.6 1010.5,798.8 1011.3,796.7 1012.0,795.5 1012.7,792.8 1013.4,792.2 1014.2,790.8 1014.9,787.2 1015.6,783.7 1016.3,779.2 1017.1,768.8 1017.8,756.9 1018.5,755.4 1019.2,754.3 1020.0,752.4 1020.7,753.1 1021.4,750.8 1022.1,746.6 1022.9,744.4 1023.6,737.0 1024.3,730.0 1025.0,730.7 1025.8,730.2 1026.5,724.0 1027.2,716.4 1028.0,711.6 1028.7,710.8 1029.4,705.6 1030.1,701.2 1030.9,697.4 1031.6,690.3 1032.3,687.6 1033.0,680.2 1033.8,679.4 1034.5,676.4 1035.2,674.0 1035.9,672.6 1036.7,672.0 1037.4,669.4 1038.1,666.9 1038.8,663.7 1039.6,666.1 1040.3,664.8 1041.0,661.4 1041.8,665.2 1042.5,664.4 1043.2,661.0 1043.9,662.0 1044.7,660.8 1045.4,667.8 1046.1,670.9 1046.8,673.7 1047.6,681.3 1048.3,684.3 1049.0,690.2 1049.7,694.1 1050.5,702.6 1051.2,715.0 1051.9,729.1 1052.6,732.9 1053.4,734.9 1054.1,738.4 1054.8,741.4 1055.5,750.0 1056.3,758.2 1057.0,766.9 1057.7,776.1 1058.5,779.9 1059.2,782.7 1059.9,787.9 1060.6,789.2 1061.4,792.3 1062.1,795.8 1062.8,798.4 1063.5,799.8 1064.3,799.7 1065.0,800.8 1065.7,801.9 1066.4,801.5 1067.2,801.0 1067.9,802.0 1068.6,802.9 1069.3,804.1 1070.1,806.1 1070.8,807.5 1071.5,809.9 1072.3,811.7 1073.0,814.2 1073.7,817.0 1074.4,818.7 1075.2,818.8 1075.9,820.8 1076.6,822.6 1077.3,822.5 1078.1,823.6 1078.8,825.0 1079.5,825.6 1080.2,826.3 1081.0,826.5 1081.7,827.4 1082.4,827.7 1083.1,826.6 1083.9,826.2 1084.6,827.1 1085.3,826.5 1086.1,826.9 1086.8,826.6 1087.6,827.1 1088.3,827.5 1089.1,827.9 1089.8,827.7 1090.6,826.9 1091.3,827.0 1092.1,826.8 1092.8,827.9 1093.6,827.6 1094.3,827.9 1095.1,827.9 1095.8,826.8 1096.6,827.7 1097.3,827.9 1098.1,827.1 1098.9,827.9 1099.6,826.8 1100.4,827.2 1101.1,827.9 1101.9,827.9 1102.6,826.6 1103.4,827.4 1104.1,826.7 1104.9,827.9 1105.6,827.9 1106.4,826.7 1107.1,827.9 1107.9,827.2 1108.6,827.9 1109.4,827.2 1110.2,827.9 1110.9,827.1 1111.7,827.3 1112.4,827.3 1113.2,827.9 1113.9,827.6 1114.7,827.9 1115.4,827.9 1116.2,827.5 1116.9,827.7 1117.7,826.6 1118.4,827.9 1119.2,827.8 1119.9,827.0 1120.7,826.6 1121.4,827.9 1122.2,826.8 1123.0,827.4 1123.7,826.6 1124.5,826.9 1125.2,826.5 1126.0,827.9 1126.7,827.4 Z"/></defs>
<use href="#c34g" fill="#dcdddf" stroke="#939598" stroke-width="2.4" stroke-linejoin="round"/>
<clipPath id="c34g0"><rect x="1004.4" y="650.9" width="178.2" height="98.2"/></clipPath>
<use href="#c34g" fill="none" stroke="#939598" stroke-linejoin="round" stroke-width="2.7" clip-path="url(#c34g0)"/>
<clipPath id="c34g1"><rect x="1004.4" y="650.9" width="178.2" height="71.4"/></clipPath>
<use href="#c34g" fill="none" stroke="#939598" stroke-linejoin="round" stroke-width="3.1" clip-path="url(#c34g1)"/>
<clipPath id="c34g2"><rect x="1004.4" y="650.9" width="178.2" height="48.2"/></clipPath>
<use href="#c34g" fill="none" stroke="#939598" stroke-linejoin="round" stroke-width="3.6" clip-path="url(#c34g2)"/>
<clipPath id="c34g3"><rect x="1004.4" y="650.9" width="178.2" height="30.3"/></clipPath>
<use href="#c34g" fill="none" stroke="#939598" stroke-linejoin="round" stroke-width="4.0" clip-path="url(#c34g3)"/>
<defs><path id="c34k" d="M1007.6,827.4 1007.6,657.8 1008.3,713.5 1009.1,756.0 1009.8,755.7 1010.5,758.1 1011.3,759.5 1012.0,759.9 1012.7,750.4 1013.4,742.8 1014.2,730.4 1014.9,721.1 1015.6,719.5 1016.3,722.8 1017.1,728.5 1017.8,732.9 1018.5,734.1 1019.2,733.4 1020.0,725.4 1020.7,719.8 1021.4,711.4 1022.1,698.8 1022.9,689.2 1023.6,683.0 1024.3,685.6 1025.0,690.7 1025.8,700.0 1026.5,710.7 1027.2,703.0 1028.0,697.3 1028.7,694.5 1029.4,692.4 1030.1,699.2 1030.9,703.5 1031.6,699.2 1032.3,697.0 1033.0,688.0 1033.8,678.6 1034.5,668.7 1035.2,661.5 1035.9,666.2 1036.7,670.9 1037.4,672.2 1038.1,676.9 1038.8,680.2 1039.6,685.2 1040.3,688.4 1041.0,692.9 1041.8,693.8 1042.5,695.8 1043.2,692.3 1043.9,689.8 1044.7,688.9 1045.4,682.9 1046.1,676.9 1046.8,668.7 1047.6,668.1 1048.3,669.0 1049.0,665.7 1049.7,669.0 1050.5,669.0 1051.2,673.1 1051.9,677.5 1052.6,683.1 1053.4,690.7 1054.1,702.4 1054.8,715.4 1055.5,715.8 1056.3,719.5 1057.0,714.6 1057.7,709.2 1058.5,705.8 1059.2,705.6 1059.9,712.8 1060.6,724.1 1061.4,732.5 1062.1,741.9 1063.1,758.4 1063.7,756.0 1064.3,753.2 1065.0,745.5 1065.7,741.7 1066.4,743.4 1067.2,746.1 1067.9,752.2 1068.6,761.2 1069.3,765.7 1070.1,773.9 1070.8,766.4 1071.5,761.9 1072.3,754.4 1073.0,749.2 1073.7,745.7 1074.4,744.0 1075.2,755.5 1075.9,765.2 1076.6,774.2 1077.3,782.7 1078.1,779.9 1078.8,774.0 1079.5,778.4 1080.2,779.2 1081.0,779.6 1081.7,782.4 1082.4,781.5 1083.1,781.5 1083.9,777.9 1084.6,776.3 1085.3,775.4 1086.1,774.6 1086.8,771.2 1087.5,772.1 1088.2,773.3 1089.0,774.3 1089.7,775.7 1090.4,779.4 1091.1,780.5 1091.9,780.7 1092.6,783.6 1093.3,783.3 1094.0,790.6 1094.8,795.7 1095.5,798.5 1096.2,804.8 1096.9,809.4 1097.7,811.3 1098.4,813.0 1099.1,814.0 1099.8,813.0 1100.6,808.7 1101.3,807.2 1102.0,807.9 1102.8,806.5 1103.5,805.9 1104.2,805.1 1104.9,806.7 1105.7,806.6 1106.4,803.5 1107.1,805.1 1107.8,804.5 1108.6,803.4 1109.3,801.8 1110.0,802.0 1110.7,803.6 1111.5,807.5 1112.2,808.8 1112.9,811.1 1113.6,813.3 1114.4,814.3 1115.1,813.2 1115.8,815.6 1116.6,814.4 1117.3,814.4 1118.0,812.4 1118.7,812.0 1119.5,811.1 1120.2,812.0 1120.9,814.1 1121.6,815.6 1122.4,815.6 1123.1,818.2 1123.8,819.2 1124.5,821.1 1125.3,822.8 1126.0,824.5 1126.7,824.7 1127.4,825.9 1128.2,825.2 1128.9,827.0 1129.6,826.5 1130.4,826.3 1131.1,827.5 1131.8,827.3 1132.6,827.7 1133.3,826.9 1134.1,826.7 1134.8,827.3 1135.6,827.0 1136.3,827.2 1137.1,826.7 1137.8,826.9 1138.6,827.3 1139.3,826.6 1140.1,827.9 1140.8,827.8 1141.6,826.7 1142.3,827.9 1143.0,827.1 1143.8,826.6 1144.5,827.5 1145.3,827.8 1146.0,827.9 1146.8,826.8 1147.5,827.8 1148.3,827.9 1149.0,826.9 1149.8,827.2 1150.5,827.5 1151.3,827.0 1152.0,827.5 1152.8,826.9 1153.5,827.9 1154.3,827.9 1155.0,827.6 1155.8,827.6 1156.5,827.2 1157.3,827.7 1158.0,827.9 1158.8,827.9 1159.5,827.9 1160.3,827.7 1161.0,827.9 1161.8,827.6 1162.5,826.5 1163.2,827.0 1164.0,827.5 1164.7,827.9 1165.5,827.6 1166.2,827.4 1167.0,827.9 1167.7,827.9 1168.5,827.3 1169.2,827.2 1170.0,827.1 1170.7,827.9 1171.5,827.9 1172.2,827.3 1173.0,827.9 1173.7,827.1 1174.5,827.9 1175.2,827.9 1176.0,827.0 1176.7,827.9 1177.5,827.4 1178.2,827.2 1179.0,827.8 1179.7,826.6 1180.5,827.4"/></defs>
<use href="#c34k" fill="none" stroke="#231f20" stroke-width="2.95" stroke-linejoin="round"/>
<rect x="1005.75" y="652.25" width="175.50" height="175.80" fill="none" stroke="#231f20" stroke-width="2.7"/>
<path d="M1000.1,827.8 H1004.9 M1002.4,821.1 H1004.9 M1002.4,814.4 H1004.9 M1002.4,807.8 H1004.9 M1002.4,801.1 H1004.9 M1000.1,794.4 H1004.9 M1002.4,787.7 H1004.9 M1002.4,781.0 H1004.9 M1002.4,774.4 H1004.9 M1002.4,767.7 H1004.9 M1000.1,761.0 H1004.9 M1002.4,754.3 H1004.9 M1002.4,747.6 H1004.9 M1002.4,741.0 H1004.9 M1002.4,734.3 H1004.9 M1000.1,727.6 H1004.9 M1002.4,720.9 H1004.9 M1002.4,714.2 H1004.9 M1002.4,707.6 H1004.9 M1002.4,700.9 H1004.9 M1000.1,694.2 H1004.9 M1002.4,687.5 H1004.9 M1002.4,680.8 H1004.9 M1002.4,674.2 H1004.9 M1002.4,667.5 H1004.9 M1000.1,660.8 H1004.9 M1002.4,654.1 H1004.9" stroke="#231f20" stroke-width="2.1" fill="none"/>
<path d="M1006.5,828.9 V833.8 M1023.0,828.9 V833.8 M1042.3,828.9 V833.8 M1084.4,828.9 V833.8 M1125.1,828.9 V833.8 M1163.7,828.9 V833.8 M1014.5,828.9 V831.8 M1033.4,828.9 V831.8 M1055.0,828.9 V831.8 M1062.4,828.9 V831.8 M1067.6,828.9 V831.8 M1071.7,828.9 V831.8 M1075.1,828.9 V831.8 M1077.9,828.9 V831.8 M1080.3,828.9 V831.8 M1082.5,828.9 V831.8 M1096.7,828.9 V831.8 M1103.8,828.9 V831.8 M1108.9,828.9 V831.8 M1112.8,828.9 V831.8 M1116.1,828.9 V831.8 M1118.8,828.9 V831.8 M1121.2,828.9 V831.8 M1123.2,828.9 V831.8 M1136.7,828.9 V831.8 M1143.5,828.9 V831.8 M1148.3,828.9 V831.8 M1152.1,828.9 V831.8 M1155.1,828.9 V831.8 M1157.7,828.9 V831.8 M1160.0,828.9 V831.8 M1161.9,828.9 V831.8 M1175.3,828.9 V831.8" stroke="#231f20" stroke-width="2.1" fill="none"/>
<path d="M1065.7,734.2 H1179.7" stroke="#231f20" stroke-width="2.75" fill="none"/>
<path d="M1065.7,728.8 V739.6 M1179.7,728.8 V739.6" stroke="#231f20" stroke-width="3.0" fill="none"/>
<text transform="translate(1163.03 714.35) scale(1.0 1.04)" x="-67.72" y="0" font-size="35.3" >23.5</text>
<defs><path id="c35g" d="M1196.6,827.4 1196.6,809.6 1197.3,806.5 1198.1,802.2 1198.8,798.4 1199.5,794.1 1200.2,790.8 1201.0,787.2 1201.7,781.7 1202.4,776.8 1203.1,772.1 1203.9,766.2 1204.6,761.1 1205.3,754.2 1206.0,750.1 1206.8,748.5 1207.5,742.9 1208.2,743.2 1209.0,740.3 1209.7,741.1 1210.4,738.8 1211.1,739.8 1211.9,735.9 1212.6,728.3 1213.3,718.4 1214.0,709.5 1214.8,700.3 1215.5,703.8 1216.2,708.2 1216.9,712.6 1217.7,715.6 1218.4,720.1 1219.1,701.5 1219.8,684.2 1220.6,682.5 1221.3,684.0 1222.0,680.0 1222.8,678.4 1223.5,671.2 1224.2,671.4 1224.9,666.7 1225.7,666.3 1226.4,663.2 1227.1,668.6 1227.8,671.0 1228.6,674.5 1229.3,676.1 1230.0,676.0 1230.7,675.1 1231.5,674.0 1232.2,677.2 1232.9,681.0 1233.6,683.0 1234.4,687.6 1235.1,691.0 1235.8,693.6 1236.5,698.0 1237.3,702.4 1238.0,710.9 1238.7,718.2 1239.5,723.4 1240.2,728.9 1240.9,737.5 1241.6,746.5 1242.4,753.0 1243.1,761.7 1243.8,768.7 1244.5,776.2 1245.2,783.8 1245.8,789.2 1246.4,794.8 1247.3,799.4 1248.2,805.7 1248.9,808.9 1249.6,813.5 1250.3,815.8 1251.1,818.8 1251.8,820.7 1252.5,824.5 1253.3,824.9 1254.0,824.7 1254.7,825.1 1255.4,826.1 1256.2,827.6 1256.9,826.7 1257.6,827.4 1258.3,827.8 1259.1,826.5 1259.8,826.5 1260.6,827.7 1261.3,827.3 1262.1,826.9 1262.8,827.7 1263.6,826.6 1264.3,827.4 1265.1,827.3 1265.8,826.8 1266.6,827.9 1267.3,827.0 1268.1,827.0 1268.8,827.5 1269.6,827.3 1270.3,827.9 1271.1,827.9 1271.8,827.0 1272.6,827.9 1273.3,827.3 1274.0,827.5 1274.8,826.8 1275.5,827.7 1276.3,827.9 1277.0,827.9 1277.8,827.2 1278.5,827.9 1279.3,827.6 1280.0,827.0 1280.8,827.5 1281.5,827.0 1282.3,826.6 1283.0,827.2 1283.8,827.7 1284.5,827.7 1285.3,827.1 1286.0,827.9 1286.8,827.9 1287.5,827.0 1288.3,827.3 1289.0,827.8 1289.8,826.8 1290.5,827.4 1291.3,827.2 1292.0,827.0 1292.8,827.6 1293.5,827.9 1294.3,827.6 1295.0,826.7 1295.7,826.9 1296.5,826.6 1297.2,827.1 1298.0,827.4 1298.7,827.7 1299.5,826.8 1300.2,827.9 1301.0,827.9 1301.7,827.9 1302.5,827.1 1303.2,826.9 1304.0,827.0 1304.7,827.3 1305.5,827.4 1306.2,826.9 1307.0,827.9 1307.7,827.4 Z"/></defs>
<use href="#c35g" fill="#dcdddf" stroke="#939598" stroke-width="2.4" stroke-linejoin="round"/>
<clipPath id="c35g0"><rect x="1193.5" y="650.9" width="178.2" height="98.2"/></clipPath>
<use href="#c35g" fill="none" stroke="#939598" stroke-linejoin="round" stroke-width="2.7" clip-path="url(#c35g0)"/>
<clipPath id="c35g1"><rect x="1193.5" y="650.9" width="178.2" height="71.4"/></clipPath>
<use href="#c35g" fill="none" stroke="#939598" stroke-linejoin="round" stroke-width="3.1" clip-path="url(#c35g1)"/>
<clipPath id="c35g2"><rect x="1193.5" y="650.9" width="178.2" height="48.2"/></clipPath>
<use href="#c35g" fill="none" stroke="#939598" stroke-linejoin="round" stroke-width="3.6" clip-path="url(#c35g2)"/>
<clipPath id="c35g3"><rect x="1193.5" y="650.9" width="178.2" height="30.3"/></clipPath>
<use href="#c35g" fill="none" stroke="#939598" stroke-linejoin="round" stroke-width="4.0" clip-path="url(#c35g3)"/>
<defs><path id="c35k" d="M1196.6,827.4 1196.6,802.6 1197.3,796.7 1198.1,797.8 1198.8,796.2 1199.5,796.0 1200.2,794.1 1201.0,791.9 1201.7,790.7 1202.4,791.6 1203.1,790.7 1203.9,791.3 1204.6,791.6 1205.3,793.0 1206.0,791.9 1206.8,788.3 1207.5,784.8 1208.2,782.0 1209.0,780.0 1209.7,779.0 1210.4,777.5 1211.1,777.8 1211.9,774.3 1212.6,777.0 1213.3,777.3 1214.0,776.4 1214.8,774.9 1215.5,770.3 1216.2,768.2 1216.9,766.9 1217.7,763.9 1218.4,765.7 1219.1,765.1 1219.8,765.5 1220.6,767.6 1221.3,767.4 1222.0,769.6 1222.8,769.3 1223.5,771.5 1224.2,767.4 1224.9,763.0 1225.7,758.9 1226.4,758.5 1227.1,755.6 1227.8,751.7 1228.6,749.9 1229.3,751.8 1230.0,751.9 1230.7,753.4 1231.5,755.2 1232.2,755.3 1232.9,756.7 1233.6,756.2 1234.4,757.6 1235.1,754.0 1235.8,755.1 1236.5,757.8 1237.3,764.9 1238.0,768.9 1238.7,773.9 1239.5,779.2 1240.2,779.2 1240.9,781.9 1241.6,775.7 1242.4,772.9 1243.1,770.3 1243.8,770.3 1244.5,773.0 1245.3,775.5 1246.0,779.2 1246.7,784.7 1247.4,784.3 1248.2,784.9 1248.9,785.7 1249.6,782.1 1250.3,779.3 1251.1,775.1 1251.8,767.4 1252.5,766.4 1253.3,762.8 1254.0,766.3 1254.7,770.4 1255.4,773.8 1256.2,778.7 1256.9,775.4 1257.6,773.6 1258.3,759.1 1259.1,742.4 1259.8,735.8 1260.5,729.1 1261.2,722.0 1262.0,720.0 1262.7,713.0 1263.4,711.5 1264.1,708.1 1264.9,708.4 1265.6,705.7 1266.3,707.6 1267.1,708.7 1267.8,714.2 1268.8,700.6 1269.4,689.4 1270.0,678.5 1270.5,671.0 1271.1,664.1 1272.1,667.7 1272.9,686.2 1273.6,695.6 1274.3,701.9 1275.0,706.0 1275.8,714.2 1276.5,715.8 1277.2,724.6 1277.9,731.2 1278.7,736.2 1279.4,750.0 1280.1,762.0 1280.7,772.3 1281.3,781.0 1282.3,787.0 1283.0,785.9 1283.8,785.9 1284.5,784.8 1285.2,785.9 1285.9,785.3 1286.7,787.0 1287.4,790.0 1288.1,795.1 1288.8,798.4 1289.6,804.3 1290.3,807.6 1291.0,811.0 1291.7,812.5 1292.5,812.1 1293.2,812.5 1293.9,811.9 1294.6,812.0 1295.4,810.4 1296.1,810.6 1296.8,812.0 1297.6,812.1 1298.3,813.4 1299.0,814.9 1299.7,817.9 1300.5,819.0 1301.2,820.9 1301.9,823.0 1302.6,823.5 1303.4,825.3 1304.1,825.8 1304.8,826.3 1305.5,825.8 1306.3,826.0 1307.0,825.8 1307.7,825.7 1308.4,825.6 1309.2,826.0 1309.9,826.2 1310.6,825.5 1311.4,826.0 1312.1,826.5 1312.8,825.7 1313.5,827.3 1314.3,827.2 1315.0,827.5 1315.7,826.3 1316.4,827.0 1317.2,826.2 1317.9,827.5 1318.6,827.6 1319.3,826.7 1320.1,827.3 1320.8,827.1 1321.5,826.7 1322.2,827.2 1323.0,827.2 1323.7,827.0 1324.5,827.8 1325.2,827.3 1326.0,827.9 1326.7,826.5 1327.5,827.1 1328.2,827.9 1329.0,826.9 1329.7,827.2 1330.5,827.9 1331.2,827.9 1332.0,827.1 1332.7,826.8 1333.5,826.8 1334.2,827.2 1335.0,826.6 1335.7,826.9 1336.5,826.8 1337.2,827.9 1338.0,827.7 1338.7,827.4 1339.5,826.7 1340.2,827.4 1341.0,827.9 1341.7,827.3 1342.5,827.0 1343.2,827.5 1344.0,827.5 1344.7,826.9 1345.5,827.3 1346.2,827.0 1347.0,826.7 1347.7,827.4 1348.5,827.9 1349.2,826.7 1350.0,827.6 1350.7,827.9 1351.5,827.9 1352.2,827.2 1353.0,827.9 1353.7,827.9 1354.5,827.8 1355.2,827.9 1356.0,826.9 1356.7,827.4 1357.5,827.9 1358.2,827.6 1359.0,827.1 1359.7,826.8 1360.5,826.5 1361.2,826.9 1362.0,826.6 1362.7,826.8 1363.5,827.2 1364.2,827.1 1365.0,827.0 1365.7,827.8 1366.5,827.9 1367.2,827.9 1368.0,827.4 1368.7,827.4"/></defs>
<use href="#c35k" fill="none" stroke="#231f20" stroke-width="2.95" stroke-linejoin="round"/>
<rect x="1194.85" y="652.25" width="175.50" height="175.80" fill="none" stroke="#231f20" stroke-width="2.7"/>
<path d="M1189.2,827.8 H1194.0 M1191.5,821.1 H1194.0 M1191.5,814.4 H1194.0 M1191.5,807.8 H1194.0 M1191.5,801.1 H1194.0 M1189.2,794.4 H1194.0 M1191.5,787.7 H1194.0 M1191.5,781.0 H1194.0 M1191.5,774.4 H1194.0 M1191.5,767.7 H1194.0 M1189.2,761.0 H1194.0 M1191.5,754.3 H1194.0 M1191.5,747.6 H1194.0 M1191.5,741.0 H1194.0 M1191.5,734.3 H1194.0 M1189.2,727.6 H1194.0 M1191.5,720.9 H1194.0 M1191.5,714.2 H1194.0 M1191.5,707.6 H1194.0 M1191.5,700.9 H1194.0 M1189.2,694.2 H1194.0 M1191.5,687.5 H1194.0 M1191.5,680.8 H1194.0 M1191.5,674.2 H1194.0 M1191.5,667.5 H1194.0 M1189.2,660.8 H1194.0 M1191.5,654.1 H1194.0" stroke="#231f20" stroke-width="2.1" fill="none"/>
<path d="M1195.6,828.9 V833.8 M1212.1,828.9 V833.8 M1231.4,828.9 V833.8 M1273.5,828.9 V833.8 M1314.2,828.9 V833.8 M1352.8,828.9 V833.8 M1203.6,828.9 V831.8 M1222.5,828.9 V831.8 M1244.1,828.9 V831.8 M1251.5,828.9 V831.8 M1256.7,828.9 V831.8 M1260.8,828.9 V831.8 M1264.2,828.9 V831.8 M1267.0,828.9 V831.8 M1269.4,828.9 V831.8 M1271.6,828.9 V831.8 M1285.8,828.9 V831.8 M1292.9,828.9 V831.8 M1298.0,828.9 V831.8 M1301.9,828.9 V831.8 M1305.2,828.9 V831.8 M1307.9,828.9 V831.8 M1310.3,828.9 V831.8 M1312.3,828.9 V831.8 M1325.8,828.9 V831.8 M1332.6,828.9 V831.8 M1337.4,828.9 V831.8 M1341.2,828.9 V831.8 M1344.2,828.9 V831.8 M1346.8,828.9 V831.8 M1349.1,828.9 V831.8 M1351.0,828.9 V831.8 M1364.4,828.9 V831.8" stroke="#231f20" stroke-width="2.1" fill="none"/>
<path d="M1254.7,734.7 H1368.7" stroke="#231f20" stroke-width="2.75" fill="none"/>
<path d="M1254.7,729.3 V740.1 M1368.7,729.3 V740.1" stroke="#231f20" stroke-width="3.0" fill="none"/>
<text transform="translate(1353.03 714.35) scale(1.0 1.04)" x="-67.26" y="0" font-size="35.3" >49.0</text>
<defs><path id="c40g" d="M250.9,1018.2 250.9,979.0 251.9,1004.4 252.5,1000.9 253.2,998.2 253.8,996.2 254.5,991.2 255.3,988.4 256.0,984.1 256.7,979.5 257.4,977.0 258.2,972.8 258.9,968.5 259.6,964.8 260.3,960.2 261.1,957.7 261.8,956.2 262.5,955.4 263.2,949.2 264.0,945.7 264.7,938.8 265.4,935.1 266.1,929.8 266.9,922.1 267.6,917.9 268.3,913.2 269.0,907.6 269.8,903.7 270.5,898.3 271.2,895.1 272.0,891.8 272.7,888.7 273.4,886.2 274.1,881.7 274.9,878.1 275.6,874.8 276.3,867.3 277.0,860.5 277.8,858.4 278.5,857.6 279.2,856.2 279.9,854.2 280.7,853.2 281.4,853.9 282.1,854.6 282.8,851.9 283.6,854.1 284.3,853.2 285.0,853.3 285.8,853.4 286.5,853.9 287.2,862.2 287.9,869.5 288.7,875.1 289.4,878.2 290.1,878.8 290.8,883.2 291.6,883.5 292.3,888.9 293.0,892.8 293.7,896.7 294.5,902.0 295.2,909.5 295.9,918.7 296.6,929.7 297.4,936.9 298.1,945.9 298.8,955.6 299.5,965.9 300.3,975.0 301.0,982.4 301.7,989.3 302.5,994.5 303.2,998.7 303.9,1002.3 304.6,1005.7 305.4,1007.4 306.1,1009.4 306.8,1009.9 307.5,1010.6 308.3,1011.4 309.0,1012.1 309.7,1012.8 310.4,1014.0 311.2,1013.8 311.9,1014.7 312.6,1014.4 313.3,1014.6 314.1,1014.7 314.8,1015.3 315.5,1015.4 316.3,1016.4 317.0,1015.9 317.7,1016.6 318.4,1016.7 319.2,1016.5 319.9,1016.4 320.6,1017.3 321.3,1017.1 322.1,1017.5 322.8,1017.5 323.5,1017.0 324.2,1017.6 325.0,1018.1 325.7,1017.0 326.5,1017.8 327.3,1018.0 328.0,1018.3 328.8,1017.5 329.5,1017.5 330.3,1016.9 331.0,1017.9 331.8,1018.0 332.5,1017.6 333.3,1017.6 334.0,1017.9 334.8,1017.4 335.6,1017.6 336.3,1017.1 337.1,1017.6 337.8,1017.1 338.6,1018.2 339.3,1018.2 340.1,1017.2 340.8,1017.9 341.6,1017.9 342.3,1017.6 343.1,1018.2 343.8,1018.5 344.6,1017.7 345.4,1018.3 346.1,1017.3 346.9,1017.9 347.6,1017.7 348.4,1018.4 349.1,1017.4 349.9,1017.2 350.6,1017.9 351.4,1018.1 352.1,1017.7 352.9,1018.1 353.7,1018.6 354.4,1018.3 355.2,1018.7 355.9,1017.3 356.7,1018.5 357.4,1018.5 358.2,1018.7 358.9,1017.9 359.7,1017.8 360.4,1018.6 361.2,1018.7 361.9,1017.9 362.7,1017.6 363.5,1018.2 Z"/></defs>
<use href="#c40g" fill="#dcdddf" stroke="#939598" stroke-width="2.4" stroke-linejoin="round"/>
<clipPath id="c40g0"><rect x="248.0" y="842.3" width="178.2" height="97.8"/></clipPath>
<use href="#c40g" fill="none" stroke="#939598" stroke-linejoin="round" stroke-width="2.7" clip-path="url(#c40g0)"/>
<clipPath id="c40g1"><rect x="248.0" y="842.3" width="178.2" height="71.2"/></clipPath>
<use href="#c40g" fill="none" stroke="#939598" stroke-linejoin="round" stroke-width="3.1" clip-path="url(#c40g1)"/>
<clipPath id="c40g2"><rect x="248.0" y="842.3" width="178.2" height="48.0"/></clipPath>
<use href="#c40g" fill="none" stroke="#939598" stroke-linejoin="round" stroke-width="3.6" clip-path="url(#c40g2)"/>
<clipPath id="c40g3"><rect x="248.0" y="842.3" width="178.2" height="30.2"/></clipPath>
<use href="#c40g" fill="none" stroke="#939598" stroke-linejoin="round" stroke-width="4.0" clip-path="url(#c40g3)"/>
<defs><path id="c40k" d="M250.9,1018.2 251.6,1018.0 252.4,1018.3 253.2,1018.3 253.9,1018.1 254.7,1018.7 255.4,1018.7 256.2,1018.1 256.9,1017.4 257.7,1017.4 258.5,1017.2 259.2,1018.7 260.0,1018.4 260.7,1017.2 261.5,1018.6 262.2,1018.7 263.0,1017.6 263.8,1017.1 264.5,1018.4 265.3,1017.5 266.0,1018.3 266.8,1018.4 267.5,1016.9 268.3,1017.4 269.0,1018.6 269.8,1017.6 270.5,1016.7 271.2,1018.0 272.0,1017.6 272.7,1018.1 273.4,1016.5 274.1,1017.6 274.9,1017.1 275.6,1017.0 276.3,1016.0 277.0,1016.3 277.8,1016.8 278.5,1016.6 279.2,1015.4 279.9,1014.9 280.7,1014.7 281.4,1014.3 282.1,1015.5 282.8,1015.4 283.6,1014.0 284.3,1013.0 285.0,1012.9 285.8,1013.2 286.5,1013.6 287.2,1013.6 287.9,1013.4 288.7,1011.5 289.4,1012.0 290.1,1011.9 290.8,1010.3 291.6,1010.1 292.3,1008.7 293.0,1007.4 293.7,1006.5 294.5,1005.8 295.2,1004.2 295.9,1002.3 296.6,1002.1 297.4,1000.1 298.1,996.4 298.8,995.1 299.5,991.9 300.3,988.9 301.0,986.5 301.7,984.5 302.5,980.9 303.2,976.8 303.8,974.1 304.4,971.6 305.1,966.2 305.9,961.5 306.8,955.7 307.5,947.7 308.3,944.4 309.0,935.6 309.7,932.6 310.4,922.9 311.2,915.1 311.9,908.7 312.6,896.1 313.3,893.5 314.1,885.3 314.8,882.7 315.5,877.2 316.3,874.2 317.0,870.0 317.7,866.6 318.4,861.2 319.2,856.2 319.9,855.5 320.6,855.3 321.3,857.4 322.1,866.1 322.8,871.3 323.5,872.1 324.2,869.9 325.0,872.6 325.7,877.0 326.4,878.6 327.1,886.8 327.9,893.3 328.6,897.3 329.3,905.3 330.1,909.0 330.8,912.4 331.5,919.9 332.2,926.8 333.0,931.7 333.7,936.5 334.4,942.7 335.1,948.7 335.9,955.5 336.6,959.2 337.3,967.0 338.0,971.2 338.8,974.2 339.5,977.0 340.2,983.3 340.9,986.6 341.7,988.6 342.4,991.9 343.1,991.8 343.8,994.2 344.6,996.7 345.3,997.8 346.0,1000.7 346.8,1003.9 347.5,1006.4 348.2,1008.7 348.9,1008.5 349.7,1011.2 350.4,1011.1 351.1,1012.2 351.8,1011.7 352.6,1013.2 353.3,1014.8 354.0,1013.9 354.7,1014.3 355.5,1016.0 356.2,1015.3 356.9,1016.1 357.6,1016.8 358.4,1016.0 359.1,1017.1 359.8,1017.2 360.6,1017.1 361.3,1016.9 362.0,1017.0 362.7,1017.9 363.5,1018.5 364.2,1017.2 364.9,1017.5 365.6,1017.9 366.4,1017.7 367.1,1018.7 367.8,1018.7 368.5,1017.9 369.3,1018.3 370.0,1018.5 370.7,1017.5 371.5,1017.9 372.2,1018.7 373.0,1018.7 373.7,1018.5 374.5,1017.6 375.2,1017.5 375.9,1018.7 376.7,1018.1 377.4,1018.5 378.2,1017.9 378.9,1018.0 379.7,1018.4 380.4,1018.7 381.2,1018.6 381.9,1017.9 382.7,1018.7 383.4,1018.4 384.2,1018.3 384.9,1018.7 385.6,1018.7 386.4,1017.6 387.1,1017.9 387.9,1017.5 388.6,1018.7 389.4,1018.3 390.1,1018.3 390.9,1018.7 391.6,1018.5 392.4,1017.7 393.1,1017.4 393.9,1018.6 394.6,1018.0 395.3,1017.8 396.1,1018.6 396.8,1018.4 397.6,1018.1 398.3,1018.7 399.1,1018.7 399.8,1018.7 400.6,1018.7 401.3,1018.3 402.1,1017.7 402.8,1017.6 403.6,1017.5 404.3,1017.5 405.1,1018.7 405.8,1017.8 406.5,1018.7 407.3,1017.6 408.0,1017.5 408.8,1017.5 409.5,1018.7 410.3,1017.6 411.0,1018.0 411.8,1018.7 412.5,1018.0 413.3,1018.7 414.0,1018.2 414.8,1017.6 415.5,1017.5 416.2,1018.7 417.0,1017.9 417.7,1018.7 418.5,1017.4 419.2,1018.6 420.0,1017.6 420.7,1018.7 421.5,1018.5 422.2,1018.7 423.0,1018.5 423.7,1018.0 424.5,1018.2"/></defs>
<use href="#c40k" fill="none" stroke="#231f20" stroke-width="2.95" stroke-linejoin="round"/>
<rect x="249.35" y="843.65" width="175.50" height="175.20" fill="none" stroke="#231f20" stroke-width="2.7"/>
<path d="M243.7,1018.6 H248.5 M246.0,1011.9 H248.5 M246.0,1005.2 H248.5 M246.0,998.6 H248.5 M246.0,991.9 H248.5 M243.7,985.2 H248.5 M246.0,978.5 H248.5 M246.0,971.8 H248.5 M246.0,965.2 H248.5 M246.0,958.5 H248.5 M243.7,951.8 H248.5 M246.0,945.1 H248.5 M246.0,938.4 H248.5 M246.0,931.8 H248.5 M246.0,925.1 H248.5 M243.7,918.4 H248.5 M246.0,911.7 H248.5 M246.0,905.0 H248.5 M246.0,898.4 H248.5 M246.0,891.7 H248.5 M243.7,885.0 H248.5 M246.0,878.3 H248.5 M246.0,871.6 H248.5 M246.0,865.0 H248.5 M246.0,858.3 H248.5 M243.7,851.6 H248.5 M246.0,844.9 H248.5" stroke="#231f20" stroke-width="2.1" fill="none"/>
<path d="M250.1,1019.7 V1024.6 M266.6,1019.7 V1024.6 M285.9,1019.7 V1024.6 M328.0,1019.7 V1024.6 M368.7,1019.7 V1024.6 M407.3,1019.7 V1024.6 M258.1,1019.7 V1022.6 M277.0,1019.7 V1022.6 M298.6,1019.7 V1022.6 M306.0,1019.7 V1022.6 M311.2,1019.7 V1022.6 M315.3,1019.7 V1022.6 M318.7,1019.7 V1022.6 M321.5,1019.7 V1022.6 M323.9,1019.7 V1022.6 M326.1,1019.7 V1022.6 M340.3,1019.7 V1022.6 M347.4,1019.7 V1022.6 M352.5,1019.7 V1022.6 M356.4,1019.7 V1022.6 M359.7,1019.7 V1022.6 M362.4,1019.7 V1022.6 M364.8,1019.7 V1022.6 M366.8,1019.7 V1022.6 M380.3,1019.7 V1022.6 M387.1,1019.7 V1022.6 M391.9,1019.7 V1022.6 M395.7,1019.7 V1022.6 M398.7,1019.7 V1022.6 M401.3,1019.7 V1022.6 M403.6,1019.7 V1022.6 M405.5,1019.7 V1022.6 M418.9,1019.7 V1022.6" stroke="#231f20" stroke-width="2.1" fill="none"/>
<path d="M309.7,926.1 H423.7" stroke="#231f20" stroke-width="2.75" fill="none"/>
<path d="M309.7,920.7 V931.5 M423.7,920.7 V931.5" stroke="#231f20" stroke-width="3.0" fill="none"/>
<text transform="translate(410.66 903.90) scale(1.0 1.04)" x="-67.26" y="0" font-size="35.3" >85.0</text>
<defs><path id="c41g" d="M439.9,1018.2 439.9,998.4 440.6,1005.0 441.3,1010.8 442.1,1008.2 442.8,1003.3 443.5,999.1 444.3,995.8 445.0,993.0 445.7,988.9 446.4,985.9 447.2,984.4 447.9,981.6 448.6,977.9 449.3,974.5 450.1,972.1 450.8,968.7 451.5,963.4 452.2,961.7 453.0,956.5 453.7,951.3 454.4,947.1 455.1,943.9 455.9,941.9 456.6,932.5 457.3,926.6 458.0,919.1 458.8,916.3 459.5,909.8 460.2,907.3 461.0,905.1 461.7,901.2 462.4,895.8 463.1,890.6 463.9,889.1 464.6,882.3 465.3,880.1 466.0,874.2 466.8,871.2 467.5,868.3 468.2,862.0 468.9,858.9 469.7,855.9 470.4,857.1 471.1,856.4 471.8,854.6 472.6,853.3 473.3,853.6 474.0,853.4 474.8,854.7 475.5,855.7 476.2,862.4 476.9,872.2 477.7,878.7 478.4,884.6 479.1,891.3 479.8,892.8 480.6,894.0 481.3,894.0 482.0,897.3 482.7,903.2 483.5,909.7 484.2,920.2 484.9,931.7 485.6,940.4 486.4,951.5 487.1,961.4 487.8,969.2 488.5,976.2 489.3,983.1 490.0,989.7 490.7,994.1 491.5,995.8 492.2,1000.2 492.9,1002.7 493.6,1004.6 494.4,1007.5 495.1,1008.3 495.8,1009.9 496.5,1012.2 497.3,1011.3 498.0,1012.7 498.7,1012.4 499.4,1012.2 500.2,1012.8 500.9,1013.3 501.6,1012.9 502.3,1014.2 503.1,1013.4 503.8,1014.0 504.5,1014.1 505.3,1015.1 506.0,1014.8 506.7,1015.0 507.4,1016.6 508.2,1016.2 508.9,1016.0 509.6,1017.4 510.3,1017.1 511.1,1017.6 511.8,1017.1 512.5,1017.6 513.2,1017.6 514.0,1017.6 514.7,1017.1 515.5,1017.6 516.3,1018.0 517.0,1017.5 517.8,1017.2 518.5,1017.4 519.3,1017.9 520.0,1018.5 520.8,1017.9 521.5,1018.6 522.3,1017.3 523.0,1017.7 523.8,1017.6 524.6,1017.5 525.3,1017.2 526.1,1018.5 526.8,1018.6 527.6,1018.6 528.3,1018.7 529.1,1018.4 529.8,1018.7 530.6,1017.9 531.3,1017.8 532.1,1018.0 532.8,1017.3 533.6,1017.4 534.4,1018.4 535.1,1017.1 535.9,1018.7 536.6,1018.7 537.4,1018.6 538.1,1018.7 538.9,1017.8 539.6,1017.2 540.4,1018.6 541.1,1017.5 541.9,1017.4 542.7,1017.4 543.4,1018.3 544.2,1017.5 544.9,1018.7 545.7,1018.7 546.4,1018.7 547.2,1018.6 547.9,1018.5 548.7,1018.7 549.4,1018.6 550.2,1018.1 550.9,1018.4 551.7,1018.6 552.5,1018.2 Z"/></defs>
<use href="#c41g" fill="#dcdddf" stroke="#939598" stroke-width="2.4" stroke-linejoin="round"/>
<clipPath id="c41g0"><rect x="437.1" y="842.3" width="178.2" height="97.8"/></clipPath>
<use href="#c41g" fill="none" stroke="#939598" stroke-linejoin="round" stroke-width="2.7" clip-path="url(#c41g0)"/>
<clipPath id="c41g1"><rect x="437.1" y="842.3" width="178.2" height="71.2"/></clipPath>
<use href="#c41g" fill="none" stroke="#939598" stroke-linejoin="round" stroke-width="3.1" clip-path="url(#c41g1)"/>
<clipPath id="c41g2"><rect x="437.1" y="842.3" width="178.2" height="48.0"/></clipPath>
<use href="#c41g" fill="none" stroke="#939598" stroke-linejoin="round" stroke-width="3.6" clip-path="url(#c41g2)"/>
<clipPath id="c41g3"><rect x="437.1" y="842.3" width="178.2" height="30.2"/></clipPath>
<use href="#c41g" fill="none" stroke="#939598" stroke-linejoin="round" stroke-width="4.0" clip-path="url(#c41g3)"/>
<defs><path id="c41k" d="M439.9,1018.2 440.6,1017.4 441.4,1018.7 442.2,1018.3 442.9,1018.7 443.7,1018.0 444.4,1017.3 445.2,1018.2 445.9,1017.6 446.7,1017.7 447.5,1017.3 448.2,1017.6 449.0,1018.0 449.7,1018.6 450.5,1017.5 451.2,1018.5 452.0,1018.6 452.8,1018.7 453.5,1017.5 454.3,1017.3 455.0,1017.3 455.8,1017.4 456.5,1017.5 457.3,1017.8 458.0,1018.5 458.8,1018.2 459.5,1017.9 460.2,1018.3 461.0,1017.0 461.7,1017.8 462.4,1017.0 463.1,1016.5 463.9,1016.8 464.6,1017.3 465.3,1016.7 466.0,1017.6 466.8,1016.2 467.5,1016.0 468.2,1015.5 468.9,1016.5 469.7,1014.9 470.4,1015.2 471.1,1015.3 471.8,1015.3 472.6,1015.3 473.3,1014.9 474.0,1013.7 474.8,1013.7 475.5,1014.7 476.2,1014.1 476.9,1013.6 477.7,1012.6 478.4,1011.3 479.1,1010.8 479.8,1011.9 480.6,1010.3 481.3,1009.8 482.0,1008.6 482.7,1008.4 483.5,1006.8 484.2,1006.2 484.9,1005.0 485.6,1002.2 486.4,998.4 487.1,997.1 487.8,994.2 488.5,992.2 489.3,990.6 490.0,987.6 490.7,984.0 491.5,981.9 492.2,978.6 492.9,977.0 493.6,975.0 494.4,969.9 495.1,963.5 495.8,957.6 496.5,953.1 497.3,947.0 498.0,941.8 498.7,936.1 499.4,925.2 500.2,919.7 500.9,913.7 501.6,902.3 502.3,891.7 503.1,884.6 503.8,875.6 504.5,870.6 505.3,861.0 506.0,856.8 506.7,857.7 507.3,853.6 508.0,854.6 508.6,852.0 509.3,853.7 510.0,857.6 510.8,862.9 511.5,867.2 512.2,865.2 513.0,866.3 513.7,872.5 514.4,878.8 515.1,884.4 515.9,889.2 516.7,891.0 517.6,892.8 518.3,897.3 519.1,903.5 519.8,911.9 520.5,917.4 521.2,924.3 522.0,929.3 522.7,934.6 523.4,940.9 524.1,946.9 524.9,948.8 525.6,953.6 526.3,956.5 527.0,960.2 527.8,965.6 528.5,969.8 529.2,973.0 529.9,974.9 530.7,980.2 531.4,984.3 532.1,987.7 532.8,990.7 533.6,996.4 534.3,998.2 535.0,999.9 535.8,1001.5 536.5,1003.2 537.2,1006.2 537.9,1007.1 538.7,1008.9 539.4,1008.8 540.1,1010.5 540.8,1011.6 541.6,1012.7 542.3,1012.4 543.0,1014.7 543.7,1014.4 544.5,1015.0 545.2,1014.4 545.9,1016.3 546.6,1015.4 547.4,1016.2 548.1,1016.0 548.8,1016.6 549.6,1016.8 550.3,1016.8 551.0,1018.1 551.7,1018.1 552.5,1017.7 553.2,1017.7 553.9,1018.1 554.6,1016.9 555.4,1017.4 556.1,1017.5 556.8,1017.2 557.5,1018.7 558.3,1018.7 559.0,1018.5 559.7,1018.7 560.5,1018.4 561.2,1018.5 562.0,1017.7 562.7,1018.4 563.5,1018.0 564.2,1017.8 564.9,1017.7 565.7,1018.1 566.4,1017.7 567.2,1017.7 567.9,1018.7 568.7,1018.4 569.4,1018.5 570.2,1018.6 570.9,1018.7 571.7,1018.1 572.4,1018.4 573.2,1017.8 573.9,1018.7 574.6,1018.1 575.4,1017.5 576.1,1017.7 576.9,1017.9 577.6,1018.4 578.4,1018.3 579.1,1018.2 579.9,1017.5 580.6,1018.7 581.4,1017.4 582.1,1017.7 582.9,1018.3 583.6,1018.5 584.3,1018.2 585.1,1017.9 585.8,1018.6 586.6,1018.0 587.3,1018.4 588.1,1018.6 588.8,1017.6 589.6,1018.7 590.3,1018.3 591.1,1018.7 591.8,1017.6 592.6,1017.9 593.3,1017.3 594.1,1018.2 594.8,1017.9 595.5,1018.6 596.3,1018.6 597.0,1018.0 597.8,1018.4 598.5,1018.7 599.3,1018.7 600.0,1018.7 600.8,1017.6 601.5,1017.7 602.3,1017.3 603.0,1017.9 603.8,1017.8 604.5,1018.6 605.2,1018.1 606.0,1017.5 606.7,1018.7 607.5,1018.7 608.2,1018.7 609.0,1017.9 609.7,1018.7 610.5,1018.0 611.2,1018.7 612.0,1018.0 612.7,1018.7 613.5,1018.2"/></defs>
<use href="#c41k" fill="none" stroke="#231f20" stroke-width="2.95" stroke-linejoin="round"/>
<rect x="438.45" y="843.65" width="175.50" height="175.20" fill="none" stroke="#231f20" stroke-width="2.7"/>
<path d="M432.8,1018.6 H437.6 M435.1,1011.9 H437.6 M435.1,1005.2 H437.6 M435.1,998.6 H437.6 M435.1,991.9 H437.6 M432.8,985.2 H437.6 M435.1,978.5 H437.6 M435.1,971.8 H437.6 M435.1,965.2 H437.6 M435.1,958.5 H437.6 M432.8,951.8 H437.6 M435.1,945.1 H437.6 M435.1,938.4 H437.6 M435.1,931.8 H437.6 M435.1,925.1 H437.6 M432.8,918.4 H437.6 M435.1,911.7 H437.6 M435.1,905.0 H437.6 M435.1,898.4 H437.6 M435.1,891.7 H437.6 M432.8,885.0 H437.6 M435.1,878.3 H437.6 M435.1,871.6 H437.6 M435.1,865.0 H437.6 M435.1,858.3 H437.6 M432.8,851.6 H437.6 M435.1,844.9 H437.6" stroke="#231f20" stroke-width="2.1" fill="none"/>
<path d="M439.2,1019.7 V1024.6 M455.7,1019.7 V1024.6 M475.0,1019.7 V1024.6 M517.1,1019.7 V1024.6 M557.8,1019.7 V1024.6 M596.4,1019.7 V1024.6 M447.2,1019.7 V1022.6 M466.1,1019.7 V1022.6 M487.7,1019.7 V1022.6 M495.1,1019.7 V1022.6 M500.3,1019.7 V1022.6 M504.4,1019.7 V1022.6 M507.8,1019.7 V1022.6 M510.6,1019.7 V1022.6 M513.0,1019.7 V1022.6 M515.2,1019.7 V1022.6 M529.4,1019.7 V1022.6 M536.5,1019.7 V1022.6 M541.6,1019.7 V1022.6 M545.5,1019.7 V1022.6 M548.8,1019.7 V1022.6 M551.5,1019.7 V1022.6 M553.9,1019.7 V1022.6 M555.9,1019.7 V1022.6 M569.4,1019.7 V1022.6 M576.2,1019.7 V1022.6 M581.0,1019.7 V1022.6 M584.8,1019.7 V1022.6 M587.8,1019.7 V1022.6 M590.4,1019.7 V1022.6 M592.7,1019.7 V1022.6 M594.6,1019.7 V1022.6 M608.0,1019.7 V1022.6" stroke="#231f20" stroke-width="2.1" fill="none"/>
<path d="M498.7,926.1 H612.7" stroke="#231f20" stroke-width="2.75" fill="none"/>
<path d="M498.7,920.7 V931.5 M612.7,920.7 V931.5" stroke="#231f20" stroke-width="3.0" fill="none"/>
<text transform="translate(596.76 903.90) scale(1.0 1.04)" x="-68.51" y="0" font-size="35.3" >85.4</text>
<defs><path id="c42g" d="M628.9,1018.2 628.9,978.9 629.9,1004.1 630.5,1002.2 631.2,999.2 631.8,995.5 632.5,992.7 633.3,988.3 634.0,983.8 634.7,979.2 635.4,976.4 636.2,972.7 636.9,969.2 637.6,963.8 638.3,961.4 639.1,958.2 639.8,957.3 640.5,955.6 641.2,950.3 642.0,946.1 642.7,940.1 643.4,935.0 644.1,927.4 644.9,921.2 645.6,916.1 646.3,914.3 647.0,908.0 647.8,903.6 648.5,897.9 649.2,896.4 650.0,892.9 650.7,887.6 651.4,882.7 652.1,879.8 652.9,879.4 653.6,877.4 654.3,867.9 655.0,861.6 655.8,857.3 656.5,858.1 657.2,853.7 657.9,855.7 658.7,851.9 659.4,854.9 660.1,852.5 660.8,854.6 661.6,854.0 662.3,855.6 663.0,852.5 663.8,854.9 664.5,853.6 665.2,862.0 665.9,870.2 666.7,871.7 667.4,880.3 668.1,879.3 668.8,881.7 669.6,884.6 670.3,888.7 671.0,894.7 671.7,896.8 672.5,901.3 673.2,910.4 673.9,920.9 674.6,928.0 675.4,936.8 676.1,946.2 676.8,956.3 677.5,965.9 678.3,976.2 679.0,983.4 679.7,990.4 680.5,994.8 681.2,998.2 681.9,1002.3 682.6,1004.3 683.4,1006.2 684.1,1009.4 684.8,1009.3 685.5,1010.7 686.3,1011.8 687.0,1012.0 687.7,1013.1 688.4,1013.8 689.2,1014.6 689.9,1013.3 690.6,1014.6 691.3,1014.8 692.1,1014.5 692.8,1015.9 693.5,1015.2 694.3,1015.9 695.0,1015.4 695.7,1016.4 696.4,1016.4 697.2,1016.5 697.9,1016.4 698.6,1016.5 699.3,1017.8 700.1,1016.4 700.8,1017.0 701.5,1017.5 702.2,1016.6 703.0,1017.0 703.7,1017.5 704.5,1016.9 705.3,1018.3 706.0,1017.9 706.8,1017.8 707.5,1017.2 708.3,1017.2 709.0,1017.2 709.8,1017.9 710.5,1017.1 711.3,1017.9 712.0,1017.2 712.8,1017.8 713.6,1018.4 714.3,1017.3 715.1,1018.0 715.8,1017.6 716.6,1017.9 717.3,1017.3 718.1,1017.6 718.8,1018.3 719.6,1017.5 720.3,1018.1 721.1,1018.2 721.8,1017.3 722.6,1018.2 723.4,1017.9 724.1,1018.5 724.9,1018.1 725.6,1017.7 726.4,1017.5 727.1,1018.2 727.9,1017.8 728.6,1018.7 729.4,1018.4 730.1,1017.9 730.9,1017.6 731.7,1018.7 732.4,1018.7 733.2,1018.4 733.9,1017.8 734.7,1018.0 735.4,1017.4 736.2,1017.9 736.9,1017.5 737.7,1017.9 738.4,1017.3 739.2,1018.1 739.9,1018.7 740.7,1018.5 741.5,1018.2 Z"/></defs>
<use href="#c42g" fill="#dcdddf" stroke="#939598" stroke-width="2.4" stroke-linejoin="round"/>
<clipPath id="c42g0"><rect x="626.2" y="842.3" width="178.2" height="97.8"/></clipPath>
<use href="#c42g" fill="none" stroke="#939598" stroke-linejoin="round" stroke-width="2.7" clip-path="url(#c42g0)"/>
<clipPath id="c42g1"><rect x="626.2" y="842.3" width="178.2" height="71.2"/></clipPath>
<use href="#c42g" fill="none" stroke="#939598" stroke-linejoin="round" stroke-width="3.1" clip-path="url(#c42g1)"/>
<clipPath id="c42g2"><rect x="626.2" y="842.3" width="178.2" height="48.0"/></clipPath>
<use href="#c42g" fill="none" stroke="#939598" stroke-linejoin="round" stroke-width="3.6" clip-path="url(#c42g2)"/>
<clipPath id="c42g3"><rect x="626.2" y="842.3" width="178.2" height="30.2"/></clipPath>
<use href="#c42g" fill="none" stroke="#939598" stroke-linejoin="round" stroke-width="4.0" clip-path="url(#c42g3)"/>
<defs><path id="c42k" d="M628.9,1018.2 628.9,1015.1 629.6,1015.7 630.3,1016.0 631.1,1016.8 631.8,1016.6 632.5,1018.0 633.3,1017.0 634.0,1017.7 634.7,1017.2 635.4,1016.3 636.2,1016.6 636.9,1016.5 637.6,1016.5 638.3,1016.7 639.1,1016.0 639.8,1016.2 640.5,1015.7 641.2,1016.1 642.0,1015.5 642.7,1016.4 643.4,1014.7 644.1,1015.9 644.9,1016.0 645.6,1015.9 646.3,1014.7 647.0,1013.7 647.8,1014.5 648.5,1012.8 649.2,1013.5 650.0,1012.6 650.7,1012.1 651.4,1012.1 652.1,1011.1 652.9,1011.3 653.6,1010.4 654.3,1010.2 655.0,1009.7 655.8,1008.8 656.5,1008.5 657.2,1008.1 657.9,1008.6 658.7,1008.0 659.4,1006.3 660.1,1003.6 660.8,1002.3 661.6,1000.2 662.3,999.7 663.0,1000.0 663.8,998.3 664.5,997.6 665.2,996.2 665.9,994.5 666.7,994.1 667.4,993.3 668.1,990.5 668.8,987.5 669.6,986.2 670.3,983.0 671.0,978.4 671.7,974.4 672.5,968.0 673.2,969.1 673.9,967.8 674.6,966.3 675.4,958.6 676.1,949.8 676.8,945.5 677.5,940.8 678.3,932.8 679.0,927.3 679.7,921.0 680.5,917.8 681.2,915.3 681.9,912.6 682.6,909.4 683.4,906.3 683.9,896.5 684.5,889.0 685.5,873.5 686.6,874.1 687.1,869.1 687.7,861.9 688.4,873.5 689.2,879.5 690.2,854.8 690.8,868.9 691.3,881.8 692.4,873.2 693.2,889.6 694.3,905.4 695.0,911.5 695.7,919.1 696.4,926.9 697.2,937.1 697.9,943.9 698.6,948.3 699.3,957.3 700.1,963.8 701.1,975.3 701.7,978.6 702.3,977.3 703.0,978.1 703.7,982.0 704.4,986.8 705.1,989.1 705.9,993.6 706.6,993.2 707.3,994.4 708.1,997.9 708.8,998.0 709.5,997.9 710.2,999.1 711.0,998.4 711.7,998.5 712.4,997.2 713.1,998.7 713.9,997.7 714.6,997.7 715.3,998.2 716.0,996.8 716.8,997.3 717.5,996.4 718.2,996.4 718.9,997.0 719.7,997.9 720.4,996.2 721.1,997.7 721.8,996.1 722.6,997.3 723.3,996.9 724.0,996.7 724.8,997.7 725.5,999.1 726.2,998.0 726.9,998.1 727.7,997.2 728.4,996.1 729.1,997.8 729.8,996.5 730.6,997.4 731.3,997.1 732.0,997.0 732.7,996.1 733.5,995.4 734.2,996.0 734.9,995.1 735.6,994.6 736.4,996.2 737.1,995.9 737.8,995.3 738.6,996.7 739.3,997.3 740.0,997.2 740.7,996.6 741.5,997.9 742.2,997.1 742.9,998.0 743.6,998.3 744.4,998.4 745.1,997.5 745.8,997.2 746.5,999.6 747.3,1000.3 748.0,1002.8 748.7,1006.6 749.4,1004.8 750.2,1005.6 750.9,1005.0 751.6,1005.6 752.4,1004.6 753.1,1004.4 753.8,1005.5 754.5,1006.2 755.3,1008.7 756.0,1008.6 756.7,1008.4 757.4,1009.6 758.2,1009.6 758.9,1011.0 759.6,1011.2 760.3,1010.9 761.1,1011.7 761.8,1013.0 762.5,1012.2 763.2,1013.2 764.0,1013.0 764.7,1014.8 765.4,1014.6 766.1,1014.8 766.9,1015.2 767.6,1016.6 768.3,1017.0 769.1,1015.9 769.8,1016.3 770.5,1017.1 771.2,1016.5 772.0,1017.6 772.7,1016.9 773.4,1017.4 774.1,1018.3 774.9,1017.8 775.6,1017.2 776.3,1017.5 777.0,1018.2 777.8,1017.8 778.5,1017.5 779.3,1018.7 780.0,1018.4 780.8,1018.6 781.5,1018.3 782.3,1018.7 783.0,1018.4 783.8,1017.8 784.5,1017.5 785.2,1018.0 786.0,1017.3 786.7,1018.7 787.5,1018.0 788.2,1017.5 789.0,1018.7 789.7,1017.8 790.5,1018.3 791.2,1018.4 792.0,1017.4 792.7,1018.5 793.5,1018.1 794.2,1017.9 795.0,1018.7 795.7,1018.7 796.5,1017.7 797.2,1017.5 798.0,1018.6 798.7,1018.7 799.5,1017.5 800.2,1017.7 801.0,1017.3 801.7,1018.7 802.5,1018.2"/></defs>
<use href="#c42k" fill="none" stroke="#231f20" stroke-width="2.95" stroke-linejoin="round"/>
<rect x="627.55" y="843.65" width="175.50" height="175.20" fill="none" stroke="#231f20" stroke-width="2.7"/>
<path d="M621.9,1018.6 H626.7 M624.2,1011.9 H626.7 M624.2,1005.2 H626.7 M624.2,998.6 H626.7 M624.2,991.9 H626.7 M621.9,985.2 H626.7 M624.2,978.5 H626.7 M624.2,971.8 H626.7 M624.2,965.2 H626.7 M624.2,958.5 H626.7 M621.9,951.8 H626.7 M624.2,945.1 H626.7 M624.2,938.4 H626.7 M624.2,931.8 H626.7 M624.2,925.1 H626.7 M621.9,918.4 H626.7 M624.2,911.7 H626.7 M624.2,905.0 H626.7 M624.2,898.4 H626.7 M624.2,891.7 H626.7 M621.9,885.0 H626.7 M624.2,878.3 H626.7 M624.2,871.6 H626.7 M624.2,865.0 H626.7 M624.2,858.3 H626.7 M621.9,851.6 H626.7 M624.2,844.9 H626.7" stroke="#231f20" stroke-width="2.1" fill="none"/>
<path d="M628.3,1019.7 V1024.6 M644.8,1019.7 V1024.6 M664.1,1019.7 V1024.6 M706.2,1019.7 V1024.6 M746.9,1019.7 V1024.6 M785.5,1019.7 V1024.6 M636.3,1019.7 V1022.6 M655.2,1019.7 V1022.6 M676.8,1019.7 V1022.6 M684.2,1019.7 V1022.6 M689.4,1019.7 V1022.6 M693.5,1019.7 V1022.6 M696.9,1019.7 V1022.6 M699.7,1019.7 V1022.6 M702.1,1019.7 V1022.6 M704.3,1019.7 V1022.6 M718.5,1019.7 V1022.6 M725.6,1019.7 V1022.6 M730.7,1019.7 V1022.6 M734.6,1019.7 V1022.6 M737.9,1019.7 V1022.6 M740.6,1019.7 V1022.6 M743.0,1019.7 V1022.6 M745.0,1019.7 V1022.6 M758.5,1019.7 V1022.6 M765.3,1019.7 V1022.6 M770.1,1019.7 V1022.6 M773.9,1019.7 V1022.6 M776.9,1019.7 V1022.6 M779.5,1019.7 V1022.6 M781.8,1019.7 V1022.6 M783.7,1019.7 V1022.6 M797.1,1019.7 V1022.6" stroke="#231f20" stroke-width="2.1" fill="none"/>
<path d="M687.7,926.1 H801.7" stroke="#231f20" stroke-width="2.75" fill="none"/>
<path d="M687.7,920.7 V931.5 M801.7,920.7 V931.5" stroke="#231f20" stroke-width="3.0" fill="none"/>
<text transform="translate(778.49 903.90) scale(1.0 1.04)" x="-68.51" y="0" font-size="35.3" >60.4</text>
<defs><path id="c43g" d="M817.9,1018.2 817.9,999.3 818.6,1004.8 819.3,1011.6 820.1,1008.1 820.8,1004.6 821.5,999.6 822.3,996.9 823.0,992.6 823.7,988.8 824.4,985.2 825.2,983.9 825.9,980.5 826.6,977.1 827.3,974.9 828.1,971.7 828.8,967.6 829.5,964.7 830.2,959.9 831.0,955.9 831.7,951.8 832.4,946.7 833.1,944.0 833.9,940.5 834.6,933.0 835.3,925.7 836.0,921.8 836.8,917.2 837.5,910.2 838.2,908.8 839.0,904.9 839.7,899.5 840.4,896.7 841.1,893.3 841.9,886.0 842.6,884.8 843.3,879.0 844.0,873.1 844.8,870.8 845.5,868.1 846.2,864.5 846.9,858.1 847.7,854.7 848.4,853.5 849.1,857.1 849.8,857.0 850.6,854.9 851.3,853.0 852.0,854.5 852.8,854.3 853.5,855.3 854.2,863.2 854.9,873.0 855.7,877.8 856.4,883.0 857.1,889.6 857.8,891.1 858.6,891.6 859.3,893.2 860.0,896.7 860.7,902.8 861.5,909.6 862.2,918.8 862.9,930.2 863.6,941.4 864.4,951.8 865.1,960.3 865.8,967.9 866.5,976.6 867.3,983.9 868.0,990.4 868.7,993.2 869.5,996.2 870.2,1000.6 870.9,1002.7 871.6,1004.7 872.4,1006.7 873.1,1009.3 873.8,1009.7 874.5,1012.3 875.3,1011.4 876.0,1012.6 876.7,1012.3 877.4,1012.6 878.2,1013.0 878.9,1012.7 879.6,1013.3 880.3,1013.6 881.1,1013.1 881.8,1014.9 882.5,1014.4 883.3,1015.1 884.0,1015.7 884.7,1014.9 885.4,1015.4 886.2,1016.5 886.9,1017.0 887.6,1016.3 888.3,1016.9 889.1,1017.0 889.8,1017.5 890.5,1018.1 891.2,1018.4 892.0,1017.9 892.7,1017.5 893.5,1018.4 894.3,1018.5 895.0,1017.3 895.8,1017.5 896.5,1018.6 897.3,1017.4 898.0,1017.9 898.8,1017.0 899.5,1018.5 900.3,1017.3 901.0,1017.0 901.8,1017.8 902.6,1017.9 903.3,1018.4 904.1,1018.2 904.8,1017.4 905.6,1018.0 906.3,1017.4 907.1,1017.7 907.8,1018.6 908.6,1018.7 909.3,1017.2 910.1,1017.4 910.8,1017.7 911.6,1017.8 912.4,1018.2 913.1,1017.3 913.9,1017.1 914.6,1017.4 915.4,1018.5 916.1,1018.4 916.9,1018.3 917.6,1018.2 918.4,1017.5 919.1,1018.7 919.9,1018.5 920.7,1017.7 921.4,1018.5 922.2,1017.4 922.9,1018.0 923.7,1018.7 924.4,1018.7 925.2,1018.1 925.9,1017.8 926.7,1017.7 927.4,1017.4 928.2,1017.6 928.9,1017.8 929.7,1018.6 930.5,1018.2 Z"/></defs>
<use href="#c43g" fill="#dcdddf" stroke="#939598" stroke-width="2.4" stroke-linejoin="round"/>
<clipPath id="c43g0"><rect x="815.3" y="842.3" width="178.2" height="97.8"/></clipPath>
<use href="#c43g" fill="none" stroke="#939598" stroke-linejoin="round" stroke-width="2.7" clip-path="url(#c43g0)"/>
<clipPath id="c43g1"><rect x="815.3" y="842.3" width="178.2" height="71.2"/></clipPath>
<use href="#c43g" fill="none" stroke="#939598" stroke-linejoin="round" stroke-width="3.1" clip-path="url(#c43g1)"/>
<clipPath id="c43g2"><rect x="815.3" y="842.3" width="178.2" height="48.0"/></clipPath>
<use href="#c43g" fill="none" stroke="#939598" stroke-linejoin="round" stroke-width="3.6" clip-path="url(#c43g2)"/>
<clipPath id="c43g3"><rect x="815.3" y="842.3" width="178.2" height="30.2"/></clipPath>
<use href="#c43g" fill="none" stroke="#939598" stroke-linejoin="round" stroke-width="4.0" clip-path="url(#c43g3)"/>
<defs><path id="c43k" d="M817.9,1018.2 817.9,1016.0 818.6,1016.5 819.3,1016.9 820.1,1017.7 820.8,1018.1 821.5,1017.8 822.3,1018.1 823.0,1017.3 823.7,1017.6 824.4,1016.9 825.2,1017.9 825.9,1016.7 826.6,1017.2 827.3,1017.8 828.1,1017.5 828.8,1018.0 829.5,1016.1 830.2,1017.3 831.0,1015.8 831.7,1015.6 832.4,1014.8 833.1,1015.8 833.9,1015.9 834.6,1015.0 835.3,1015.1 836.0,1015.0 836.8,1015.1 837.5,1014.1 838.2,1014.1 839.0,1013.0 839.7,1014.3 840.4,1014.2 841.1,1013.7 841.9,1012.3 842.6,1011.9 843.3,1011.3 844.0,1012.9 844.8,1012.2 845.5,1011.4 846.2,1010.1 846.9,1009.7 847.7,1010.2 848.4,1010.2 849.1,1008.2 849.8,1008.3 850.6,1007.6 851.3,1007.0 852.0,1006.7 852.8,1004.3 853.5,1003.3 854.2,1004.2 854.9,1003.2 855.7,1001.8 856.4,1000.6 857.1,1000.1 857.8,998.8 858.6,996.0 859.3,994.5 860.0,995.2 860.7,991.8 861.5,990.3 862.2,988.9 862.9,987.4 863.6,985.0 864.4,982.2 865.1,980.6 865.8,976.8 866.5,972.1 867.3,969.0 868.0,964.2 868.7,961.0 869.5,956.2 870.2,954.0 870.9,949.5 871.6,944.9 872.4,942.1 873.1,937.8 873.8,933.1 874.5,930.9 875.3,927.7 876.0,922.2 876.7,918.2 877.4,912.1 878.2,908.9 878.9,904.3 879.6,900.9 880.3,896.7 881.1,894.8 881.8,891.3 882.5,889.4 883.3,883.6 884.0,880.0 884.7,879.7 885.4,874.2 886.2,874.1 886.9,873.6 887.6,868.3 888.3,863.9 889.1,864.8 889.8,863.1 890.5,860.2 891.2,862.8 892.0,860.5 892.7,858.2 893.4,853.8 894.1,851.9 894.9,856.8 895.6,859.9 896.3,862.0 897.1,862.0 897.8,862.0 898.5,867.4 899.2,868.4 900.0,877.6 900.7,885.1 901.4,889.6 902.1,898.3 902.9,905.6 903.6,912.1 904.3,915.3 905.0,922.0 905.8,929.0 906.5,933.9 907.2,937.8 907.9,946.0 908.7,949.2 909.4,955.4 910.1,964.3 910.8,971.3 911.6,977.4 912.3,983.4 913.0,987.6 913.8,990.4 914.5,995.0 915.2,997.0 915.9,999.5 916.7,1000.1 917.4,1003.6 918.1,1005.2 918.8,1006.7 919.6,1007.1 920.3,1009.6 921.0,1010.9 921.7,1010.7 922.5,1011.1 923.2,1013.1 923.9,1013.1 924.6,1014.3 925.4,1014.2 926.1,1014.9 926.8,1015.0 927.6,1015.4 928.3,1015.5 929.0,1016.3 929.7,1016.8 930.5,1017.6 931.2,1016.4 931.9,1018.1 932.6,1018.4 933.4,1017.1 934.1,1018.3 934.8,1017.8 935.5,1018.2 936.3,1018.0 937.0,1017.2 937.7,1017.6 938.4,1018.2 939.2,1017.5 939.9,1017.3 940.6,1017.8 941.4,1017.6 942.1,1017.4 942.9,1017.8 943.6,1017.7 944.4,1017.5 945.1,1018.0 945.9,1018.5 946.6,1017.8 947.4,1017.7 948.1,1018.7 948.8,1018.7 949.6,1018.7 950.3,1017.7 951.1,1017.4 951.8,1017.9 952.6,1017.8 953.3,1018.7 954.1,1018.2 954.8,1018.6 955.6,1018.4 956.3,1018.4 957.1,1017.7 957.8,1018.3 958.6,1018.2 959.3,1018.7 960.1,1018.7 960.8,1018.7 961.6,1018.7 962.3,1017.9 963.1,1017.9 963.8,1018.7 964.5,1018.0 965.3,1018.5 966.0,1018.7 966.8,1018.6 967.5,1017.9 968.3,1018.5 969.0,1018.5 969.8,1018.7 970.5,1018.5 971.3,1018.7 972.0,1018.7 972.8,1018.4 973.5,1017.6 974.3,1018.5 975.0,1018.0 975.8,1017.9 976.5,1017.5 977.3,1018.7 978.0,1018.3 978.8,1018.5 979.5,1017.9 980.2,1018.3 981.0,1018.3 981.7,1018.7 982.5,1018.6 983.2,1017.7 984.0,1017.6 984.7,1017.7 985.5,1017.9 986.2,1017.8 987.0,1017.5 987.7,1017.4 988.5,1018.4 989.2,1017.9 990.0,1018.2 990.7,1018.7 991.5,1018.2"/></defs>
<use href="#c43k" fill="none" stroke="#231f20" stroke-width="2.95" stroke-linejoin="round"/>
<rect x="816.65" y="843.65" width="175.50" height="175.20" fill="none" stroke="#231f20" stroke-width="2.7"/>
<path d="M811.0,1018.6 H815.8 M813.3,1011.9 H815.8 M813.3,1005.2 H815.8 M813.3,998.6 H815.8 M813.3,991.9 H815.8 M811.0,985.2 H815.8 M813.3,978.5 H815.8 M813.3,971.8 H815.8 M813.3,965.2 H815.8 M813.3,958.5 H815.8 M811.0,951.8 H815.8 M813.3,945.1 H815.8 M813.3,938.4 H815.8 M813.3,931.8 H815.8 M813.3,925.1 H815.8 M811.0,918.4 H815.8 M813.3,911.7 H815.8 M813.3,905.0 H815.8 M813.3,898.4 H815.8 M813.3,891.7 H815.8 M811.0,885.0 H815.8 M813.3,878.3 H815.8 M813.3,871.6 H815.8 M813.3,865.0 H815.8 M813.3,858.3 H815.8 M811.0,851.6 H815.8 M813.3,844.9 H815.8" stroke="#231f20" stroke-width="2.1" fill="none"/>
<path d="M817.4,1019.7 V1024.6 M833.9,1019.7 V1024.6 M853.2,1019.7 V1024.6 M895.3,1019.7 V1024.6 M936.0,1019.7 V1024.6 M974.6,1019.7 V1024.6 M825.4,1019.7 V1022.6 M844.3,1019.7 V1022.6 M865.9,1019.7 V1022.6 M873.3,1019.7 V1022.6 M878.5,1019.7 V1022.6 M882.6,1019.7 V1022.6 M886.0,1019.7 V1022.6 M888.8,1019.7 V1022.6 M891.2,1019.7 V1022.6 M893.4,1019.7 V1022.6 M907.6,1019.7 V1022.6 M914.7,1019.7 V1022.6 M919.8,1019.7 V1022.6 M923.7,1019.7 V1022.6 M927.0,1019.7 V1022.6 M929.7,1019.7 V1022.6 M932.1,1019.7 V1022.6 M934.1,1019.7 V1022.6 M947.6,1019.7 V1022.6 M954.4,1019.7 V1022.6 M959.2,1019.7 V1022.6 M963.0,1019.7 V1022.6 M966.0,1019.7 V1022.6 M968.6,1019.7 V1022.6 M970.9,1019.7 V1022.6 M972.8,1019.7 V1022.6 M986.2,1019.7 V1022.6" stroke="#231f20" stroke-width="2.1" fill="none"/>
<path d="M877.4,926.1 H990.7" stroke="#231f20" stroke-width="2.75" fill="none"/>
<path d="M877.4,920.7 V931.5 M990.7,920.7 V931.5" stroke="#231f20" stroke-width="3.0" fill="none"/>
<text transform="translate(975.19 903.90) scale(1.0 1.04)" x="-67.26" y="0" font-size="35.3" >80.0</text>
<defs><path id="c44g" d="M1006.9,1018.2 1006.9,974.3 1007.9,999.7 1008.5,997.0 1009.2,993.0 1009.8,990.2 1010.5,987.4 1011.3,984.7 1012.0,981.4 1012.7,979.6 1013.4,976.2 1014.2,973.6 1014.9,971.0 1015.6,971.6 1016.3,968.8 1017.1,964.2 1017.8,960.7 1018.5,957.3 1019.2,949.7 1020.0,943.5 1020.7,941.4 1021.4,940.8 1022.1,939.1 1022.9,936.4 1023.6,931.2 1024.3,926.0 1025.0,919.7 1025.8,914.9 1026.5,911.3 1027.2,909.1 1028.0,908.0 1028.7,907.4 1029.4,902.5 1030.1,898.3 1030.9,894.7 1031.6,890.8 1032.3,885.7 1033.0,884.2 1033.8,879.1 1034.5,871.8 1035.2,868.6 1035.9,862.1 1036.7,856.9 1037.4,858.1 1038.1,854.2 1038.8,854.2 1039.6,854.6 1040.3,856.4 1041.0,856.1 1041.8,858.6 1042.5,861.3 1043.2,862.1 1043.9,863.6 1044.7,864.0 1045.4,868.5 1046.1,872.6 1046.8,874.1 1047.6,879.3 1048.3,879.8 1049.0,883.0 1049.7,893.3 1050.5,901.4 1051.2,907.8 1051.9,913.8 1052.6,918.1 1053.4,924.8 1054.1,932.7 1054.8,937.7 1055.5,945.5 1056.3,951.9 1057.0,963.0 1057.7,971.5 1058.5,977.5 1059.2,983.2 1059.9,990.0 1060.6,995.1 1061.4,998.1 1062.1,1001.9 1062.8,1004.0 1063.5,1006.0 1064.3,1008.1 1065.0,1009.5 1065.7,1011.7 1066.4,1011.4 1067.2,1013.7 1067.9,1012.5 1068.6,1014.3 1069.3,1013.9 1070.1,1013.8 1070.8,1013.7 1071.5,1013.8 1072.3,1014.6 1073.0,1014.0 1073.7,1014.8 1074.4,1015.0 1075.2,1014.9 1075.9,1015.2 1076.6,1016.2 1077.3,1017.0 1078.1,1016.6 1078.8,1016.7 1079.5,1018.3 1080.2,1017.5 1081.0,1017.9 1081.7,1017.9 1082.5,1018.2 1083.2,1017.7 1084.0,1017.5 1084.7,1018.4 1085.5,1017.7 1086.3,1017.3 1087.0,1017.8 1087.8,1017.7 1088.5,1017.5 1089.3,1017.2 1090.0,1018.5 1090.8,1017.8 1091.5,1018.3 1092.3,1017.3 1093.0,1017.7 1093.8,1017.1 1094.5,1018.7 1095.3,1017.3 1096.0,1018.2 1096.8,1018.5 1097.5,1018.4 1098.3,1018.1 1099.0,1017.3 1099.8,1018.4 1100.5,1017.9 1101.3,1018.1 1102.0,1018.7 1102.8,1018.0 1103.5,1017.5 1104.3,1018.6 1105.0,1018.0 1105.8,1018.2 1106.5,1018.6 1107.3,1017.3 1108.0,1017.8 1108.8,1018.2 1109.5,1017.6 1110.3,1018.5 1111.0,1017.8 1111.8,1018.2 1112.5,1018.3 1113.3,1017.5 1114.0,1017.7 1114.8,1017.2 1115.6,1017.2 1116.3,1018.1 1117.1,1017.5 1117.8,1017.8 1118.6,1017.5 1119.3,1017.5 1120.1,1018.3 1120.8,1017.9 1121.6,1017.7 1122.3,1017.6 1123.1,1018.7 1123.8,1018.2 Z"/></defs>
<use href="#c44g" fill="#dcdddf" stroke="#939598" stroke-width="2.4" stroke-linejoin="round"/>
<clipPath id="c44g0"><rect x="1004.4" y="842.3" width="178.2" height="97.8"/></clipPath>
<use href="#c44g" fill="none" stroke="#939598" stroke-linejoin="round" stroke-width="2.7" clip-path="url(#c44g0)"/>
<clipPath id="c44g1"><rect x="1004.4" y="842.3" width="178.2" height="71.2"/></clipPath>
<use href="#c44g" fill="none" stroke="#939598" stroke-linejoin="round" stroke-width="3.1" clip-path="url(#c44g1)"/>
<clipPath id="c44g2"><rect x="1004.4" y="842.3" width="178.2" height="48.0"/></clipPath>
<use href="#c44g" fill="none" stroke="#939598" stroke-linejoin="round" stroke-width="3.6" clip-path="url(#c44g2)"/>
<clipPath id="c44g3"><rect x="1004.4" y="842.3" width="178.2" height="30.2"/></clipPath>
<use href="#c44g" fill="none" stroke="#939598" stroke-linejoin="round" stroke-width="4.0" clip-path="url(#c44g3)"/>
<defs><path id="c44k" d="M1006.9,1018.2 1007.6,1018.7 1008.4,1018.6 1009.2,1017.4 1009.9,1018.5 1010.7,1017.6 1011.4,1018.1 1012.2,1017.3 1012.9,1018.7 1013.7,1017.1 1014.5,1018.6 1015.2,1017.7 1016.0,1017.3 1016.7,1018.6 1017.5,1017.9 1018.2,1017.2 1019.0,1017.4 1019.8,1017.9 1020.5,1017.6 1021.3,1017.5 1022.0,1017.1 1022.8,1017.4 1023.5,1016.6 1024.3,1018.4 1025.0,1017.2 1025.8,1018.0 1026.5,1018.0 1027.2,1017.6 1028.0,1018.2 1028.7,1017.3 1029.4,1017.0 1030.1,1016.9 1030.9,1017.9 1031.6,1017.8 1032.3,1016.3 1033.0,1017.7 1033.8,1017.4 1034.5,1015.5 1035.2,1015.3 1035.9,1015.0 1036.7,1016.1 1037.4,1014.3 1038.1,1015.7 1038.8,1014.6 1039.6,1013.7 1040.3,1013.3 1041.0,1013.1 1041.8,1012.4 1042.5,1013.8 1043.2,1013.1 1043.9,1011.3 1044.7,1011.2 1045.4,1009.8 1046.1,1010.1 1046.8,1009.0 1047.6,1007.6 1048.3,1007.7 1049.0,1005.4 1049.7,1002.8 1050.5,1002.2 1051.2,1000.4 1051.9,997.2 1052.6,995.8 1053.4,993.7 1054.1,988.9 1054.8,987.7 1055.5,985.8 1056.3,981.5 1057.0,978.6 1057.7,974.2 1058.5,972.1 1059.2,967.5 1059.9,964.4 1060.6,959.2 1061.4,954.8 1062.1,950.8 1062.8,944.2 1063.5,935.8 1064.3,930.0 1065.0,924.0 1065.7,920.1 1066.4,910.5 1067.2,902.5 1067.9,888.6 1068.6,881.2 1069.3,870.8 1070.1,866.3 1070.8,858.4 1071.5,856.4 1072.3,853.8 1073.0,855.4 1073.7,854.1 1074.4,857.2 1075.2,862.1 1075.9,864.0 1076.6,867.8 1077.3,861.7 1078.1,858.7 1078.8,867.0 1079.5,873.3 1080.2,877.0 1081.0,879.4 1081.7,886.1 1082.4,890.1 1083.1,893.9 1083.9,899.2 1084.6,902.7 1085.3,910.3 1086.1,917.7 1086.8,926.7 1087.5,928.3 1088.2,935.8 1089.0,937.9 1089.7,941.6 1090.4,948.7 1091.1,951.6 1091.9,954.8 1092.6,960.4 1093.3,966.4 1094.0,972.2 1094.8,975.4 1095.5,979.7 1096.2,983.9 1096.9,985.9 1097.7,988.2 1098.4,990.7 1099.1,995.2 1099.8,998.6 1100.6,1001.2 1101.3,1001.4 1102.0,1005.2 1102.8,1004.7 1103.5,1006.5 1104.2,1007.8 1104.9,1008.5 1105.7,1010.7 1106.4,1010.3 1107.1,1011.9 1107.8,1012.9 1108.6,1013.0 1109.3,1012.8 1110.0,1014.1 1110.7,1014.2 1111.5,1015.7 1112.2,1014.5 1112.9,1015.9 1113.6,1016.2 1114.4,1016.3 1115.1,1016.7 1115.8,1017.3 1116.6,1016.3 1117.3,1017.9 1118.0,1017.3 1118.7,1016.6 1119.5,1016.7 1120.2,1018.3 1120.9,1018.0 1121.6,1018.1 1122.4,1017.6 1123.1,1017.4 1123.8,1018.0 1124.5,1018.3 1125.3,1018.7 1126.0,1017.5 1126.7,1017.5 1127.5,1018.7 1128.2,1017.8 1129.0,1017.9 1129.7,1018.3 1130.5,1018.1 1131.2,1018.3 1131.9,1018.3 1132.7,1018.0 1133.4,1017.9 1134.2,1018.6 1134.9,1017.7 1135.7,1018.6 1136.4,1017.5 1137.2,1018.7 1137.9,1017.5 1138.7,1018.5 1139.4,1017.4 1140.2,1018.5 1140.9,1017.5 1141.6,1017.4 1142.4,1018.3 1143.1,1018.7 1143.9,1017.8 1144.6,1018.1 1145.4,1018.4 1146.1,1017.6 1146.9,1018.7 1147.6,1017.5 1148.4,1017.9 1149.1,1018.3 1149.9,1018.3 1150.6,1018.3 1151.3,1018.3 1152.1,1018.1 1152.8,1017.7 1153.6,1017.9 1154.3,1018.7 1155.1,1018.7 1155.8,1018.7 1156.6,1018.6 1157.3,1018.7 1158.1,1018.6 1158.8,1018.5 1159.6,1018.6 1160.3,1018.5 1161.1,1018.6 1161.8,1017.6 1162.5,1018.5 1163.3,1018.7 1164.0,1018.0 1164.8,1017.3 1165.5,1018.6 1166.3,1018.7 1167.0,1018.0 1167.8,1017.4 1168.5,1017.6 1169.3,1018.7 1170.0,1017.4 1170.8,1017.9 1171.5,1018.5 1172.2,1017.4 1173.0,1018.0 1173.7,1018.7 1174.5,1017.5 1175.2,1018.7 1176.0,1017.4 1176.7,1017.5 1177.5,1018.7 1178.2,1018.2 1179.0,1018.4 1179.7,1018.7 1180.5,1018.2"/></defs>
<use href="#c44k" fill="none" stroke="#231f20" stroke-width="2.95" stroke-linejoin="round"/>
<rect x="1005.75" y="843.65" width="175.50" height="175.20" fill="none" stroke="#231f20" stroke-width="2.7"/>
<path d="M1000.1,1018.6 H1004.9 M1002.4,1011.9 H1004.9 M1002.4,1005.2 H1004.9 M1002.4,998.6 H1004.9 M1002.4,991.9 H1004.9 M1000.1,985.2 H1004.9 M1002.4,978.5 H1004.9 M1002.4,971.8 H1004.9 M1002.4,965.2 H1004.9 M1002.4,958.5 H1004.9 M1000.1,951.8 H1004.9 M1002.4,945.1 H1004.9 M1002.4,938.4 H1004.9 M1002.4,931.8 H1004.9 M1002.4,925.1 H1004.9 M1000.1,918.4 H1004.9 M1002.4,911.7 H1004.9 M1002.4,905.0 H1004.9 M1002.4,898.4 H1004.9 M1002.4,891.7 H1004.9 M1000.1,885.0 H1004.9 M1002.4,878.3 H1004.9 M1002.4,871.6 H1004.9 M1002.4,865.0 H1004.9 M1002.4,858.3 H1004.9 M1000.1,851.6 H1004.9 M1002.4,844.9 H1004.9" stroke="#231f20" stroke-width="2.1" fill="none"/>
<path d="M1006.5,1019.7 V1024.6 M1023.0,1019.7 V1024.6 M1042.3,1019.7 V1024.6 M1084.4,1019.7 V1024.6 M1125.1,1019.7 V1024.6 M1163.7,1019.7 V1024.6 M1014.5,1019.7 V1022.6 M1033.4,1019.7 V1022.6 M1055.0,1019.7 V1022.6 M1062.4,1019.7 V1022.6 M1067.6,1019.7 V1022.6 M1071.7,1019.7 V1022.6 M1075.1,1019.7 V1022.6 M1077.9,1019.7 V1022.6 M1080.3,1019.7 V1022.6 M1082.5,1019.7 V1022.6 M1096.7,1019.7 V1022.6 M1103.8,1019.7 V1022.6 M1108.9,1019.7 V1022.6 M1112.8,1019.7 V1022.6 M1116.1,1019.7 V1022.6 M1118.8,1019.7 V1022.6 M1121.2,1019.7 V1022.6 M1123.2,1019.7 V1022.6 M1136.7,1019.7 V1022.6 M1143.5,1019.7 V1022.6 M1148.3,1019.7 V1022.6 M1152.1,1019.7 V1022.6 M1155.1,1019.7 V1022.6 M1157.7,1019.7 V1022.6 M1160.0,1019.7 V1022.6 M1161.9,1019.7 V1022.6 M1175.3,1019.7 V1022.6" stroke="#231f20" stroke-width="2.1" fill="none"/>
<path d="M1066.4,926.1 H1179.7" stroke="#231f20" stroke-width="2.75" fill="none"/>
<path d="M1066.4,920.7 V931.5 M1179.7,920.7 V931.5" stroke="#231f20" stroke-width="3.0" fill="none"/>
<text transform="translate(1162.30 903.90) scale(1.0 1.04)" x="-67.39" y="0" font-size="35.3" >81.9</text>
<defs><path id="c45g" d="M1195.9,1018.2 1195.9,980.4 1196.6,992.3 1197.3,1005.2 1198.1,1001.1 1198.8,996.9 1199.5,993.0 1200.2,990.4 1201.0,986.6 1201.7,983.8 1202.4,980.5 1203.1,976.0 1203.9,971.8 1204.6,965.4 1205.3,958.5 1206.0,952.2 1206.8,945.9 1207.5,944.2 1208.2,942.0 1209.0,939.2 1209.7,938.3 1210.4,935.6 1211.1,933.0 1211.9,926.1 1212.6,919.9 1213.3,912.8 1214.0,906.4 1214.8,908.0 1215.5,906.3 1216.2,903.6 1216.9,899.2 1217.7,893.6 1218.4,887.3 1219.1,881.9 1219.8,876.8 1220.6,874.7 1221.3,872.8 1222.0,868.0 1222.8,863.8 1223.5,860.5 1224.2,862.5 1224.9,858.0 1225.7,854.9 1226.4,858.1 1227.1,858.9 1227.8,861.0 1228.6,859.7 1229.3,860.9 1230.0,859.8 1230.7,861.0 1231.5,859.2 1232.2,862.9 1233.1,859.2 1233.9,852.8 1234.5,857.5 1235.1,861.9 1235.8,867.4 1236.5,872.8 1237.3,874.1 1238.0,874.1 1238.7,882.1 1239.5,886.0 1240.2,896.3 1240.9,908.7 1241.6,914.3 1242.4,921.2 1243.1,924.9 1243.8,925.8 1244.5,934.7 1245.3,941.6 1246.0,952.1 1246.7,961.6 1247.4,965.6 1248.2,969.2 1248.9,973.0 1249.6,975.9 1250.3,979.6 1251.1,983.9 1251.8,986.6 1252.5,987.6 1253.3,989.8 1254.0,989.4 1254.7,990.7 1255.4,991.7 1256.2,990.3 1256.9,991.1 1257.6,993.3 1258.3,993.6 1259.2,996.2 1260.1,997.5 1260.7,1000.3 1261.3,1001.6 1262.0,1004.9 1262.7,1006.8 1263.4,1008.1 1264.1,1010.3 1264.9,1012.4 1265.6,1013.5 1266.3,1014.2 1267.1,1015.1 1267.8,1016.0 1268.5,1016.9 1269.2,1017.1 1270.0,1017.4 1270.7,1017.6 1271.4,1017.4 1272.1,1018.3 1272.9,1018.3 1273.6,1017.8 1274.4,1017.3 1275.1,1017.4 1275.9,1018.0 1276.6,1018.7 1277.4,1018.7 1278.1,1017.4 1278.9,1017.8 1279.6,1018.5 1280.4,1018.3 1281.1,1017.5 1281.9,1018.6 1282.7,1018.7 1283.4,1018.7 1284.2,1018.1 1284.9,1017.6 1285.7,1018.7 1286.4,1018.4 1287.2,1018.4 1287.9,1017.6 1288.7,1018.1 1289.4,1017.6 1290.2,1018.5 1290.9,1018.0 1291.7,1017.9 1292.4,1017.4 1293.2,1018.7 1293.9,1017.4 1294.7,1018.0 1295.5,1017.4 1296.2,1017.4 1297.0,1018.1 1297.7,1018.7 1298.5,1018.7 1299.2,1017.4 1300.0,1018.6 1300.7,1018.0 1301.5,1018.4 1302.2,1017.9 1303.0,1017.9 1303.7,1018.6 1304.5,1018.1 1305.2,1017.7 1306.0,1017.9 1306.8,1017.9 1307.5,1018.7 1308.3,1017.4 1309.0,1018.7 1309.8,1018.5 1310.5,1018.7 1311.3,1018.2 1312.0,1017.4 1312.8,1017.3 1313.5,1018.2 Z"/></defs>
<use href="#c45g" fill="#dcdddf" stroke="#939598" stroke-width="2.4" stroke-linejoin="round"/>
<clipPath id="c45g0"><rect x="1193.5" y="842.3" width="178.2" height="97.8"/></clipPath>
<use href="#c45g" fill="none" stroke="#939598" stroke-linejoin="round" stroke-width="2.7" clip-path="url(#c45g0)"/>
<clipPath id="c45g1"><rect x="1193.5" y="842.3" width="178.2" height="71.2"/></clipPath>
<use href="#c45g" fill="none" stroke="#939598" stroke-linejoin="round" stroke-width="3.1" clip-path="url(#c45g1)"/>
<clipPath id="c45g2"><rect x="1193.5" y="842.3" width="178.2" height="48.0"/></clipPath>
<use href="#c45g" fill="none" stroke="#939598" stroke-linejoin="round" stroke-width="3.6" clip-path="url(#c45g2)"/>
<clipPath id="c45g3"><rect x="1193.5" y="842.3" width="178.2" height="30.2"/></clipPath>
<use href="#c45g" fill="none" stroke="#939598" stroke-linejoin="round" stroke-width="4.0" clip-path="url(#c45g3)"/>
<defs><path id="c45k" d="M1195.9,1018.2 1196.6,1018.7 1197.4,1018.0 1198.1,1018.7 1198.9,1018.4 1199.6,1017.4 1200.4,1017.9 1201.1,1018.4 1201.9,1018.4 1202.6,1018.0 1203.4,1017.5 1204.1,1017.8 1204.9,1018.6 1205.6,1017.2 1206.4,1018.7 1207.2,1018.7 1207.9,1018.3 1208.7,1018.1 1209.4,1017.6 1210.2,1018.2 1210.9,1017.7 1211.7,1018.4 1212.4,1017.2 1213.2,1018.4 1213.9,1017.3 1214.7,1018.1 1215.4,1018.7 1216.2,1017.8 1216.9,1018.2 1217.7,1017.3 1218.4,1017.7 1219.1,1016.8 1219.8,1016.8 1220.6,1017.5 1221.3,1017.3 1222.0,1016.3 1222.8,1016.3 1223.5,1017.2 1224.2,1015.5 1224.9,1015.9 1225.7,1015.1 1226.4,1015.2 1227.1,1015.3 1227.8,1014.7 1228.6,1015.2 1229.3,1015.7 1230.0,1015.2 1230.7,1013.9 1231.5,1014.2 1232.2,1013.5 1232.9,1012.3 1233.6,1011.1 1234.4,1011.7 1235.1,1009.6 1235.8,1009.8 1236.5,1009.3 1237.3,1008.0 1238.0,1008.1 1238.7,1006.3 1239.5,1006.0 1240.2,1003.9 1240.9,1002.5 1241.6,1003.1 1242.4,1000.6 1243.1,1000.9 1243.8,999.5 1244.5,996.0 1245.3,995.2 1246.0,992.6 1246.7,990.7 1247.4,989.8 1248.2,987.4 1248.9,983.6 1249.6,980.7 1250.3,978.4 1251.1,974.1 1251.8,971.0 1252.5,966.4 1253.3,964.4 1254.0,958.5 1254.7,955.5 1255.4,952.3 1256.2,947.9 1256.9,945.4 1257.6,941.9 1258.3,940.3 1259.1,933.9 1259.8,932.1 1260.5,927.2 1261.2,923.1 1262.0,917.5 1262.7,912.1 1263.4,904.0 1264.1,900.1 1264.9,892.7 1265.6,888.6 1266.3,883.5 1267.1,880.3 1267.8,874.5 1268.5,873.4 1269.2,865.7 1270.0,861.0 1270.7,861.6 1271.4,855.4 1272.1,855.0 1272.9,852.7 1273.6,852.3 1274.3,856.9 1275.0,857.8 1275.8,861.1 1276.5,868.5 1277.2,874.0 1277.9,884.1 1278.7,893.0 1279.4,899.3 1280.1,908.0 1280.8,918.7 1281.6,926.5 1282.3,932.7 1283.0,940.1 1283.8,949.9 1284.5,958.8 1285.2,965.1 1285.9,973.4 1286.7,976.6 1287.4,983.0 1288.1,986.6 1288.8,991.3 1289.6,993.3 1290.3,996.0 1291.0,1000.3 1291.7,1002.5 1292.5,1003.6 1293.2,1006.4 1293.9,1006.3 1294.6,1007.7 1295.4,1009.4 1296.1,1011.9 1296.8,1011.6 1297.6,1012.7 1298.3,1012.2 1299.0,1013.5 1299.7,1013.7 1300.5,1013.5 1301.2,1014.6 1301.9,1014.7 1302.6,1014.7 1303.4,1016.5 1304.1,1016.0 1304.8,1015.6 1305.5,1016.1 1306.3,1017.6 1307.0,1016.5 1307.7,1016.3 1308.4,1016.8 1309.2,1017.6 1309.9,1017.6 1310.6,1017.1 1311.4,1017.6 1312.1,1017.8 1312.8,1017.3 1313.5,1018.7 1314.3,1018.0 1315.0,1018.2 1315.8,1018.6 1316.5,1017.8 1317.3,1018.7 1318.0,1017.7 1318.7,1017.8 1319.5,1018.7 1320.2,1017.3 1321.0,1018.6 1321.7,1018.5 1322.5,1018.5 1323.2,1018.4 1324.0,1018.0 1324.7,1017.9 1325.5,1018.7 1326.2,1018.7 1327.0,1017.7 1327.7,1018.2 1328.4,1018.0 1329.2,1018.5 1329.9,1018.1 1330.7,1018.0 1331.4,1017.7 1332.2,1018.1 1332.9,1017.4 1333.7,1018.7 1334.4,1017.8 1335.2,1018.7 1335.9,1018.4 1336.6,1018.2 1337.4,1017.7 1338.1,1017.4 1338.9,1017.8 1339.6,1018.7 1340.4,1018.7 1341.1,1017.9 1341.9,1018.7 1342.6,1018.7 1343.4,1018.4 1344.1,1017.9 1344.9,1018.1 1345.6,1018.2 1346.3,1018.0 1347.1,1017.5 1347.8,1018.7 1348.6,1018.7 1349.3,1018.7 1350.1,1018.7 1350.8,1018.7 1351.6,1018.0 1352.3,1018.0 1353.1,1017.7 1353.8,1017.9 1354.6,1018.3 1355.3,1017.4 1356.0,1018.2 1356.8,1018.7 1357.5,1017.8 1358.3,1018.7 1359.0,1017.9 1359.8,1017.5 1360.5,1018.7 1361.3,1017.3 1362.0,1017.8 1362.8,1018.7 1363.5,1017.4 1364.2,1017.9 1365.0,1018.6 1365.7,1018.7 1366.5,1017.7 1367.2,1018.0 1368.0,1017.4 1368.7,1018.2"/></defs>
<use href="#c45k" fill="none" stroke="#231f20" stroke-width="2.95" stroke-linejoin="round"/>
<rect x="1194.85" y="843.65" width="175.50" height="175.20" fill="none" stroke="#231f20" stroke-width="2.7"/>
<path d="M1189.2,1018.6 H1194.0 M1191.5,1011.9 H1194.0 M1191.5,1005.2 H1194.0 M1191.5,998.6 H1194.0 M1191.5,991.9 H1194.0 M1189.2,985.2 H1194.0 M1191.5,978.5 H1194.0 M1191.5,971.8 H1194.0 M1191.5,965.2 H1194.0 M1191.5,958.5 H1194.0 M1189.2,951.8 H1194.0 M1191.5,945.1 H1194.0 M1191.5,938.4 H1194.0 M1191.5,931.8 H1194.0 M1191.5,925.1 H1194.0 M1189.2,918.4 H1194.0 M1191.5,911.7 H1194.0 M1191.5,905.0 H1194.0 M1191.5,898.4 H1194.0 M1191.5,891.7 H1194.0 M1189.2,885.0 H1194.0 M1191.5,878.3 H1194.0 M1191.5,871.6 H1194.0 M1191.5,865.0 H1194.0 M1191.5,858.3 H1194.0 M1189.2,851.6 H1194.0 M1191.5,844.9 H1194.0" stroke="#231f20" stroke-width="2.1" fill="none"/>
<path d="M1195.6,1019.7 V1024.6 M1212.1,1019.7 V1024.6 M1231.4,1019.7 V1024.6 M1273.5,1019.7 V1024.6 M1314.2,1019.7 V1024.6 M1352.8,1019.7 V1024.6 M1203.6,1019.7 V1022.6 M1222.5,1019.7 V1022.6 M1244.1,1019.7 V1022.6 M1251.5,1019.7 V1022.6 M1256.7,1019.7 V1022.6 M1260.8,1019.7 V1022.6 M1264.2,1019.7 V1022.6 M1267.0,1019.7 V1022.6 M1269.4,1019.7 V1022.6 M1271.6,1019.7 V1022.6 M1285.8,1019.7 V1022.6 M1292.9,1019.7 V1022.6 M1298.0,1019.7 V1022.6 M1301.9,1019.7 V1022.6 M1305.2,1019.7 V1022.6 M1307.9,1019.7 V1022.6 M1310.3,1019.7 V1022.6 M1312.3,1019.7 V1022.6 M1325.8,1019.7 V1022.6 M1332.6,1019.7 V1022.6 M1337.4,1019.7 V1022.6 M1341.2,1019.7 V1022.6 M1344.2,1019.7 V1022.6 M1346.8,1019.7 V1022.6 M1349.1,1019.7 V1022.6 M1351.0,1019.7 V1022.6 M1364.4,1019.7 V1022.6" stroke="#231f20" stroke-width="2.1" fill="none"/>
<path d="M1254.7,926.1 H1368.7" stroke="#231f20" stroke-width="2.75" fill="none"/>
<path d="M1254.7,920.7 V931.5 M1368.7,920.7 V931.5" stroke="#231f20" stroke-width="3.0" fill="none"/>
<text transform="translate(1353.47 903.90) scale(1.0 1.04)" x="-67.29" y="0" font-size="35.3" >88.2</text>
<defs><path id="c50g" d="M251.6,1210.4 251.6,1190.3 252.3,1186.0 253.1,1180.8 253.8,1175.7 254.5,1172.4 255.3,1168.1 256.0,1162.1 256.7,1159.6 257.4,1155.9 258.2,1151.0 258.9,1148.9 259.6,1144.6 260.3,1139.7 261.1,1134.9 261.8,1132.5 262.5,1126.2 263.2,1121.2 264.0,1117.4 264.7,1112.7 265.4,1105.2 266.1,1101.1 266.9,1091.6 267.6,1085.5 268.3,1077.9 269.0,1070.6 269.8,1071.5 270.5,1067.8 271.2,1068.9 272.0,1062.5 272.7,1054.7 273.4,1048.5 274.1,1046.5 274.9,1042.8 275.6,1045.1 276.3,1045.9 277.0,1046.9 277.8,1050.4 278.5,1050.0 279.2,1054.6 279.9,1050.7 280.7,1046.7 281.4,1043.9 282.1,1049.0 282.8,1054.5 283.6,1056.8 284.3,1061.5 285.0,1065.3 285.8,1071.9 286.5,1079.0 287.2,1081.5 287.9,1086.7 288.7,1094.7 289.4,1100.8 290.1,1105.7 290.8,1108.0 291.6,1115.3 292.3,1122.2 293.0,1130.0 293.7,1139.2 294.5,1147.1 295.2,1155.3 295.9,1162.3 296.6,1168.6 297.4,1175.5 298.1,1179.9 298.8,1184.5 299.5,1187.9 300.3,1192.6 301.0,1195.1 301.7,1197.7 302.5,1198.7 303.2,1201.9 303.9,1204.4 304.6,1206.0 305.4,1208.4 306.1,1207.8 306.8,1209.5 307.5,1210.2 308.3,1209.7 309.0,1209.5 309.7,1210.5 310.4,1210.0 311.2,1210.1 311.9,1209.6 312.7,1209.8 313.4,1210.7 314.2,1210.4 314.9,1210.9 315.7,1209.9 316.4,1210.9 317.2,1210.9 317.9,1210.9 318.7,1210.9 319.4,1210.9 320.2,1209.5 320.9,1210.9 321.7,1210.8 322.4,1210.9 323.2,1210.8 323.9,1209.9 324.7,1210.4 325.4,1209.9 326.2,1210.4 326.9,1210.0 327.7,1210.3 328.4,1209.5 329.2,1210.9 330.0,1210.9 330.7,1209.9 331.5,1210.9 332.2,1210.9 333.0,1210.7 333.7,1210.4 334.5,1210.9 335.2,1209.8 336.0,1210.9 336.7,1209.9 337.5,1210.9 338.2,1210.9 339.0,1209.9 339.7,1210.8 340.5,1209.6 341.2,1210.6 342.0,1210.9 342.7,1209.7 343.5,1210.7 344.2,1210.9 345.0,1210.1 345.7,1210.5 346.5,1210.4 347.2,1210.9 348.0,1210.8 348.7,1210.7 349.5,1210.0 350.2,1210.7 351.0,1209.7 351.7,1210.3 352.5,1210.9 353.2,1210.9 354.0,1210.5 354.7,1210.2 355.5,1210.9 356.2,1210.9 357.0,1210.9 357.7,1209.7 358.5,1209.6 359.2,1209.9 360.0,1210.5 360.8,1210.0 361.5,1210.0 362.3,1209.7 363.0,1210.3 363.8,1210.0 364.5,1210.0 365.3,1209.5 366.0,1210.9 366.8,1210.3 367.5,1210.6 368.3,1209.5 369.0,1210.5 369.8,1210.9 370.5,1209.6 371.3,1210.9 372.0,1209.6 372.8,1210.3 373.5,1210.9 374.3,1210.6 375.0,1210.6 375.8,1210.8 376.5,1210.4 Z"/></defs>
<use href="#c50g" fill="#dcdddf" stroke="#939598" stroke-width="2.4" stroke-linejoin="round"/>
<clipPath id="c50g0"><rect x="248.0" y="1034.2" width="178.2" height="98.0"/></clipPath>
<use href="#c50g" fill="none" stroke="#939598" stroke-linejoin="round" stroke-width="2.7" clip-path="url(#c50g0)"/>
<clipPath id="c50g1"><rect x="248.0" y="1034.2" width="178.2" height="71.3"/></clipPath>
<use href="#c50g" fill="none" stroke="#939598" stroke-linejoin="round" stroke-width="3.1" clip-path="url(#c50g1)"/>
<clipPath id="c50g2"><rect x="248.0" y="1034.2" width="178.2" height="48.1"/></clipPath>
<use href="#c50g" fill="none" stroke="#939598" stroke-linejoin="round" stroke-width="3.6" clip-path="url(#c50g2)"/>
<clipPath id="c50g3"><rect x="248.0" y="1034.2" width="178.2" height="30.3"/></clipPath>
<use href="#c50g" fill="none" stroke="#939598" stroke-linejoin="round" stroke-width="4.0" clip-path="url(#c50g3)"/>
<defs><path id="c50k" d="M251.6,1210.4 251.6,1152.9 252.3,1150.6 253.1,1148.1 253.8,1145.1 254.5,1141.6 255.3,1139.3 256.0,1134.8 256.7,1133.3 257.4,1130.0 258.2,1128.2 258.9,1126.6 259.6,1125.8 260.3,1125.1 261.1,1124.1 261.8,1122.7 262.5,1118.9 263.2,1117.1 264.0,1116.8 264.7,1112.7 265.4,1113.2 266.1,1112.0 266.9,1108.7 267.6,1108.3 268.3,1107.8 269.0,1104.8 269.8,1106.1 270.5,1102.5 271.2,1104.1 272.0,1102.9 272.7,1098.7 273.4,1095.6 274.1,1093.3 274.9,1091.4 275.6,1086.5 276.3,1082.8 277.0,1083.8 277.8,1079.1 278.5,1079.1 279.2,1075.3 279.9,1072.2 280.7,1068.4 281.4,1066.7 282.1,1066.0 282.8,1067.8 283.6,1071.8 284.3,1071.6 285.0,1071.2 285.8,1066.5 286.5,1065.2 287.2,1063.4 287.9,1058.0 288.7,1052.1 289.4,1056.5 290.1,1055.2 290.8,1058.1 291.6,1055.9 292.3,1053.2 293.0,1055.1 293.7,1051.5 294.5,1047.1 295.2,1054.3 295.9,1060.5 296.6,1062.5 297.4,1066.0 298.1,1060.5 298.8,1056.7 299.5,1065.3 300.3,1073.7 301.0,1078.8 301.7,1083.6 302.5,1089.1 303.2,1093.3 303.9,1095.5 304.6,1098.0 305.4,1101.7 306.1,1105.5 306.8,1110.2 307.5,1111.0 308.3,1112.8 309.0,1118.2 309.7,1119.7 310.4,1123.0 311.2,1124.7 311.9,1125.4 312.6,1128.1 313.3,1129.2 314.1,1130.8 314.8,1132.4 315.5,1132.7 316.3,1135.4 317.0,1135.4 317.7,1135.7 318.4,1135.0 319.2,1137.8 319.9,1136.8 320.6,1137.3 321.3,1139.0 322.1,1139.6 322.8,1142.3 323.5,1144.3 324.2,1143.3 325.0,1145.6 325.7,1146.6 326.4,1148.0 327.1,1152.0 327.9,1156.0 328.6,1158.9 329.3,1159.9 330.1,1162.0 330.8,1165.0 331.5,1165.3 332.2,1169.5 333.0,1170.8 333.7,1171.1 334.4,1173.4 335.1,1175.5 335.9,1176.4 336.6,1176.6 337.3,1177.7 338.0,1178.7 338.8,1180.9 339.5,1180.9 340.2,1180.8 340.9,1181.4 341.7,1181.6 342.4,1181.7 343.1,1184.0 343.8,1184.8 344.6,1185.2 345.3,1185.7 346.0,1187.1 346.8,1185.7 347.5,1186.8 348.2,1187.9 348.9,1188.6 349.7,1189.9 350.4,1189.0 351.1,1188.5 351.8,1189.9 352.6,1190.1 353.3,1190.8 354.0,1191.3 354.7,1192.3 355.5,1191.8 356.2,1192.5 356.9,1191.6 357.6,1192.6 358.4,1193.0 359.1,1194.4 359.8,1196.0 360.6,1196.8 361.3,1195.2 362.0,1195.8 362.7,1197.5 363.5,1196.9 364.2,1199.9 364.9,1201.4 365.6,1202.0 366.4,1201.3 367.1,1202.7 367.8,1204.6 368.5,1205.0 369.3,1204.5 370.0,1206.4 370.7,1207.2 371.4,1206.5 372.2,1207.9 372.9,1208.7 373.6,1207.7 374.4,1207.8 375.1,1209.2 375.8,1209.9 376.5,1210.0 377.3,1210.4 378.0,1209.2 378.7,1209.9 379.4,1210.1 380.2,1210.3 380.9,1210.4 381.6,1209.7 382.3,1210.6 383.1,1209.4 383.8,1209.6 384.5,1209.8 385.2,1209.7 386.0,1210.9 386.8,1209.6 387.5,1209.6 388.3,1210.0 389.0,1210.6 389.8,1209.7 390.5,1209.6 391.3,1210.8 392.0,1209.9 392.8,1210.9 393.5,1210.1 394.3,1209.7 395.0,1210.9 395.8,1210.1 396.6,1210.5 397.3,1210.3 398.1,1209.5 398.8,1210.9 399.6,1210.1 400.3,1209.6 401.1,1210.3 401.8,1209.9 402.6,1210.6 403.3,1210.2 404.1,1210.9 404.9,1210.6 405.6,1210.9 406.4,1210.0 407.1,1210.2 407.9,1209.8 408.6,1210.9 409.4,1209.8 410.1,1210.7 410.9,1210.4 411.6,1210.9 412.4,1210.9 413.1,1209.9 413.9,1210.2 414.7,1210.5 415.4,1210.9 416.2,1210.9 416.9,1209.9 417.7,1210.7 418.4,1210.7 419.2,1210.7 419.9,1210.9 420.7,1209.6 421.4,1210.9 422.2,1209.8 423.0,1209.8 423.7,1210.9 424.5,1210.4"/></defs>
<use href="#c50k" fill="none" stroke="#231f20" stroke-width="2.95" stroke-linejoin="round"/>
<clipPath id="c50k0"><rect x="248.0" y="1034.2" width="178.2" height="67.7"/></clipPath>
<use href="#c50k" fill="none" stroke="#231f20" stroke-linejoin="round" stroke-width="3.3" clip-path="url(#c50k0)"/>
<clipPath id="c50k1"><rect x="248.0" y="1034.2" width="178.2" height="46.3"/></clipPath>
<use href="#c50k" fill="none" stroke="#231f20" stroke-linejoin="round" stroke-width="3.9" clip-path="url(#c50k1)"/>
<clipPath id="c50k2"><rect x="248.0" y="1034.2" width="178.2" height="28.5"/></clipPath>
<use href="#c50k" fill="none" stroke="#231f20" stroke-linejoin="round" stroke-width="4.5" clip-path="url(#c50k2)"/>
<rect x="249.35" y="1035.55" width="175.50" height="175.50" fill="none" stroke="#231f20" stroke-width="2.7"/>
<path d="M243.7,1210.8 H248.5 M246.0,1204.1 H248.5 M246.0,1197.4 H248.5 M246.0,1190.8 H248.5 M246.0,1184.1 H248.5 M243.7,1177.4 H248.5 M246.0,1170.7 H248.5 M246.0,1164.0 H248.5 M246.0,1157.4 H248.5 M246.0,1150.7 H248.5 M243.7,1144.0 H248.5 M246.0,1137.3 H248.5 M246.0,1130.6 H248.5 M246.0,1124.0 H248.5 M246.0,1117.3 H248.5 M243.7,1110.6 H248.5 M246.0,1103.9 H248.5 M246.0,1097.2 H248.5 M246.0,1090.6 H248.5 M246.0,1083.9 H248.5 M243.7,1077.2 H248.5 M246.0,1070.5 H248.5 M246.0,1063.8 H248.5 M246.0,1057.2 H248.5 M246.0,1050.5 H248.5 M243.7,1043.8 H248.5 M246.0,1037.1 H248.5" stroke="#231f20" stroke-width="2.1" fill="none"/>
<path d="M250.1,1211.9 V1216.8 M266.6,1211.9 V1216.8 M285.9,1211.9 V1216.8 M328.0,1211.9 V1216.8 M368.7,1211.9 V1216.8 M407.3,1211.9 V1216.8 M258.1,1211.9 V1214.8 M277.0,1211.9 V1214.8 M298.6,1211.9 V1214.8 M306.0,1211.9 V1214.8 M311.2,1211.9 V1214.8 M315.3,1211.9 V1214.8 M318.7,1211.9 V1214.8 M321.5,1211.9 V1214.8 M323.9,1211.9 V1214.8 M326.1,1211.9 V1214.8 M340.3,1211.9 V1214.8 M347.4,1211.9 V1214.8 M352.5,1211.9 V1214.8 M356.4,1211.9 V1214.8 M359.7,1211.9 V1214.8 M362.4,1211.9 V1214.8 M364.8,1211.9 V1214.8 M366.8,1211.9 V1214.8 M380.3,1211.9 V1214.8 M387.1,1211.9 V1214.8 M391.9,1211.9 V1214.8 M395.7,1211.9 V1214.8 M398.7,1211.9 V1214.8 M401.3,1211.9 V1214.8 M403.6,1211.9 V1214.8 M405.5,1211.9 V1214.8 M418.9,1211.9 V1214.8" stroke="#231f20" stroke-width="2.1" fill="none"/>
<path d="M311.2,1117.7 H423.7" stroke="#231f20" stroke-width="2.75" fill="none"/>
<path d="M311.2,1112.3 V1123.1 M423.7,1112.3 V1123.1" stroke="#231f20" stroke-width="3.0" fill="none"/>
<text transform="translate(410.66 1096.62) scale(1.0 1.04)" x="-67.26" y="0" font-size="35.3" >26.0</text>
<defs><path id="c51g" d="M440.6,1210.4 440.6,1198.6 441.3,1193.8 442.1,1189.6 442.8,1185.1 443.5,1181.9 444.3,1179.8 445.0,1176.6 445.7,1174.4 446.4,1171.1 447.2,1167.1 447.9,1164.8 448.6,1160.6 449.3,1157.4 450.1,1153.3 450.8,1150.0 451.5,1142.3 452.2,1136.1 453.0,1129.0 453.7,1123.4 454.4,1118.8 455.1,1114.4 455.9,1110.6 456.6,1106.9 457.3,1101.8 458.0,1097.7 458.8,1091.5 459.5,1081.5 460.2,1075.8 461.0,1071.9 461.7,1069.8 462.4,1068.5 463.1,1064.9 463.9,1063.7 464.6,1057.0 465.3,1055.9 466.0,1057.2 466.8,1053.0 467.5,1054.1 468.2,1053.2 468.9,1047.4 469.7,1044.4 470.4,1045.5 471.1,1042.8 471.8,1046.2 472.6,1048.9 473.3,1054.3 474.0,1057.0 474.8,1063.0 475.5,1069.7 476.2,1072.0 476.9,1077.6 477.7,1080.9 478.4,1084.3 479.1,1090.5 479.8,1096.2 480.6,1102.0 481.3,1104.0 482.0,1110.0 482.7,1118.4 483.5,1125.4 484.2,1136.1 484.9,1148.7 485.6,1156.4 486.4,1162.4 487.1,1170.1 487.8,1177.9 488.5,1183.4 489.3,1187.5 490.0,1193.0 490.7,1196.9 491.5,1199.3 492.2,1203.1 492.9,1205.9 493.6,1206.1 494.4,1207.8 495.1,1209.2 495.8,1210.1 496.5,1210.2 497.3,1209.3 498.0,1210.4 498.7,1210.9 499.5,1209.8 500.2,1210.9 501.0,1210.9 501.7,1210.7 502.5,1210.9 503.2,1210.3 504.0,1210.2 504.7,1210.0 505.5,1209.8 506.2,1210.6 507.0,1210.1 507.7,1210.3 508.5,1210.0 509.2,1210.1 510.0,1210.1 510.7,1209.8 511.5,1210.2 512.2,1210.1 513.0,1210.6 513.7,1210.8 514.5,1210.7 515.2,1210.1 516.0,1210.3 516.7,1210.8 517.5,1210.4 518.2,1210.5 519.0,1210.9 519.7,1209.6 520.5,1209.9 521.2,1210.0 522.0,1210.5 522.7,1209.9 523.5,1210.9 524.2,1210.5 525.0,1210.3 525.7,1209.6 526.5,1209.5 527.2,1209.8 528.0,1210.9 528.7,1210.2 529.5,1210.9 530.2,1210.4 531.0,1210.6 531.7,1210.8 532.5,1210.9 533.2,1210.3 534.0,1210.8 534.8,1210.6 535.5,1210.1 536.3,1209.5 537.0,1210.4 537.8,1209.9 538.5,1210.6 539.3,1210.5 540.0,1209.7 540.8,1210.9 541.5,1209.9 542.3,1209.5 543.0,1210.1 543.8,1210.1 544.5,1210.6 545.3,1210.9 546.0,1209.8 546.8,1210.0 547.5,1210.9 548.3,1210.9 549.0,1210.0 549.8,1210.1 550.5,1210.8 551.3,1210.0 552.0,1210.0 552.8,1209.9 553.5,1210.9 554.3,1210.7 555.0,1210.3 555.8,1209.8 556.5,1210.1 557.3,1210.8 558.0,1209.5 558.8,1210.6 559.5,1210.4 560.3,1209.9 561.0,1210.5 561.8,1210.7 562.5,1210.9 563.3,1210.9 564.0,1210.8 564.8,1210.7 565.5,1210.4 Z"/></defs>
<use href="#c51g" fill="#dcdddf" stroke="#939598" stroke-width="2.4" stroke-linejoin="round"/>
<clipPath id="c51g0"><rect x="437.1" y="1034.2" width="178.2" height="98.0"/></clipPath>
<use href="#c51g" fill="none" stroke="#939598" stroke-linejoin="round" stroke-width="2.7" clip-path="url(#c51g0)"/>
<clipPath id="c51g1"><rect x="437.1" y="1034.2" width="178.2" height="71.3"/></clipPath>
<use href="#c51g" fill="none" stroke="#939598" stroke-linejoin="round" stroke-width="3.1" clip-path="url(#c51g1)"/>
<clipPath id="c51g2"><rect x="437.1" y="1034.2" width="178.2" height="48.1"/></clipPath>
<use href="#c51g" fill="none" stroke="#939598" stroke-linejoin="round" stroke-width="3.6" clip-path="url(#c51g2)"/>
<clipPath id="c51g3"><rect x="437.1" y="1034.2" width="178.2" height="30.3"/></clipPath>
<use href="#c51g" fill="none" stroke="#939598" stroke-linejoin="round" stroke-width="4.0" clip-path="url(#c51g3)"/>
<defs><path id="c51k" d="M440.6,1210.4 440.6,1144.4 441.3,1144.9 442.1,1143.8 442.8,1142.6 443.5,1143.5 444.3,1141.7 445.0,1143.4 445.7,1139.4 446.4,1132.3 447.2,1129.3 447.9,1126.1 448.6,1125.2 449.3,1125.7 450.1,1125.3 450.8,1124.8 451.5,1123.1 452.2,1121.0 453.0,1120.0 453.7,1117.4 454.4,1112.9 455.1,1111.1 455.9,1108.7 456.6,1107.6 457.3,1101.7 458.0,1102.0 458.8,1101.4 459.5,1098.4 460.2,1098.7 461.0,1094.0 461.7,1093.3 462.4,1093.8 463.1,1087.2 463.9,1084.1 464.6,1084.5 465.3,1088.8 466.0,1086.4 466.8,1082.2 467.5,1076.1 468.2,1073.8 468.9,1070.4 469.7,1067.6 470.4,1065.9 471.1,1065.8 471.8,1065.7 472.6,1064.5 473.3,1066.4 474.0,1069.5 474.8,1067.1 475.5,1064.5 476.2,1061.1 476.9,1060.7 477.7,1051.8 478.4,1046.8 479.1,1047.5 479.8,1054.4 480.6,1055.6 481.3,1055.7 482.0,1051.8 482.7,1052.1 483.5,1057.3 484.2,1061.3 484.9,1065.7 485.6,1067.9 486.4,1062.9 487.1,1057.1 487.8,1064.9 488.5,1075.0 489.3,1077.5 490.0,1079.9 490.7,1083.5 491.5,1083.8 492.2,1091.5 492.9,1095.4 493.6,1099.7 494.4,1102.5 495.1,1106.1 495.8,1107.4 496.5,1113.3 497.3,1113.6 498.0,1116.7 498.7,1120.5 499.4,1122.5 500.2,1125.5 500.9,1123.8 501.6,1127.7 502.3,1128.7 503.1,1130.0 503.8,1132.4 504.5,1136.6 505.3,1134.7 506.0,1134.0 506.7,1133.3 507.4,1136.2 508.2,1134.2 508.9,1137.1 509.6,1137.4 510.3,1138.8 511.1,1140.2 511.8,1144.1 512.5,1146.0 513.2,1147.2 514.0,1149.3 514.7,1150.3 515.4,1153.9 516.1,1154.3 516.9,1154.6 517.6,1157.5 518.3,1156.7 519.1,1159.6 519.8,1161.0 520.5,1165.5 521.2,1167.7 522.0,1170.2 522.7,1170.8 523.4,1174.2 524.1,1173.5 524.9,1174.4 525.6,1175.1 526.3,1176.3 527.0,1176.0 527.8,1177.6 528.5,1178.8 529.2,1180.7 529.9,1181.1 530.7,1182.2 531.4,1181.2 532.1,1183.5 532.8,1184.0 533.6,1183.3 534.3,1184.2 535.0,1184.7 535.8,1186.1 536.5,1187.0 537.2,1186.8 537.9,1187.4 538.7,1188.1 539.4,1188.9 540.1,1189.3 540.8,1189.3 541.6,1190.7 542.3,1189.5 543.0,1190.7 543.7,1189.7 544.5,1190.5 545.2,1190.8 545.9,1193.0 546.6,1193.0 547.4,1192.5 548.1,1193.7 548.8,1194.3 549.6,1195.5 550.3,1195.8 551.0,1196.3 551.7,1197.5 552.5,1199.3 553.2,1199.2 553.9,1202.0 554.6,1201.8 555.4,1202.6 556.1,1203.3 556.8,1203.5 557.5,1205.2 558.3,1205.4 559.0,1206.7 559.7,1207.0 560.4,1207.2 561.2,1208.2 561.9,1208.3 562.6,1209.1 563.4,1209.2 564.1,1209.7 564.8,1209.4 565.5,1210.1 566.3,1210.1 567.0,1209.6 567.7,1210.9 568.5,1209.8 569.2,1210.9 570.0,1210.9 570.7,1209.9 571.5,1209.7 572.2,1210.9 573.0,1210.0 573.7,1210.9 574.5,1209.7 575.2,1210.8 576.0,1210.6 576.7,1210.7 577.5,1210.0 578.2,1210.8 579.0,1209.9 579.7,1210.2 580.5,1210.9 581.2,1210.8 582.0,1210.9 582.7,1210.7 583.5,1210.1 584.2,1210.9 585.0,1209.8 585.7,1210.4 586.5,1209.8 587.2,1210.9 588.0,1209.7 588.7,1210.1 589.5,1210.6 590.2,1209.7 591.0,1209.9 591.7,1209.9 592.5,1210.9 593.2,1210.2 594.0,1209.7 594.7,1210.4 595.5,1210.8 596.2,1209.8 597.0,1210.0 597.7,1210.5 598.5,1210.9 599.2,1210.9 600.0,1210.9 600.7,1210.3 601.5,1210.4 602.2,1210.9 603.0,1209.9 603.7,1210.5 604.5,1210.8 605.2,1210.0 606.0,1210.0 606.7,1209.6 607.5,1209.6 608.2,1209.7 609.0,1210.9 609.7,1210.7 610.5,1210.5 611.2,1209.8 612.0,1209.8 612.7,1210.9 613.5,1210.4"/></defs>
<use href="#c51k" fill="none" stroke="#231f20" stroke-width="2.95" stroke-linejoin="round"/>
<clipPath id="c51k0"><rect x="437.1" y="1034.2" width="178.2" height="67.7"/></clipPath>
<use href="#c51k" fill="none" stroke="#231f20" stroke-linejoin="round" stroke-width="3.3" clip-path="url(#c51k0)"/>
<clipPath id="c51k1"><rect x="437.1" y="1034.2" width="178.2" height="46.3"/></clipPath>
<use href="#c51k" fill="none" stroke="#231f20" stroke-linejoin="round" stroke-width="3.9" clip-path="url(#c51k1)"/>
<clipPath id="c51k2"><rect x="437.1" y="1034.2" width="178.2" height="28.5"/></clipPath>
<use href="#c51k" fill="none" stroke="#231f20" stroke-linejoin="round" stroke-width="4.5" clip-path="url(#c51k2)"/>
<rect x="438.45" y="1035.55" width="175.50" height="175.50" fill="none" stroke="#231f20" stroke-width="2.7"/>
<path d="M432.8,1210.8 H437.6 M435.1,1204.1 H437.6 M435.1,1197.4 H437.6 M435.1,1190.8 H437.6 M435.1,1184.1 H437.6 M432.8,1177.4 H437.6 M435.1,1170.7 H437.6 M435.1,1164.0 H437.6 M435.1,1157.4 H437.6 M435.1,1150.7 H437.6 M432.8,1144.0 H437.6 M435.1,1137.3 H437.6 M435.1,1130.6 H437.6 M435.1,1124.0 H437.6 M435.1,1117.3 H437.6 M432.8,1110.6 H437.6 M435.1,1103.9 H437.6 M435.1,1097.2 H437.6 M435.1,1090.6 H437.6 M435.1,1083.9 H437.6 M432.8,1077.2 H437.6 M435.1,1070.5 H437.6 M435.1,1063.8 H437.6 M435.1,1057.2 H437.6 M435.1,1050.5 H437.6 M432.8,1043.8 H437.6 M435.1,1037.1 H437.6" stroke="#231f20" stroke-width="2.1" fill="none"/>
<path d="M439.2,1211.9 V1216.8 M455.7,1211.9 V1216.8 M475.0,1211.9 V1216.8 M517.1,1211.9 V1216.8 M557.8,1211.9 V1216.8 M596.4,1211.9 V1216.8 M447.2,1211.9 V1214.8 M466.1,1211.9 V1214.8 M487.7,1211.9 V1214.8 M495.1,1211.9 V1214.8 M500.3,1211.9 V1214.8 M504.4,1211.9 V1214.8 M507.8,1211.9 V1214.8 M510.6,1211.9 V1214.8 M513.0,1211.9 V1214.8 M515.2,1211.9 V1214.8 M529.4,1211.9 V1214.8 M536.5,1211.9 V1214.8 M541.6,1211.9 V1214.8 M545.5,1211.9 V1214.8 M548.8,1211.9 V1214.8 M551.5,1211.9 V1214.8 M553.9,1211.9 V1214.8 M555.9,1211.9 V1214.8 M569.4,1211.9 V1214.8 M576.2,1211.9 V1214.8 M581.0,1211.9 V1214.8 M584.8,1211.9 V1214.8 M587.8,1211.9 V1214.8 M590.4,1211.9 V1214.8 M592.7,1211.9 V1214.8 M594.6,1211.9 V1214.8 M608.0,1211.9 V1214.8" stroke="#231f20" stroke-width="2.1" fill="none"/>
<path d="M500.2,1117.7 H612.7" stroke="#231f20" stroke-width="2.75" fill="none"/>
<path d="M500.2,1112.3 V1123.1 M612.7,1112.3 V1123.1" stroke="#231f20" stroke-width="3.0" fill="none"/>
<text transform="translate(596.03 1096.62) scale(1.0 1.04)" x="-67.29" y="0" font-size="35.3" >25.2</text>
<defs><path id="c52g" d="M629.6,1210.4 629.6,1191.5 630.3,1186.0 631.1,1180.1 631.8,1175.2 632.5,1171.5 633.3,1166.7 634.0,1162.8 634.7,1158.9 635.4,1155.3 636.2,1152.1 636.9,1147.2 637.6,1145.0 638.3,1141.0 639.1,1135.9 639.8,1130.9 640.5,1127.3 641.2,1121.0 642.0,1115.4 642.7,1112.3 643.4,1105.6 644.1,1098.7 644.9,1093.8 645.6,1083.5 646.3,1078.0 647.0,1072.0 647.8,1070.3 648.5,1068.0 649.2,1069.4 650.0,1061.0 650.7,1051.8 651.4,1049.7 652.1,1045.5 652.9,1043.8 653.6,1044.8 654.3,1046.8 655.0,1045.2 655.8,1047.9 656.5,1052.8 657.2,1051.9 657.9,1049.5 658.7,1048.2 659.4,1043.1 660.1,1048.2 660.8,1054.8 661.6,1055.0 662.3,1060.1 663.0,1066.3 663.8,1071.3 664.5,1076.4 665.2,1082.0 665.9,1088.9 666.7,1093.8 667.4,1098.5 668.1,1102.8 668.8,1109.5 669.6,1114.5 670.3,1122.5 671.0,1128.0 671.7,1137.4 672.5,1149.5 673.2,1155.4 673.9,1162.3 674.6,1168.5 675.4,1175.6 676.1,1179.3 676.8,1185.8 677.5,1189.3 678.3,1192.8 679.0,1195.1 679.7,1196.3 680.5,1199.9 681.2,1201.3 681.9,1204.0 682.6,1206.8 683.4,1207.3 684.1,1209.5 684.8,1210.1 685.5,1209.5 686.3,1209.9 687.0,1209.7 687.7,1210.3 688.4,1210.9 689.2,1209.9 689.9,1210.9 690.7,1210.6 691.4,1210.8 692.2,1210.9 692.9,1210.3 693.7,1210.9 694.4,1210.6 695.2,1210.6 695.9,1210.8 696.7,1210.6 697.4,1210.5 698.2,1210.5 698.9,1210.6 699.7,1210.9 700.4,1210.6 701.2,1210.4 701.9,1210.7 702.7,1209.8 703.4,1210.6 704.2,1210.6 704.9,1210.4 705.7,1210.0 706.4,1210.9 707.2,1210.9 708.0,1210.9 708.7,1210.9 709.5,1209.6 710.2,1210.1 711.0,1210.9 711.7,1210.4 712.5,1210.9 713.2,1210.9 714.0,1210.4 714.7,1210.1 715.5,1209.8 716.2,1209.6 717.0,1209.7 717.7,1210.8 718.5,1210.9 719.2,1210.2 720.0,1210.3 720.7,1210.4 721.5,1210.7 722.2,1209.6 723.0,1210.8 723.7,1210.1 724.5,1210.2 725.2,1210.2 726.0,1209.6 726.7,1210.4 727.5,1210.9 728.2,1210.7 729.0,1209.7 729.7,1210.5 730.5,1210.2 731.2,1209.9 732.0,1210.9 732.7,1209.8 733.5,1210.7 734.2,1210.9 735.0,1209.6 735.7,1210.9 736.5,1209.5 737.2,1209.9 738.0,1210.9 738.8,1209.9 739.5,1210.8 740.3,1209.9 741.0,1210.7 741.8,1210.9 742.5,1210.8 743.3,1209.6 744.0,1210.9 744.8,1210.9 745.5,1210.8 746.3,1210.7 747.0,1210.4 747.8,1210.9 748.5,1210.2 749.3,1210.5 750.0,1210.9 750.8,1210.6 751.5,1210.6 752.3,1210.3 753.0,1210.1 753.8,1209.5 754.5,1210.4 Z"/></defs>
<use href="#c52g" fill="#dcdddf" stroke="#939598" stroke-width="2.4" stroke-linejoin="round"/>
<clipPath id="c52g0"><rect x="626.2" y="1034.2" width="178.2" height="98.0"/></clipPath>
<use href="#c52g" fill="none" stroke="#939598" stroke-linejoin="round" stroke-width="2.7" clip-path="url(#c52g0)"/>
<clipPath id="c52g1"><rect x="626.2" y="1034.2" width="178.2" height="71.3"/></clipPath>
<use href="#c52g" fill="none" stroke="#939598" stroke-linejoin="round" stroke-width="3.1" clip-path="url(#c52g1)"/>
<clipPath id="c52g2"><rect x="626.2" y="1034.2" width="178.2" height="48.1"/></clipPath>
<use href="#c52g" fill="none" stroke="#939598" stroke-linejoin="round" stroke-width="3.6" clip-path="url(#c52g2)"/>
<clipPath id="c52g3"><rect x="626.2" y="1034.2" width="178.2" height="30.3"/></clipPath>
<use href="#c52g" fill="none" stroke="#939598" stroke-linejoin="round" stroke-width="4.0" clip-path="url(#c52g3)"/>
<defs><path id="c52k" d="M629.6,1210.4 629.6,1139.4 630.3,1134.5 631.1,1131.8 631.8,1129.3 632.5,1124.6 633.3,1122.3 634.0,1121.6 634.7,1117.5 635.4,1115.5 636.2,1110.3 636.9,1110.3 637.6,1110.1 638.3,1107.9 639.1,1106.8 639.8,1102.4 640.5,1101.8 641.2,1098.2 642.0,1096.7 642.7,1092.9 643.4,1090.6 644.1,1090.5 644.9,1090.2 645.6,1087.1 646.3,1084.0 647.0,1084.6 647.8,1082.4 648.5,1078.3 649.2,1077.6 650.0,1077.2 650.7,1072.5 651.4,1071.5 652.1,1072.6 652.9,1067.6 653.6,1067.7 654.3,1070.4 655.0,1070.1 655.8,1068.3 656.5,1061.3 657.2,1059.2 657.9,1053.4 658.7,1049.8 659.4,1048.3 660.1,1050.8 660.8,1053.0 661.6,1054.9 662.3,1059.1 663.0,1056.8 663.8,1053.2 664.5,1055.1 665.2,1057.3 665.9,1052.8 666.7,1050.6 667.4,1046.4 668.1,1044.2 668.8,1052.1 669.6,1062.5 670.3,1057.0 671.0,1057.5 671.7,1062.2 672.5,1065.5 673.2,1069.7 673.9,1077.2 674.6,1080.6 675.4,1083.3 676.1,1087.8 676.8,1094.2 677.5,1100.9 678.3,1110.0 679.0,1116.1 679.7,1122.5 680.5,1131.1 681.2,1139.5 681.9,1148.2 682.6,1154.6 683.4,1160.8 684.1,1166.4 684.8,1169.8 685.5,1172.7 686.3,1179.4 687.0,1184.0 687.7,1188.1 688.4,1190.9 689.2,1193.6 689.9,1194.0 690.6,1195.1 691.3,1196.5 692.1,1197.8 692.8,1198.5 693.5,1198.2 694.3,1199.4 695.0,1199.8 695.7,1200.1 696.4,1200.1 697.2,1201.2 697.9,1201.4 698.6,1201.2 699.3,1199.9 700.1,1200.3 700.8,1201.3 701.5,1199.8 702.2,1200.8 703.0,1199.7 703.7,1199.3 704.4,1198.6 705.1,1198.5 705.9,1198.1 706.6,1198.3 707.3,1198.5 708.1,1197.3 708.8,1198.7 709.5,1198.0 710.2,1198.3 711.0,1198.3 711.7,1197.1 712.4,1197.9 713.1,1197.2 713.9,1196.9 714.6,1195.5 715.3,1197.1 716.0,1195.8 716.8,1194.5 717.5,1196.1 718.2,1196.2 718.9,1195.9 719.7,1194.9 720.4,1195.3 721.1,1194.2 721.8,1195.2 722.6,1195.9 723.3,1194.8 724.0,1196.4 724.8,1196.0 725.5,1196.2 726.2,1195.6 726.9,1197.3 727.7,1196.9 728.4,1196.6 729.1,1196.4 729.8,1197.8 730.6,1197.9 731.3,1198.4 732.0,1197.3 732.7,1198.5 733.5,1198.0 734.2,1198.4 734.9,1197.9 735.6,1199.4 736.4,1199.8 737.1,1199.9 737.8,1199.7 738.6,1201.8 739.3,1200.5 740.0,1201.5 740.7,1202.8 741.5,1203.7 742.2,1204.8 742.9,1205.5 743.6,1207.2 744.4,1207.7 745.1,1208.2 745.8,1207.4 746.5,1209.0 747.3,1208.7 748.0,1209.2 748.7,1208.6 749.4,1209.6 750.2,1210.6 750.9,1210.9 751.6,1210.7 752.4,1210.8 753.1,1210.1 753.9,1210.4 754.6,1209.8 755.4,1210.9 756.1,1210.4 756.9,1210.4 757.6,1210.6 758.4,1210.1 759.1,1210.4 759.9,1209.9 760.6,1210.9 761.4,1210.9 762.1,1210.9 762.9,1209.8 763.6,1209.6 764.3,1209.7 765.1,1209.8 765.8,1210.4 766.6,1210.1 767.3,1210.3 768.1,1210.7 768.8,1210.4 769.6,1210.8 770.3,1210.9 771.1,1210.4 771.8,1210.7 772.6,1209.9 773.3,1210.5 774.1,1209.7 774.8,1209.7 775.6,1210.7 776.3,1209.8 777.1,1210.7 777.8,1210.9 778.5,1210.6 779.3,1209.6 780.0,1209.7 780.8,1210.8 781.5,1210.0 782.3,1210.9 783.0,1210.9 783.8,1210.8 784.5,1210.1 785.3,1209.8 786.0,1210.8 786.8,1210.8 787.5,1210.6 788.3,1210.1 789.0,1209.9 789.8,1209.8 790.5,1210.7 791.2,1210.4 792.0,1210.2 792.7,1210.9 793.5,1210.9 794.2,1210.9 795.0,1210.0 795.7,1210.1 796.5,1210.9 797.2,1209.7 798.0,1210.6 798.7,1209.8 799.5,1209.8 800.2,1210.5 801.0,1210.8 801.7,1210.5 802.5,1210.4"/></defs>
<use href="#c52k" fill="none" stroke="#231f20" stroke-width="2.95" stroke-linejoin="round"/>
<clipPath id="c52k0"><rect x="626.2" y="1034.2" width="178.2" height="67.7"/></clipPath>
<use href="#c52k" fill="none" stroke="#231f20" stroke-linejoin="round" stroke-width="3.3" clip-path="url(#c52k0)"/>
<clipPath id="c52k1"><rect x="626.2" y="1034.2" width="178.2" height="46.3"/></clipPath>
<use href="#c52k" fill="none" stroke="#231f20" stroke-linejoin="round" stroke-width="3.9" clip-path="url(#c52k1)"/>
<clipPath id="c52k2"><rect x="626.2" y="1034.2" width="178.2" height="28.5"/></clipPath>
<use href="#c52k" fill="none" stroke="#231f20" stroke-linejoin="round" stroke-width="4.5" clip-path="url(#c52k2)"/>
<rect x="627.55" y="1035.55" width="175.50" height="175.50" fill="none" stroke="#231f20" stroke-width="2.7"/>
<path d="M621.9,1210.8 H626.7 M624.2,1204.1 H626.7 M624.2,1197.4 H626.7 M624.2,1190.8 H626.7 M624.2,1184.1 H626.7 M621.9,1177.4 H626.7 M624.2,1170.7 H626.7 M624.2,1164.0 H626.7 M624.2,1157.4 H626.7 M624.2,1150.7 H626.7 M621.9,1144.0 H626.7 M624.2,1137.3 H626.7 M624.2,1130.6 H626.7 M624.2,1124.0 H626.7 M624.2,1117.3 H626.7 M621.9,1110.6 H626.7 M624.2,1103.9 H626.7 M624.2,1097.2 H626.7 M624.2,1090.6 H626.7 M624.2,1083.9 H626.7 M621.9,1077.2 H626.7 M624.2,1070.5 H626.7 M624.2,1063.8 H626.7 M624.2,1057.2 H626.7 M624.2,1050.5 H626.7 M621.9,1043.8 H626.7 M624.2,1037.1 H626.7" stroke="#231f20" stroke-width="2.1" fill="none"/>
<path d="M628.3,1211.9 V1216.8 M644.8,1211.9 V1216.8 M664.1,1211.9 V1216.8 M706.2,1211.9 V1216.8 M746.9,1211.9 V1216.8 M785.5,1211.9 V1216.8 M636.3,1211.9 V1214.8 M655.2,1211.9 V1214.8 M676.8,1211.9 V1214.8 M684.2,1211.9 V1214.8 M689.4,1211.9 V1214.8 M693.5,1211.9 V1214.8 M696.9,1211.9 V1214.8 M699.7,1211.9 V1214.8 M702.1,1211.9 V1214.8 M704.3,1211.9 V1214.8 M718.5,1211.9 V1214.8 M725.6,1211.9 V1214.8 M730.7,1211.9 V1214.8 M734.6,1211.9 V1214.8 M737.9,1211.9 V1214.8 M740.6,1211.9 V1214.8 M743.0,1211.9 V1214.8 M745.0,1211.9 V1214.8 M758.5,1211.9 V1214.8 M765.3,1211.9 V1214.8 M770.1,1211.9 V1214.8 M773.9,1211.9 V1214.8 M776.9,1211.9 V1214.8 M779.5,1211.9 V1214.8 M781.8,1211.9 V1214.8 M783.7,1211.9 V1214.8 M797.1,1211.9 V1214.8" stroke="#231f20" stroke-width="2.1" fill="none"/>
<path d="M687.7,1117.7 H801.7" stroke="#231f20" stroke-width="2.75" fill="none"/>
<path d="M687.7,1112.3 V1123.1 M801.7,1112.3 V1123.1" stroke="#231f20" stroke-width="3.0" fill="none"/>
<text transform="translate(780.85 1096.62) scale(1.0 1.04)" x="-68.70" y="0" font-size="35.3" >9.51</text>
<defs><path id="c53g" d="M818.6,1210.4 818.6,1199.9 819.3,1194.3 820.1,1190.0 820.8,1184.5 821.5,1182.8 822.3,1179.6 823.0,1177.3 823.7,1173.4 824.4,1169.2 825.2,1166.4 825.9,1164.3 826.6,1160.7 827.3,1156.5 828.1,1154.0 828.8,1149.3 829.5,1143.6 830.2,1133.8 831.0,1130.2 831.7,1123.7 832.4,1120.3 833.1,1116.1 833.9,1112.2 834.6,1106.8 835.3,1102.1 836.0,1096.5 836.8,1090.0 837.5,1082.4 838.2,1078.0 839.0,1071.1 839.7,1068.2 840.4,1066.7 841.1,1063.2 841.9,1060.4 842.6,1057.7 843.3,1055.1 844.0,1054.7 844.8,1053.6 845.5,1056.6 846.2,1051.2 846.9,1048.5 847.7,1044.8 848.4,1044.8 849.1,1042.9 849.8,1045.6 850.6,1049.1 851.3,1055.0 852.0,1058.0 852.8,1065.7 853.5,1066.5 854.2,1071.4 854.9,1076.8 855.7,1081.2 856.4,1085.3 857.1,1089.5 857.8,1094.2 858.6,1101.0 859.3,1105.7 860.0,1108.3 860.7,1116.3 861.5,1126.2 862.2,1136.2 862.9,1148.5 863.6,1155.3 864.4,1163.7 865.1,1170.9 865.8,1178.4 866.5,1183.1 867.3,1187.3 868.0,1192.6 868.7,1196.2 869.5,1199.8 870.2,1203.2 870.9,1205.7 871.6,1206.7 872.4,1208.2 873.1,1209.8 873.8,1209.6 874.5,1209.5 875.3,1209.2 876.0,1210.9 876.7,1209.6 877.5,1209.5 878.2,1209.9 879.0,1209.6 879.7,1210.8 880.5,1210.9 881.2,1210.5 882.0,1210.3 882.7,1210.9 883.5,1210.9 884.2,1210.9 885.0,1210.9 885.7,1210.3 886.5,1209.7 887.2,1210.9 888.0,1209.6 888.7,1210.6 889.5,1209.7 890.2,1210.9 891.0,1210.3 891.7,1210.5 892.5,1210.0 893.2,1209.6 894.0,1210.9 894.7,1210.6 895.5,1210.9 896.2,1210.3 897.0,1210.9 897.7,1210.9 898.5,1210.9 899.2,1210.0 900.0,1210.9 900.7,1209.6 901.5,1210.1 902.2,1210.5 903.0,1210.2 903.7,1209.7 904.5,1210.5 905.2,1210.7 906.0,1210.5 906.7,1209.8 907.5,1209.8 908.2,1209.9 909.0,1210.2 909.7,1210.7 910.5,1209.5 911.2,1210.8 912.0,1210.9 912.8,1209.8 913.5,1210.3 914.3,1210.2 915.0,1209.8 915.8,1210.9 916.5,1210.9 917.3,1210.9 918.0,1210.9 918.8,1210.2 919.5,1210.1 920.3,1210.6 921.0,1210.9 921.8,1210.3 922.5,1210.9 923.3,1210.8 924.0,1210.9 924.8,1210.9 925.5,1210.8 926.3,1210.9 927.0,1210.9 927.8,1210.3 928.5,1210.9 929.3,1210.7 930.0,1210.1 930.8,1210.3 931.5,1209.7 932.3,1210.8 933.0,1209.6 933.8,1210.7 934.5,1210.3 935.3,1209.8 936.0,1210.4 936.8,1209.6 937.5,1210.7 938.3,1209.9 939.0,1209.5 939.8,1210.9 940.5,1210.6 941.3,1210.9 942.0,1210.9 942.8,1210.5 943.5,1210.4 Z"/></defs>
<use href="#c53g" fill="#dcdddf" stroke="#939598" stroke-width="2.4" stroke-linejoin="round"/>
<clipPath id="c53g0"><rect x="815.3" y="1034.2" width="178.2" height="98.0"/></clipPath>
<use href="#c53g" fill="none" stroke="#939598" stroke-linejoin="round" stroke-width="2.7" clip-path="url(#c53g0)"/>
<clipPath id="c53g1"><rect x="815.3" y="1034.2" width="178.2" height="71.3"/></clipPath>
<use href="#c53g" fill="none" stroke="#939598" stroke-linejoin="round" stroke-width="3.1" clip-path="url(#c53g1)"/>
<clipPath id="c53g2"><rect x="815.3" y="1034.2" width="178.2" height="48.1"/></clipPath>
<use href="#c53g" fill="none" stroke="#939598" stroke-linejoin="round" stroke-width="3.6" clip-path="url(#c53g2)"/>
<clipPath id="c53g3"><rect x="815.3" y="1034.2" width="178.2" height="30.3"/></clipPath>
<use href="#c53g" fill="none" stroke="#939598" stroke-linejoin="round" stroke-width="4.0" clip-path="url(#c53g3)"/>
<defs><path id="c53k" d="M818.6,1210.4 818.6,1128.5 819.3,1129.3 820.1,1126.4 820.8,1125.0 821.5,1126.6 822.3,1126.6 823.0,1125.9 823.7,1121.7 824.4,1116.7 825.2,1112.4 825.9,1111.5 826.6,1111.2 827.3,1111.6 828.1,1107.8 828.8,1107.8 829.5,1104.4 830.2,1100.0 831.0,1100.5 831.7,1097.6 832.4,1095.6 833.1,1094.3 833.9,1093.5 834.6,1093.3 835.3,1093.6 836.0,1089.2 836.8,1089.7 837.5,1088.7 838.2,1085.9 839.0,1082.2 839.7,1079.6 840.4,1079.3 841.1,1073.1 841.9,1078.8 842.6,1083.4 843.3,1078.4 844.0,1070.3 844.8,1071.4 845.5,1066.0 846.2,1063.7 846.9,1063.4 847.7,1062.8 848.4,1063.9 849.1,1063.7 849.8,1063.6 850.6,1060.1 851.3,1060.5 852.0,1060.2 852.8,1060.3 853.5,1060.7 854.2,1056.2 854.9,1051.1 855.7,1048.0 856.4,1052.8 857.1,1054.3 857.8,1055.0 858.6,1061.4 859.3,1058.0 860.0,1052.0 860.7,1048.1 861.5,1043.8 862.2,1052.6 862.9,1059.9 863.6,1063.4 864.4,1064.8 865.1,1063.5 865.8,1065.9 866.5,1073.9 867.3,1083.7 868.0,1085.4 868.7,1091.1 869.5,1093.7 870.2,1098.7 870.9,1103.7 871.6,1104.5 872.4,1108.8 873.1,1113.5 873.8,1116.4 874.5,1121.4 875.3,1123.5 876.0,1127.0 876.7,1129.8 877.4,1134.1 878.2,1134.9 878.9,1135.8 879.6,1137.3 880.3,1140.1 881.1,1140.5 881.8,1140.1 882.5,1142.4 883.3,1140.7 884.0,1142.5 884.7,1143.3 885.4,1144.8 886.2,1143.3 886.9,1145.4 887.6,1146.5 888.3,1146.7 889.1,1147.7 889.8,1149.4 890.5,1149.2 891.2,1151.6 892.0,1150.9 892.7,1153.7 893.4,1154.2 894.1,1153.5 894.9,1156.6 895.6,1156.2 896.3,1158.0 897.1,1159.0 897.8,1160.8 898.5,1162.0 899.2,1162.2 900.0,1163.0 900.7,1165.7 901.4,1166.6 902.1,1167.0 902.9,1168.6 903.6,1168.0 904.3,1170.0 905.0,1170.0 905.8,1169.8 906.5,1172.3 907.2,1172.0 907.9,1174.4 908.7,1175.5 909.4,1175.3 910.1,1177.8 910.8,1176.8 911.6,1180.0 912.3,1179.0 913.0,1181.6 913.8,1182.0 914.5,1184.4 915.2,1183.2 915.9,1185.4 916.7,1185.6 917.4,1186.0 918.1,1187.9 918.8,1187.8 919.6,1188.5 920.3,1188.2 921.0,1189.5 921.7,1189.2 922.5,1191.0 923.2,1191.0 923.9,1191.7 924.6,1192.9 925.4,1193.4 926.1,1193.2 926.8,1195.3 927.6,1196.1 928.3,1198.1 929.0,1197.9 929.7,1199.8 930.5,1198.6 931.2,1199.1 931.9,1200.3 932.6,1202.3 933.4,1201.2 934.1,1203.4 934.8,1203.8 935.5,1204.2 936.3,1203.9 937.0,1205.3 937.7,1206.1 938.4,1206.7 939.2,1207.4 939.9,1207.5 940.6,1208.0 941.4,1207.8 942.1,1209.3 942.8,1209.4 943.5,1209.9 944.3,1210.7 945.0,1209.8 945.7,1210.7 946.5,1210.0 947.2,1210.9 948.0,1210.9 948.7,1209.8 949.5,1210.4 950.2,1210.8 951.0,1210.9 951.7,1210.2 952.5,1210.2 953.2,1210.2 954.0,1210.5 954.7,1210.9 955.5,1210.5 956.2,1210.0 957.0,1210.1 957.7,1210.6 958.5,1210.8 959.2,1210.0 960.0,1210.9 960.7,1210.2 961.5,1209.6 962.2,1209.6 963.0,1210.8 963.7,1210.8 964.5,1210.0 965.2,1209.9 966.0,1210.9 966.7,1210.5 967.5,1210.5 968.2,1210.4 969.0,1209.8 969.7,1209.9 970.5,1210.9 971.2,1210.9 972.0,1209.9 972.7,1210.1 973.5,1210.9 974.2,1210.9 975.0,1210.6 975.7,1209.8 976.5,1210.5 977.2,1210.1 978.0,1210.9 978.7,1210.9 979.5,1210.1 980.2,1210.9 981.0,1209.6 981.7,1210.9 982.5,1210.4 983.2,1209.7 984.0,1210.0 984.7,1210.9 985.5,1210.9 986.2,1210.3 987.0,1210.8 987.7,1210.7 988.5,1210.4 989.2,1210.7 990.0,1210.9 990.7,1210.6 991.5,1210.4"/></defs>
<use href="#c53k" fill="none" stroke="#231f20" stroke-width="2.95" stroke-linejoin="round"/>
<clipPath id="c53k0"><rect x="815.3" y="1034.2" width="178.2" height="67.7"/></clipPath>
<use href="#c53k" fill="none" stroke="#231f20" stroke-linejoin="round" stroke-width="3.3" clip-path="url(#c53k0)"/>
<clipPath id="c53k1"><rect x="815.3" y="1034.2" width="178.2" height="46.3"/></clipPath>
<use href="#c53k" fill="none" stroke="#231f20" stroke-linejoin="round" stroke-width="3.9" clip-path="url(#c53k1)"/>
<clipPath id="c53k2"><rect x="815.3" y="1034.2" width="178.2" height="28.5"/></clipPath>
<use href="#c53k" fill="none" stroke="#231f20" stroke-linejoin="round" stroke-width="4.5" clip-path="url(#c53k2)"/>
<rect x="816.65" y="1035.55" width="175.50" height="175.50" fill="none" stroke="#231f20" stroke-width="2.7"/>
<path d="M811.0,1210.8 H815.8 M813.3,1204.1 H815.8 M813.3,1197.4 H815.8 M813.3,1190.8 H815.8 M813.3,1184.1 H815.8 M811.0,1177.4 H815.8 M813.3,1170.7 H815.8 M813.3,1164.0 H815.8 M813.3,1157.4 H815.8 M813.3,1150.7 H815.8 M811.0,1144.0 H815.8 M813.3,1137.3 H815.8 M813.3,1130.6 H815.8 M813.3,1124.0 H815.8 M813.3,1117.3 H815.8 M811.0,1110.6 H815.8 M813.3,1103.9 H815.8 M813.3,1097.2 H815.8 M813.3,1090.6 H815.8 M813.3,1083.9 H815.8 M811.0,1077.2 H815.8 M813.3,1070.5 H815.8 M813.3,1063.8 H815.8 M813.3,1057.2 H815.8 M813.3,1050.5 H815.8 M811.0,1043.8 H815.8 M813.3,1037.1 H815.8" stroke="#231f20" stroke-width="2.1" fill="none"/>
<path d="M817.4,1211.9 V1216.8 M833.9,1211.9 V1216.8 M853.2,1211.9 V1216.8 M895.3,1211.9 V1216.8 M936.0,1211.9 V1216.8 M974.6,1211.9 V1216.8 M825.4,1211.9 V1214.8 M844.3,1211.9 V1214.8 M865.9,1211.9 V1214.8 M873.3,1211.9 V1214.8 M878.5,1211.9 V1214.8 M882.6,1211.9 V1214.8 M886.0,1211.9 V1214.8 M888.8,1211.9 V1214.8 M891.2,1211.9 V1214.8 M893.4,1211.9 V1214.8 M907.6,1211.9 V1214.8 M914.7,1211.9 V1214.8 M919.8,1211.9 V1214.8 M923.7,1211.9 V1214.8 M927.0,1211.9 V1214.8 M929.7,1211.9 V1214.8 M932.1,1211.9 V1214.8 M934.1,1211.9 V1214.8 M947.6,1211.9 V1214.8 M954.4,1211.9 V1214.8 M959.2,1211.9 V1214.8 M963.0,1211.9 V1214.8 M966.0,1211.9 V1214.8 M968.6,1211.9 V1214.8 M970.9,1211.9 V1214.8 M972.8,1211.9 V1214.8 M986.2,1211.9 V1214.8" stroke="#231f20" stroke-width="2.1" fill="none"/>
<path d="M876.7,1117.7 H990.7" stroke="#231f20" stroke-width="2.75" fill="none"/>
<path d="M876.7,1112.3 V1123.1 M990.7,1112.3 V1123.1" stroke="#231f20" stroke-width="3.0" fill="none"/>
<text transform="translate(975.48 1096.62) scale(1.0 1.04)" x="-67.72" y="0" font-size="35.3" >24.5</text>
<defs><path id="c54g" d="M1007.6,1210.4 1007.6,1192.9 1008.3,1190.3 1009.1,1184.8 1009.8,1182.1 1010.5,1179.3 1011.3,1175.3 1012.0,1173.9 1012.7,1170.9 1013.4,1167.5 1014.2,1163.8 1014.9,1160.6 1015.6,1157.7 1016.3,1151.8 1017.1,1145.8 1017.8,1138.7 1018.5,1133.3 1019.2,1128.7 1020.0,1126.8 1020.7,1127.2 1021.4,1127.6 1022.1,1123.6 1022.9,1121.0 1023.6,1116.2 1024.3,1109.6 1025.0,1102.8 1025.8,1096.4 1026.5,1095.5 1027.2,1091.0 1028.0,1087.6 1028.7,1084.6 1029.4,1082.1 1030.1,1078.3 1030.9,1074.8 1031.6,1068.1 1032.3,1061.3 1033.0,1051.6 1033.8,1047.9 1034.5,1042.5 1035.2,1048.8 1035.9,1054.6 1036.7,1055.4 1037.4,1058.3 1038.1,1059.3 1038.8,1055.6 1039.6,1055.0 1040.3,1055.7 1041.0,1058.3 1041.8,1060.0 1042.5,1066.3 1043.2,1067.8 1043.9,1073.0 1044.7,1076.8 1045.4,1076.0 1046.1,1080.6 1046.8,1082.8 1047.6,1085.4 1048.3,1089.8 1049.0,1093.9 1049.7,1098.9 1050.5,1105.0 1051.2,1115.1 1051.9,1123.6 1052.6,1130.1 1053.4,1138.5 1054.1,1142.6 1054.8,1149.4 1055.5,1156.7 1056.3,1163.9 1057.0,1170.0 1057.7,1176.9 1058.5,1182.7 1059.2,1187.7 1059.9,1191.4 1060.6,1195.2 1061.4,1198.2 1062.1,1203.2 1062.8,1204.2 1063.5,1207.1 1064.3,1208.2 1065.0,1208.5 1065.7,1209.1 1066.4,1210.2 1067.2,1210.1 1067.9,1210.5 1068.7,1209.8 1069.4,1210.1 1070.2,1210.1 1070.9,1209.9 1071.7,1209.7 1072.4,1210.7 1073.2,1209.7 1073.9,1210.9 1074.7,1210.9 1075.4,1210.1 1076.2,1209.8 1076.9,1210.8 1077.7,1210.9 1078.4,1210.2 1079.2,1210.6 1079.9,1210.9 1080.7,1210.2 1081.4,1210.9 1082.2,1210.0 1082.9,1210.9 1083.7,1209.6 1084.4,1210.9 1085.2,1210.9 1086.0,1210.9 1086.7,1210.1 1087.5,1209.7 1088.2,1210.1 1089.0,1210.9 1089.7,1209.8 1090.5,1210.0 1091.2,1210.9 1092.0,1210.5 1092.7,1209.8 1093.5,1209.9 1094.2,1210.0 1095.0,1210.6 1095.7,1209.8 1096.5,1210.6 1097.2,1210.1 1098.0,1210.7 1098.7,1210.2 1099.5,1210.3 1100.2,1210.9 1101.0,1209.7 1101.7,1210.0 1102.5,1209.7 1103.2,1210.9 1104.0,1209.7 1104.7,1210.1 1105.5,1210.9 1106.2,1210.0 1107.0,1210.9 1107.7,1210.1 1108.5,1210.5 1109.2,1210.5 1110.0,1210.5 1110.7,1210.3 1111.5,1209.6 1112.2,1210.7 1113.0,1210.5 1113.7,1210.4 1114.5,1210.4 1115.2,1210.9 1116.0,1210.9 1116.8,1209.9 1117.5,1209.9 1118.3,1210.2 1119.0,1210.9 1119.8,1210.9 1120.5,1209.5 1121.3,1210.2 1122.0,1209.8 1122.8,1210.4 1123.5,1210.1 1124.3,1209.9 1125.0,1210.4 1125.8,1210.2 1126.5,1210.9 1127.3,1210.0 1128.0,1210.2 1128.8,1210.0 1129.5,1209.9 1130.3,1209.8 1131.0,1210.3 1131.8,1210.1 1132.5,1210.4 Z"/></defs>
<use href="#c54g" fill="#dcdddf" stroke="#939598" stroke-width="2.4" stroke-linejoin="round"/>
<clipPath id="c54g0"><rect x="1004.4" y="1034.2" width="178.2" height="98.0"/></clipPath>
<use href="#c54g" fill="none" stroke="#939598" stroke-linejoin="round" stroke-width="2.7" clip-path="url(#c54g0)"/>
<clipPath id="c54g1"><rect x="1004.4" y="1034.2" width="178.2" height="71.3"/></clipPath>
<use href="#c54g" fill="none" stroke="#939598" stroke-linejoin="round" stroke-width="3.1" clip-path="url(#c54g1)"/>
<clipPath id="c54g2"><rect x="1004.4" y="1034.2" width="178.2" height="48.1"/></clipPath>
<use href="#c54g" fill="none" stroke="#939598" stroke-linejoin="round" stroke-width="3.6" clip-path="url(#c54g2)"/>
<clipPath id="c54g3"><rect x="1004.4" y="1034.2" width="178.2" height="30.3"/></clipPath>
<use href="#c54g" fill="none" stroke="#939598" stroke-linejoin="round" stroke-width="4.0" clip-path="url(#c54g3)"/>
<defs><path id="c54k" d="M1007.6,1210.4 1007.6,1150.3 1008.3,1148.5 1009.1,1148.9 1009.8,1147.0 1010.5,1145.4 1011.3,1145.4 1012.0,1144.2 1012.7,1138.6 1013.4,1132.0 1014.2,1127.3 1014.9,1124.2 1015.6,1121.9 1016.3,1120.2 1017.1,1116.8 1017.8,1116.2 1018.5,1113.7 1019.2,1110.3 1020.0,1111.3 1020.7,1108.6 1021.4,1104.1 1022.1,1102.6 1022.9,1100.1 1023.6,1096.9 1024.3,1092.3 1025.0,1092.9 1025.8,1089.9 1026.5,1087.8 1027.2,1087.8 1028.0,1084.2 1028.7,1081.5 1029.4,1075.4 1030.1,1069.0 1030.9,1073.4 1031.6,1073.7 1032.3,1079.1 1033.0,1078.7 1033.8,1076.2 1034.5,1071.1 1035.2,1065.5 1035.9,1056.9 1036.7,1060.3 1037.4,1061.9 1038.1,1060.4 1038.8,1058.0 1039.6,1059.8 1040.3,1064.4 1041.0,1058.9 1041.8,1058.5 1042.5,1051.7 1043.2,1044.5 1043.9,1047.5 1044.7,1052.4 1045.4,1050.8 1046.1,1045.6 1046.8,1049.7 1047.6,1054.7 1048.3,1054.2 1049.0,1050.8 1049.7,1048.9 1050.5,1046.5 1051.2,1056.6 1051.9,1061.4 1052.6,1065.6 1053.4,1072.6 1054.1,1072.3 1054.8,1075.1 1055.5,1080.3 1056.3,1083.8 1057.0,1089.5 1057.7,1095.1 1058.5,1097.4 1059.2,1104.6 1059.9,1105.7 1060.6,1110.6 1061.4,1113.6 1062.1,1118.1 1062.8,1122.4 1063.5,1125.7 1064.3,1128.4 1065.0,1131.3 1065.7,1133.2 1066.4,1130.9 1067.2,1133.1 1067.9,1130.9 1068.6,1130.7 1069.3,1132.4 1070.1,1134.2 1070.8,1137.9 1071.5,1139.1 1072.3,1140.6 1073.0,1141.8 1073.7,1142.6 1074.4,1142.8 1075.2,1144.0 1075.9,1146.0 1076.6,1147.8 1077.3,1148.5 1078.1,1147.9 1078.8,1149.8 1079.5,1151.8 1080.2,1154.1 1081.0,1152.9 1081.7,1156.5 1082.4,1157.5 1083.1,1160.7 1083.9,1161.6 1084.6,1164.2 1085.3,1164.1 1086.1,1164.4 1086.8,1166.5 1087.5,1168.9 1088.2,1170.6 1089.0,1171.3 1089.7,1172.4 1090.4,1174.6 1091.1,1177.2 1091.9,1176.6 1092.6,1177.2 1093.3,1179.3 1094.0,1179.2 1094.8,1181.4 1095.5,1180.5 1096.2,1181.1 1096.9,1181.8 1097.7,1182.5 1098.4,1184.7 1099.1,1184.1 1099.8,1183.9 1100.6,1185.0 1101.3,1184.4 1102.0,1186.6 1102.8,1185.6 1103.5,1187.4 1104.2,1187.0 1104.9,1187.8 1105.7,1188.6 1106.4,1189.6 1107.1,1189.8 1107.8,1190.4 1108.6,1190.2 1109.3,1190.6 1110.0,1191.1 1110.7,1191.1 1111.5,1192.4 1112.2,1191.4 1112.9,1192.2 1113.6,1193.1 1114.4,1193.6 1115.1,1192.8 1115.8,1193.4 1116.6,1195.3 1117.3,1194.9 1118.0,1197.4 1118.7,1196.9 1119.5,1197.8 1120.2,1199.1 1120.9,1200.1 1121.6,1200.3 1122.4,1200.4 1123.1,1201.4 1123.8,1202.6 1124.5,1202.1 1125.3,1204.1 1126.0,1204.0 1126.7,1204.8 1127.4,1207.0 1128.2,1206.9 1128.9,1208.3 1129.6,1208.8 1130.4,1209.1 1131.1,1208.9 1131.8,1210.1 1132.5,1209.2 1133.3,1209.7 1134.0,1210.3 1134.8,1210.8 1135.5,1210.9 1136.3,1210.5 1137.0,1210.3 1137.8,1210.2 1138.5,1210.6 1139.2,1210.9 1140.0,1209.6 1140.7,1210.1 1141.5,1209.7 1142.2,1209.8 1143.0,1209.7 1143.7,1210.9 1144.5,1210.9 1145.2,1209.8 1146.0,1209.7 1146.7,1210.4 1147.5,1209.7 1148.2,1210.7 1149.0,1209.8 1149.7,1209.9 1150.5,1210.8 1151.2,1210.3 1152.0,1210.8 1152.7,1210.8 1153.5,1210.5 1154.2,1210.8 1155.0,1209.9 1155.7,1210.5 1156.5,1209.9 1157.2,1210.2 1158.0,1210.2 1158.7,1210.9 1159.5,1210.3 1160.2,1210.6 1161.0,1210.8 1161.7,1210.9 1162.5,1210.1 1163.2,1209.6 1164.0,1209.8 1164.7,1210.3 1165.5,1210.9 1166.2,1210.6 1167.0,1210.7 1167.7,1210.8 1168.5,1209.7 1169.2,1210.9 1170.0,1209.5 1170.7,1210.5 1171.5,1210.9 1172.2,1210.9 1173.0,1210.0 1173.7,1210.9 1174.5,1210.9 1175.2,1210.3 1176.0,1209.8 1176.7,1210.3 1177.5,1209.8 1178.2,1209.7 1179.0,1210.8 1179.7,1210.3 1180.5,1210.4"/></defs>
<use href="#c54k" fill="none" stroke="#231f20" stroke-width="2.95" stroke-linejoin="round"/>
<clipPath id="c54k0"><rect x="1004.4" y="1034.2" width="178.2" height="67.7"/></clipPath>
<use href="#c54k" fill="none" stroke="#231f20" stroke-linejoin="round" stroke-width="3.3" clip-path="url(#c54k0)"/>
<clipPath id="c54k1"><rect x="1004.4" y="1034.2" width="178.2" height="46.3"/></clipPath>
<use href="#c54k" fill="none" stroke="#231f20" stroke-linejoin="round" stroke-width="3.9" clip-path="url(#c54k1)"/>
<clipPath id="c54k2"><rect x="1004.4" y="1034.2" width="178.2" height="28.5"/></clipPath>
<use href="#c54k" fill="none" stroke="#231f20" stroke-linejoin="round" stroke-width="4.5" clip-path="url(#c54k2)"/>
<rect x="1005.75" y="1035.55" width="175.50" height="175.50" fill="none" stroke="#231f20" stroke-width="2.7"/>
<path d="M1000.1,1210.8 H1004.9 M1002.4,1204.1 H1004.9 M1002.4,1197.4 H1004.9 M1002.4,1190.8 H1004.9 M1002.4,1184.1 H1004.9 M1000.1,1177.4 H1004.9 M1002.4,1170.7 H1004.9 M1002.4,1164.0 H1004.9 M1002.4,1157.4 H1004.9 M1002.4,1150.7 H1004.9 M1000.1,1144.0 H1004.9 M1002.4,1137.3 H1004.9 M1002.4,1130.6 H1004.9 M1002.4,1124.0 H1004.9 M1002.4,1117.3 H1004.9 M1000.1,1110.6 H1004.9 M1002.4,1103.9 H1004.9 M1002.4,1097.2 H1004.9 M1002.4,1090.6 H1004.9 M1002.4,1083.9 H1004.9 M1000.1,1077.2 H1004.9 M1002.4,1070.5 H1004.9 M1002.4,1063.8 H1004.9 M1002.4,1057.2 H1004.9 M1002.4,1050.5 H1004.9 M1000.1,1043.8 H1004.9 M1002.4,1037.1 H1004.9" stroke="#231f20" stroke-width="2.1" fill="none"/>
<path d="M1006.5,1211.9 V1216.8 M1023.0,1211.9 V1216.8 M1042.3,1211.9 V1216.8 M1084.4,1211.9 V1216.8 M1125.1,1211.9 V1216.8 M1163.7,1211.9 V1216.8 M1014.5,1211.9 V1214.8 M1033.4,1211.9 V1214.8 M1055.0,1211.9 V1214.8 M1062.4,1211.9 V1214.8 M1067.6,1211.9 V1214.8 M1071.7,1211.9 V1214.8 M1075.1,1211.9 V1214.8 M1077.9,1211.9 V1214.8 M1080.3,1211.9 V1214.8 M1082.5,1211.9 V1214.8 M1096.7,1211.9 V1214.8 M1103.8,1211.9 V1214.8 M1108.9,1211.9 V1214.8 M1112.8,1211.9 V1214.8 M1116.1,1211.9 V1214.8 M1118.8,1211.9 V1214.8 M1121.2,1211.9 V1214.8 M1123.2,1211.9 V1214.8 M1136.7,1211.9 V1214.8 M1143.5,1211.9 V1214.8 M1148.3,1211.9 V1214.8 M1152.1,1211.9 V1214.8 M1155.1,1211.9 V1214.8 M1157.7,1211.9 V1214.8 M1160.0,1211.9 V1214.8 M1161.9,1211.9 V1214.8 M1175.3,1211.9 V1214.8" stroke="#231f20" stroke-width="2.1" fill="none"/>
<path d="M1065.7,1117.7 H1179.7" stroke="#231f20" stroke-width="2.75" fill="none"/>
<path d="M1065.7,1112.3 V1123.1 M1179.7,1112.3 V1123.1" stroke="#231f20" stroke-width="3.0" fill="none"/>
<text transform="translate(1162.30 1096.62) scale(1.0 1.04)" x="-67.62" y="0" font-size="35.3" >23.8</text>
<defs><path id="c55g" d="M1196.6,1210.4 1196.6,1198.7 1197.3,1194.3 1198.1,1189.8 1198.8,1184.2 1199.5,1180.8 1200.2,1177.5 1201.0,1173.8 1201.7,1170.7 1202.4,1167.1 1203.1,1164.5 1203.9,1160.3 1204.6,1156.1 1205.3,1149.8 1206.0,1144.2 1206.8,1140.5 1207.5,1134.2 1208.2,1131.5 1209.0,1125.2 1209.7,1121.4 1210.4,1119.1 1211.1,1113.0 1211.9,1109.5 1212.6,1102.5 1213.3,1097.8 1214.0,1089.8 1214.8,1085.1 1215.5,1083.0 1216.2,1083.4 1216.9,1081.9 1217.7,1081.3 1218.4,1075.0 1219.1,1071.6 1219.8,1067.4 1220.6,1064.9 1221.3,1061.5 1222.0,1057.8 1222.8,1057.0 1223.5,1055.5 1224.2,1051.7 1224.9,1047.9 1225.7,1044.8 1226.4,1044.9 1227.1,1042.6 1227.8,1046.9 1228.6,1046.1 1229.3,1050.4 1230.0,1051.9 1230.7,1060.8 1231.5,1064.6 1232.2,1068.2 1232.9,1071.2 1233.6,1074.8 1234.4,1075.0 1235.1,1080.2 1235.8,1085.9 1236.5,1090.4 1237.3,1097.2 1238.0,1103.8 1238.7,1111.7 1239.5,1118.2 1240.2,1126.6 1240.9,1133.0 1241.6,1140.7 1242.4,1149.3 1243.1,1155.9 1243.8,1162.3 1244.5,1167.5 1245.3,1172.2 1246.0,1178.2 1246.7,1183.5 1247.4,1190.0 1248.2,1194.0 1248.9,1199.1 1249.6,1203.2 1250.3,1206.2 1251.1,1208.1 1251.8,1209.4 1252.5,1209.4 1253.3,1209.6 1254.0,1209.2 1254.7,1209.7 1255.4,1210.7 1256.2,1210.9 1256.9,1210.9 1257.7,1209.8 1258.4,1210.9 1259.2,1210.4 1259.9,1209.8 1260.7,1210.6 1261.4,1209.8 1262.2,1210.5 1262.9,1210.8 1263.7,1210.9 1264.4,1210.9 1265.2,1210.2 1265.9,1210.9 1266.7,1210.8 1267.4,1210.7 1268.2,1210.7 1268.9,1210.9 1269.7,1210.5 1270.4,1210.5 1271.2,1210.8 1271.9,1209.8 1272.7,1209.7 1273.4,1210.9 1274.2,1210.5 1274.9,1209.9 1275.7,1210.6 1276.4,1210.8 1277.2,1209.5 1277.9,1209.9 1278.7,1210.2 1279.4,1210.9 1280.2,1210.0 1280.9,1210.0 1281.7,1210.9 1282.4,1210.9 1283.2,1209.7 1283.9,1209.6 1284.7,1210.9 1285.4,1210.5 1286.2,1209.7 1286.9,1210.9 1287.7,1209.7 1288.4,1210.5 1289.2,1209.6 1290.0,1210.1 1290.7,1210.2 1291.5,1210.9 1292.2,1210.9 1293.0,1210.0 1293.7,1210.6 1294.5,1210.1 1295.2,1209.9 1296.0,1210.4 1296.7,1210.4 1297.5,1210.5 1298.2,1210.9 1299.0,1210.9 1299.7,1210.8 1300.5,1210.9 1301.2,1210.5 1302.0,1210.7 1302.7,1209.9 1303.5,1210.3 1304.2,1210.7 1305.0,1210.6 1305.7,1209.7 1306.5,1210.9 1307.2,1210.5 1308.0,1210.9 1308.7,1210.3 1309.5,1210.9 1310.2,1210.3 1311.0,1210.8 1311.7,1210.7 1312.5,1210.0 1313.2,1210.3 1314.0,1210.1 1314.7,1209.5 1315.5,1209.6 1316.2,1210.4 1317.0,1209.6 1317.7,1209.7 1318.5,1209.7 1319.2,1210.2 1320.0,1209.9 1320.7,1210.0 1321.5,1210.9 1322.2,1210.4 Z"/></defs>
<use href="#c55g" fill="#dcdddf" stroke="#939598" stroke-width="2.4" stroke-linejoin="round"/>
<clipPath id="c55g0"><rect x="1193.5" y="1034.2" width="178.2" height="98.0"/></clipPath>
<use href="#c55g" fill="none" stroke="#939598" stroke-linejoin="round" stroke-width="2.7" clip-path="url(#c55g0)"/>
<clipPath id="c55g1"><rect x="1193.5" y="1034.2" width="178.2" height="71.3"/></clipPath>
<use href="#c55g" fill="none" stroke="#939598" stroke-linejoin="round" stroke-width="3.1" clip-path="url(#c55g1)"/>
<clipPath id="c55g2"><rect x="1193.5" y="1034.2" width="178.2" height="48.1"/></clipPath>
<use href="#c55g" fill="none" stroke="#939598" stroke-linejoin="round" stroke-width="3.6" clip-path="url(#c55g2)"/>
<clipPath id="c55g3"><rect x="1193.5" y="1034.2" width="178.2" height="30.3"/></clipPath>
<use href="#c55g" fill="none" stroke="#939598" stroke-linejoin="round" stroke-width="4.0" clip-path="url(#c55g3)"/>
<defs><path id="c55k" d="M1196.6,1210.4 1196.6,1139.8 1197.3,1140.2 1198.1,1135.5 1198.8,1134.5 1199.5,1135.3 1200.2,1134.7 1201.0,1135.3 1201.7,1130.8 1202.4,1127.0 1203.1,1122.1 1203.9,1117.4 1204.6,1118.4 1205.3,1115.9 1206.0,1115.8 1206.8,1116.7 1207.5,1116.3 1208.2,1113.2 1209.0,1110.0 1209.7,1110.0 1210.4,1106.3 1211.1,1101.6 1211.9,1100.0 1212.6,1096.4 1213.3,1095.5 1214.0,1089.2 1214.8,1094.4 1215.5,1092.7 1216.2,1093.7 1216.9,1094.6 1217.7,1090.0 1218.4,1085.2 1219.1,1078.7 1219.8,1072.0 1220.6,1071.7 1221.3,1070.8 1222.0,1075.1 1222.8,1079.3 1223.5,1072.9 1224.2,1069.5 1224.9,1063.6 1225.7,1060.5 1226.4,1064.1 1227.1,1063.4 1227.8,1062.6 1228.6,1060.5 1229.3,1065.8 1230.0,1069.6 1230.7,1066.0 1231.5,1060.3 1232.2,1056.4 1232.9,1052.2 1233.6,1055.4 1234.4,1057.3 1235.1,1055.1 1235.8,1047.8 1236.5,1050.4 1237.3,1046.5 1238.0,1044.0 1238.7,1044.0 1239.5,1048.6 1240.2,1052.8 1240.9,1053.0 1241.6,1058.5 1242.4,1057.8 1243.1,1056.6 1243.8,1063.9 1244.5,1069.1 1245.3,1072.6 1246.0,1076.9 1246.7,1076.0 1247.4,1079.2 1248.2,1085.6 1248.9,1089.4 1249.6,1094.1 1250.3,1098.6 1251.1,1097.6 1251.8,1103.0 1252.5,1103.9 1253.3,1110.0 1254.0,1110.7 1254.7,1113.7 1255.4,1113.1 1256.2,1115.7 1256.9,1116.8 1257.6,1118.2 1258.3,1119.0 1259.1,1118.7 1259.8,1118.5 1260.5,1121.4 1261.2,1120.1 1262.0,1123.9 1262.7,1123.5 1263.4,1125.7 1264.1,1126.7 1264.9,1126.9 1265.6,1128.7 1266.3,1128.7 1267.1,1130.1 1267.8,1133.5 1268.5,1134.9 1269.2,1135.2 1270.0,1139.1 1270.7,1138.9 1271.4,1142.8 1272.1,1146.7 1272.9,1146.1 1273.6,1150.3 1274.3,1150.2 1275.0,1152.4 1275.8,1157.0 1276.5,1157.6 1277.2,1160.0 1277.9,1163.7 1278.7,1166.6 1279.4,1168.2 1280.1,1170.9 1280.8,1170.7 1281.6,1173.9 1282.3,1174.1 1283.0,1174.6 1283.8,1174.8 1284.5,1176.4 1285.2,1176.8 1285.9,1178.7 1286.7,1180.2 1287.4,1179.6 1288.1,1181.6 1288.8,1182.6 1289.6,1183.0 1290.3,1184.5 1291.0,1186.5 1291.7,1187.2 1292.5,1187.7 1293.2,1188.6 1293.9,1189.1 1294.6,1189.2 1295.4,1190.8 1296.1,1189.9 1296.8,1190.7 1297.6,1192.1 1298.3,1191.4 1299.0,1193.0 1299.7,1193.7 1300.5,1193.5 1301.2,1194.2 1301.9,1195.3 1302.6,1194.4 1303.4,1195.7 1304.1,1195.6 1304.8,1196.2 1305.5,1195.8 1306.3,1197.4 1307.0,1197.9 1307.7,1198.4 1308.4,1200.2 1309.2,1199.2 1309.9,1200.5 1310.6,1202.4 1311.4,1203.2 1312.1,1202.4 1312.8,1203.0 1313.5,1205.1 1314.3,1204.4 1315.0,1206.5 1315.7,1207.0 1316.4,1207.7 1317.2,1207.4 1317.9,1207.6 1318.6,1207.7 1319.3,1207.6 1320.1,1209.3 1320.8,1209.1 1321.5,1209.5 1322.2,1210.2 1323.0,1209.8 1323.7,1210.9 1324.4,1209.7 1325.1,1209.5 1325.9,1210.9 1326.7,1210.5 1327.4,1209.6 1328.2,1210.8 1328.9,1210.2 1329.7,1210.2 1330.4,1209.6 1331.2,1210.4 1331.9,1210.9 1332.7,1209.9 1333.4,1210.9 1334.2,1210.6 1334.9,1210.9 1335.7,1210.2 1336.4,1210.7 1337.2,1209.7 1337.9,1209.6 1338.7,1209.9 1339.4,1209.7 1340.2,1210.9 1340.9,1210.4 1341.7,1210.1 1342.4,1210.5 1343.2,1210.3 1343.9,1210.1 1344.7,1209.9 1345.4,1210.9 1346.2,1210.0 1346.9,1210.9 1347.7,1210.9 1348.4,1210.8 1349.2,1210.0 1349.9,1210.3 1350.7,1210.9 1351.4,1209.7 1352.2,1210.2 1352.9,1210.2 1353.7,1210.0 1354.4,1210.0 1355.2,1209.7 1355.9,1210.8 1356.7,1210.9 1357.5,1209.5 1358.2,1210.1 1359.0,1210.9 1359.7,1210.3 1360.5,1210.9 1361.2,1209.8 1362.0,1209.7 1362.7,1210.6 1363.5,1210.9 1364.2,1210.9 1365.0,1210.8 1365.7,1210.9 1366.5,1210.7 1367.2,1210.9 1368.0,1210.5 1368.7,1210.4"/></defs>
<use href="#c55k" fill="none" stroke="#231f20" stroke-width="2.95" stroke-linejoin="round"/>
<clipPath id="c55k0"><rect x="1193.5" y="1034.2" width="178.2" height="67.7"/></clipPath>
<use href="#c55k" fill="none" stroke="#231f20" stroke-linejoin="round" stroke-width="3.3" clip-path="url(#c55k0)"/>
<clipPath id="c55k1"><rect x="1193.5" y="1034.2" width="178.2" height="46.3"/></clipPath>
<use href="#c55k" fill="none" stroke="#231f20" stroke-linejoin="round" stroke-width="3.9" clip-path="url(#c55k1)"/>
<clipPath id="c55k2"><rect x="1193.5" y="1034.2" width="178.2" height="28.5"/></clipPath>
<use href="#c55k" fill="none" stroke="#231f20" stroke-linejoin="round" stroke-width="4.5" clip-path="url(#c55k2)"/>
<rect x="1194.85" y="1035.55" width="175.50" height="175.50" fill="none" stroke="#231f20" stroke-width="2.7"/>
<path d="M1189.2,1210.8 H1194.0 M1191.5,1204.1 H1194.0 M1191.5,1197.4 H1194.0 M1191.5,1190.8 H1194.0 M1191.5,1184.1 H1194.0 M1189.2,1177.4 H1194.0 M1191.5,1170.7 H1194.0 M1191.5,1164.0 H1194.0 M1191.5,1157.4 H1194.0 M1191.5,1150.7 H1194.0 M1189.2,1144.0 H1194.0 M1191.5,1137.3 H1194.0 M1191.5,1130.6 H1194.0 M1191.5,1124.0 H1194.0 M1191.5,1117.3 H1194.0 M1189.2,1110.6 H1194.0 M1191.5,1103.9 H1194.0 M1191.5,1097.2 H1194.0 M1191.5,1090.6 H1194.0 M1191.5,1083.9 H1194.0 M1189.2,1077.2 H1194.0 M1191.5,1070.5 H1194.0 M1191.5,1063.8 H1194.0 M1191.5,1057.2 H1194.0 M1191.5,1050.5 H1194.0 M1189.2,1043.8 H1194.0 M1191.5,1037.1 H1194.0" stroke="#231f20" stroke-width="2.1" fill="none"/>
<path d="M1195.6,1211.9 V1216.8 M1212.1,1211.9 V1216.8 M1231.4,1211.9 V1216.8 M1273.5,1211.9 V1216.8 M1314.2,1211.9 V1216.8 M1352.8,1211.9 V1216.8 M1203.6,1211.9 V1214.8 M1222.5,1211.9 V1214.8 M1244.1,1211.9 V1214.8 M1251.5,1211.9 V1214.8 M1256.7,1211.9 V1214.8 M1260.8,1211.9 V1214.8 M1264.2,1211.9 V1214.8 M1267.0,1211.9 V1214.8 M1269.4,1211.9 V1214.8 M1271.6,1211.9 V1214.8 M1285.8,1211.9 V1214.8 M1292.9,1211.9 V1214.8 M1298.0,1211.9 V1214.8 M1301.9,1211.9 V1214.8 M1305.2,1211.9 V1214.8 M1307.9,1211.9 V1214.8 M1310.3,1211.9 V1214.8 M1312.3,1211.9 V1214.8 M1325.8,1211.9 V1214.8 M1332.6,1211.9 V1214.8 M1337.4,1211.9 V1214.8 M1341.2,1211.9 V1214.8 M1344.2,1211.9 V1214.8 M1346.8,1211.9 V1214.8 M1349.1,1211.9 V1214.8 M1351.0,1211.9 V1214.8 M1364.4,1211.9 V1214.8" stroke="#231f20" stroke-width="2.1" fill="none"/>
<path d="M1254.7,1117.7 H1368.7" stroke="#231f20" stroke-width="2.75" fill="none"/>
<path d="M1254.7,1112.3 V1123.1 M1368.7,1112.3 V1123.1" stroke="#231f20" stroke-width="3.0" fill="none"/>
<text transform="translate(1353.47 1096.62) scale(1.0 1.04)" x="-67.43" y="0" font-size="35.3" >26.3</text>
<text transform="translate(63.90 120.30) scale(1.0 1.04)" x="-0.32" y="0" font-size="47" >Vδ1</text>
<text transform="translate(63.90 312.80) scale(1.0 1.04)" x="-0.32" y="0" font-size="47" >Vδ2</text>
<text transform="translate(63.90 505.60) scale(1.0 1.04)" x="-1.84" y="0" font-size="47" >αβT</text>
<text transform="translate(63.90 752.00) scale(1.0 1.04)" x="-0.32" y="0" font-size="47" >Vδ1</text>
<text transform="translate(63.90 944.70) scale(1.0 1.04)" x="-0.32" y="0" font-size="47" >Vδ2</text>
<text transform="translate(63.90 1137.20) scale(1.0 1.04)" x="-1.84" y="0" font-size="47" >αβT</text>
<text transform="translate(24.80 49.70) scale(1.08 1.04)" x="-25.22" y="0" font-size="70" >A</text>
<path d="M210.2,180 V607.6 H1210" stroke="#231f20" stroke-width="3.6" fill="none" stroke-linejoin="miter"/>
<path d="M200.4,182.4 L210.2,169.0 L219.9,182.4 Z" fill="#231f20"/>
<path d="M1204.3,598.0 Q1218.2,603.7 1235.1,607.6 Q1218.2,611.5 1204.3,617.2 Z" fill="#231f20"/>
<path d="M210.2,894 V1244.7 H1210" stroke="#231f20" stroke-width="3.4" fill="none"/>
<path d="M200.4,895.8 L210.2,883.8 L220.0,895.8 Z" fill="#231f20"/>
<path d="M1202.9,1235.0 Q1216.7,1240.8 1233.6,1244.7 Q1216.7,1248.6 1202.9,1254.4 Z" fill="#231f20"/>
<text transform="translate(226.60 144.00) rotate(-90) scale(0.98 1.04)" x="-1.84" y="0" font-size="47" >cells</text>
<text transform="translate(1374.90 625.80) scale(0.982 1.04)" x="-123.51" y="0" font-size="47" >CFSE</text>
<text transform="translate(220.90 852.30) rotate(-90) scale(0.975 1.04)" x="-1.17" y="0" font-size="47" >% of max</text>
<text transform="translate(1376.00 1258.60) scale(0.98 1.04)" x="-118.85" y="0" font-size="47" >CD25</text>
<text transform="translate(285.30 1365.00) rotate(-30) scale(1.0 1.04)" x="-3.14" y="0" font-size="47" >None</text>
<text transform="translate(465.00 1379.90) rotate(-30) scale(1.0 1.04)" x="-3.14" y="0" font-size="47" >DMSO</text>
<text transform="translate(618.90 1422.50) rotate(-30) scale(1.0 1.04)" x="-3.14" y="0" font-size="47" >Hesperetin</text>
<text transform="translate(813.50 1421.00) rotate(-30) scale(1.0 1.04)" x="-3.14" y="0" font-size="47" >Hesperidin</text>
<text transform="translate(1020.60 1400.70) rotate(-30) scale(1.0 1.04)" x="-1.17" y="0" font-size="47" >Acacetin</text>
<text transform="translate(1229.80 1380.40) rotate(-30) scale(1.0 1.04)" x="-3.14" y="0" font-size="47" >Linarin</text>
<text transform="translate(221.70 1540.70) scale(1.0 1.04)" x="-4.62" y="0" font-size="69" >B</text>
<path d="M419.9,1586.2 V1825.9 H606.3000000000001" stroke="#231f20" stroke-width="3.6" fill="none"/>
<path d="M412.1,1825.9 H419.9 M412.1,1778.2 H419.9 M412.1,1730.5 H419.9 M412.1,1682.9 H419.9 M412.1,1635.2 H419.9 M412.1,1587.5 H419.9 M419.9,1825.9 V1834.2 M450.7,1825.9 V1834.2 M481.5,1825.9 V1834.2 M512.3,1825.9 V1834.2 M543.1,1825.9 V1834.2 M573.9,1825.9 V1834.2 M604.7,1825.9 V1834.2" stroke="#231f20" stroke-width="3.2" fill="none"/>
<text transform="translate(393.70 1837.40) scale(1.0 1.04)" x="-16.23" y="0" font-size="31.5" >0</text>
<text transform="translate(393.70 1789.72) scale(1.0 1.04)" x="-33.75" y="0" font-size="31.5" >20</text>
<text transform="translate(393.70 1742.04) scale(1.0 1.04)" x="-33.75" y="0" font-size="31.5" >40</text>
<text transform="translate(393.70 1694.36) scale(1.0 1.04)" x="-33.75" y="0" font-size="31.5" >60</text>
<text transform="translate(393.70 1646.68) scale(1.0 1.04)" x="-33.75" y="0" font-size="31.5" >80</text>
<text transform="translate(393.70 1599.00) scale(1.0 1.04)" x="-51.26" y="0" font-size="31.5" >100</text>
<rect x="427.9" y="1762.5" width="14.8" height="63.4" fill="#231f20"/>
<path d="M435.3,1763.5 V1750.8 M429.0,1750.8 H441.6" stroke="#231f20" stroke-width="3.5" fill="none"/>
<rect x="458.7" y="1765.1" width="14.8" height="60.8" fill="#231f20"/>
<path d="M466.1,1766.1 V1759.4 M459.8,1759.4 H472.4" stroke="#231f20" stroke-width="3.5" fill="none"/>
<rect x="489.5" y="1802.5" width="14.8" height="23.4" fill="#231f20"/>
<path d="M496.9,1803.5 V1794.2 M490.6,1794.2 H503.2" stroke="#231f20" stroke-width="3.5" fill="none"/>
<rect x="520.3" y="1713.1" width="14.8" height="112.8" fill="#231f20"/>
<path d="M527.7,1714.1 V1702.2 M521.4,1702.2 H534.0" stroke="#231f20" stroke-width="3.5" fill="none"/>
<rect x="551.1" y="1776.8" width="14.8" height="49.1" fill="#231f20"/>
<path d="M558.5,1777.8 V1765.8 M552.2,1765.8 H564.8" stroke="#231f20" stroke-width="3.5" fill="none"/>
<rect x="581.9" y="1710.8" width="14.8" height="115.1" fill="#231f20"/>
<path d="M589.3,1711.8 V1705.3 M583.0,1705.3 H595.6" stroke="#231f20" stroke-width="3.5" fill="none"/>
<text transform="translate(527.70 1699.30) scale(1.0 1.04)" x="-9.90" y="0" font-size="50.6" >*</text>
<text transform="translate(589.30 1703.30) scale(1.0 1.04)" x="-9.90" y="0" font-size="50.6" >*</text>
<text transform="translate(417.30 1577.40) scale(1.0 1.04)" x="-0.32" y="0" font-size="46.5" >Vδ1 cells</text>
<path d="M720.2,1586.2 V1825.9 H906.6" stroke="#231f20" stroke-width="3.6" fill="none"/>
<path d="M712.4,1825.9 H720.2 M712.4,1778.2 H720.2 M712.4,1730.5 H720.2 M712.4,1682.9 H720.2 M712.4,1635.2 H720.2 M712.4,1587.5 H720.2 M720.2,1825.9 V1834.2 M751.0,1825.9 V1834.2 M781.8,1825.9 V1834.2 M812.6,1825.9 V1834.2 M843.4,1825.9 V1834.2 M874.2,1825.9 V1834.2 M905.0,1825.9 V1834.2" stroke="#231f20" stroke-width="3.2" fill="none"/>
<text transform="translate(694.00 1837.40) scale(1.0 1.04)" x="-16.23" y="0" font-size="31.5" >0</text>
<text transform="translate(694.00 1789.72) scale(1.0 1.04)" x="-33.75" y="0" font-size="31.5" >20</text>
<text transform="translate(694.00 1742.04) scale(1.0 1.04)" x="-33.75" y="0" font-size="31.5" >40</text>
<text transform="translate(694.00 1694.36) scale(1.0 1.04)" x="-33.75" y="0" font-size="31.5" >60</text>
<text transform="translate(694.00 1646.68) scale(1.0 1.04)" x="-33.75" y="0" font-size="31.5" >80</text>
<text transform="translate(694.00 1599.00) scale(1.0 1.04)" x="-51.26" y="0" font-size="31.5" >100</text>
<rect x="728.2" y="1664.5" width="14.8" height="161.4" fill="#231f20"/>
<path d="M735.6,1665.5 V1658.1 M729.3,1658.1 H741.9" stroke="#231f20" stroke-width="3.5" fill="none"/>
<rect x="759.0" y="1667.4" width="14.8" height="158.5" fill="#231f20"/>
<path d="M766.4,1668.4 V1661.6 M760.1,1661.6 H772.7" stroke="#231f20" stroke-width="3.5" fill="none"/>
<rect x="789.8" y="1785.6" width="14.8" height="40.3" fill="#231f20"/>
<path d="M797.2,1786.6 V1766.3 M790.9,1766.3 H803.5" stroke="#231f20" stroke-width="3.5" fill="none"/>
<rect x="820.6" y="1646.9" width="14.8" height="179.0" fill="#231f20"/>
<path d="M828.0,1647.9 V1630.9 M821.7,1630.9 H834.3" stroke="#231f20" stroke-width="3.5" fill="none"/>
<rect x="851.4" y="1670.0" width="14.8" height="155.9" fill="#231f20"/>
<path d="M858.8,1671.0 V1665.0 M852.5,1665.0 H865.1" stroke="#231f20" stroke-width="3.5" fill="none"/>
<rect x="882.2" y="1670.0" width="14.8" height="155.9" fill="#231f20"/>
<path d="M889.6,1671.0 V1662.4 M883.3,1662.4 H895.9" stroke="#231f20" stroke-width="3.5" fill="none"/>
<text transform="translate(722.00 1577.50) scale(1.0 1.04)" x="-0.32" y="0" font-size="46.5" >Vδ2 cells</text>
<path d="M1031.0,1586.2 V1825.9 H1217.3999999999999" stroke="#231f20" stroke-width="3.6" fill="none"/>
<path d="M1023.2,1825.9 H1031.0 M1023.2,1778.2 H1031.0 M1023.2,1730.5 H1031.0 M1023.2,1682.9 H1031.0 M1023.2,1635.2 H1031.0 M1023.2,1587.5 H1031.0 M1031.0,1825.9 V1834.2 M1061.8,1825.9 V1834.2 M1092.6,1825.9 V1834.2 M1123.4,1825.9 V1834.2 M1154.2,1825.9 V1834.2 M1185.0,1825.9 V1834.2 M1215.8,1825.9 V1834.2" stroke="#231f20" stroke-width="3.2" fill="none"/>
<text transform="translate(1004.80 1837.40) scale(1.0 1.04)" x="-16.23" y="0" font-size="31.5" >0</text>
<text transform="translate(1004.80 1789.72) scale(1.0 1.04)" x="-33.75" y="0" font-size="31.5" >20</text>
<text transform="translate(1004.80 1742.04) scale(1.0 1.04)" x="-33.75" y="0" font-size="31.5" >40</text>
<text transform="translate(1004.80 1694.36) scale(1.0 1.04)" x="-33.75" y="0" font-size="31.5" >60</text>
<text transform="translate(1004.80 1646.68) scale(1.0 1.04)" x="-33.75" y="0" font-size="31.5" >80</text>
<text transform="translate(1004.80 1599.00) scale(1.0 1.04)" x="-51.26" y="0" font-size="31.5" >100</text>
<rect x="1039.0" y="1773.7" width="14.8" height="52.2" fill="#231f20"/>
<path d="M1046.4,1774.7 V1768.7 M1040.1,1768.7 H1052.7" stroke="#231f20" stroke-width="3.5" fill="none"/>
<rect x="1069.8" y="1773.7" width="14.8" height="52.2" fill="#231f20"/>
<path d="M1077.2,1774.7 V1768.7 M1070.9,1768.7 H1083.5" stroke="#231f20" stroke-width="3.5" fill="none"/>
<rect x="1100.6" y="1805.6" width="14.8" height="20.3" fill="#231f20"/>
<path d="M1108.0,1806.6 V1794.9 M1101.7,1794.9 H1114.3" stroke="#231f20" stroke-width="3.5" fill="none"/>
<rect x="1131.4" y="1781.8" width="14.8" height="44.1" fill="#231f20"/>
<path d="M1138.8,1782.8 V1777.5 M1132.5,1777.5 H1145.1" stroke="#231f20" stroke-width="3.5" fill="none"/>
<rect x="1162.2" y="1773.7" width="14.8" height="52.2" fill="#231f20"/>
<path d="M1169.6,1774.7 V1766.1 M1163.3,1766.1 H1175.9" stroke="#231f20" stroke-width="3.5" fill="none"/>
<rect x="1193.0" y="1773.7" width="14.8" height="52.2" fill="#231f20"/>
<path d="M1200.4,1774.7 V1762.5 M1194.1,1762.5 H1206.7" stroke="#231f20" stroke-width="3.5" fill="none"/>
<text transform="translate(1030.60 1578.00) scale(1.0 1.04)" x="-1.82" y="0" font-size="46.5" >αβT cells</text>
<path d="M419.8,1887.0 V2126.2 H606.2" stroke="#231f20" stroke-width="3.6" fill="none"/>
<path d="M412.0,2126.2 H419.8 M412.0,2078.6 H419.8 M412.0,2031.0 H419.8 M412.0,1983.5 H419.8 M412.0,1935.9 H419.8 M412.0,1888.3 H419.8 M419.8,2126.2 V2134.5 M450.6,2126.2 V2134.5 M481.4,2126.2 V2134.5 M512.2,2126.2 V2134.5 M543.0,2126.2 V2134.5 M573.8,2126.2 V2134.5 M604.6,2126.2 V2134.5" stroke="#231f20" stroke-width="3.2" fill="none"/>
<text transform="translate(393.60 2137.70) scale(1.0 1.04)" x="-16.23" y="0" font-size="31.5" >0</text>
<text transform="translate(393.60 2090.12) scale(1.0 1.04)" x="-33.75" y="0" font-size="31.5" >20</text>
<text transform="translate(393.60 2042.54) scale(1.0 1.04)" x="-33.75" y="0" font-size="31.5" >40</text>
<text transform="translate(393.60 1994.96) scale(1.0 1.04)" x="-33.75" y="0" font-size="31.5" >60</text>
<text transform="translate(393.60 1947.38) scale(1.0 1.04)" x="-33.75" y="0" font-size="31.5" >80</text>
<text transform="translate(393.60 1899.80) scale(1.0 1.04)" x="-51.26" y="0" font-size="31.5" >100</text>
<rect x="427.8" y="2060.5" width="14.8" height="65.7" fill="#231f20"/>
<path d="M435.2,2061.5 V2055.1 M428.9,2055.1 H441.5" stroke="#231f20" stroke-width="3.5" fill="none"/>
<rect x="458.6" y="2071.0" width="14.8" height="55.2" fill="#231f20"/>
<rect x="489.4" y="2095.0" width="14.8" height="31.2" fill="#231f20"/>
<path d="M496.8,2096.0 V2080.8 M490.5,2080.8 H503.1" stroke="#231f20" stroke-width="3.5" fill="none"/>
<rect x="520.2" y="2006.1" width="14.8" height="120.1" fill="#231f20"/>
<path d="M527.6,2007.1 V1999.9 M521.3,1999.9 H533.9" stroke="#231f20" stroke-width="3.5" fill="none"/>
<rect x="551.0" y="2077.9" width="14.8" height="48.3" fill="#231f20"/>
<path d="M558.4,2078.9 V2069.8 M552.1,2069.8 H564.7" stroke="#231f20" stroke-width="3.5" fill="none"/>
<rect x="581.8" y="2017.2" width="14.8" height="109.0" fill="#231f20"/>
<path d="M589.2,2018.2 V2008.4 M582.9,2008.4 H595.5" stroke="#231f20" stroke-width="3.5" fill="none"/>
<text transform="translate(527.60 1994.90) scale(1.0 1.04)" x="-9.90" y="0" font-size="50.6" >*</text>
<text transform="translate(589.20 2004.00) scale(1.0 1.04)" x="-9.90" y="0" font-size="50.6" >*</text>
<text transform="translate(442.10 2143.20) rotate(-90) scale(1.0 1.04)" x="-75.95" y="0" font-size="30.8" >None</text>
<text transform="translate(477.90 2143.20) rotate(-90) scale(1.0 1.04)" x="-91.11" y="0" font-size="30.8" >DMSO</text>
<text transform="translate(505.40 2143.20) rotate(-90) scale(1.0 1.04)" x="-157.28" y="0" font-size="30.8" >Hesperetin</text>
<text transform="translate(537.00 2143.20) rotate(-90) scale(1.0 1.04)" x="-140.13" y="0" font-size="30.8" >Heperidin</text>
<text transform="translate(568.20 2143.20) rotate(-90) scale(1.0 1.04)" x="-126.48" y="0" font-size="30.8" >Acacetin</text>
<text transform="translate(600.20 2143.20) rotate(-90) scale(1.0 1.04)" x="-100.76" y="0" font-size="30.8" >Linarin</text>
<path d="M720.6,1887.0 V2126.2 H907.0000000000001" stroke="#231f20" stroke-width="3.6" fill="none"/>
<path d="M712.8,2126.2 H720.6 M712.8,2078.6 H720.6 M712.8,2031.0 H720.6 M712.8,1983.5 H720.6 M712.8,1935.9 H720.6 M712.8,1888.3 H720.6 M720.6,2126.2 V2134.5 M751.4,2126.2 V2134.5 M782.2,2126.2 V2134.5 M813.0,2126.2 V2134.5 M843.8,2126.2 V2134.5 M874.6,2126.2 V2134.5 M905.4,2126.2 V2134.5" stroke="#231f20" stroke-width="3.2" fill="none"/>
<text transform="translate(694.40 2137.70) scale(1.0 1.04)" x="-16.23" y="0" font-size="31.5" >0</text>
<text transform="translate(694.40 2090.12) scale(1.0 1.04)" x="-33.75" y="0" font-size="31.5" >20</text>
<text transform="translate(694.40 2042.54) scale(1.0 1.04)" x="-33.75" y="0" font-size="31.5" >40</text>
<text transform="translate(694.40 1994.96) scale(1.0 1.04)" x="-33.75" y="0" font-size="31.5" >60</text>
<text transform="translate(694.40 1947.38) scale(1.0 1.04)" x="-33.75" y="0" font-size="31.5" >80</text>
<text transform="translate(694.40 1899.80) scale(1.0 1.04)" x="-51.26" y="0" font-size="31.5" >100</text>
<rect x="728.6" y="1934.2" width="14.8" height="192.0" fill="#231f20"/>
<path d="M736.0,1935.2 V1923.0 M729.7,1923.0 H742.3" stroke="#231f20" stroke-width="3.5" fill="none"/>
<rect x="759.4" y="1934.2" width="14.8" height="192.0" fill="#231f20"/>
<path d="M766.8,1935.2 V1923.0 M760.5,1923.0 H773.1" stroke="#231f20" stroke-width="3.5" fill="none"/>
<rect x="790.2" y="1997.3" width="14.8" height="128.9" fill="#231f20"/>
<path d="M797.6,1998.3 V1977.5 M791.3,1977.5 H803.9" stroke="#231f20" stroke-width="3.5" fill="none"/>
<rect x="821.0" y="1931.6" width="14.8" height="194.6" fill="#231f20"/>
<rect x="851.8" y="1956.6" width="14.8" height="169.6" fill="#231f20"/>
<path d="M859.2,1957.6 V1943.7 M852.9,1943.7 H865.5" stroke="#231f20" stroke-width="3.5" fill="none"/>
<rect x="882.6" y="1922.1" width="14.8" height="204.1" fill="#231f20"/>
<path d="M890.0,1923.1 V1917.1 M883.7,1917.1 H896.3" stroke="#231f20" stroke-width="3.5" fill="none"/>
<text transform="translate(742.90 2143.20) rotate(-90) scale(1.0 1.04)" x="-75.95" y="0" font-size="30.8" >None</text>
<text transform="translate(778.70 2143.20) rotate(-90) scale(1.0 1.04)" x="-91.11" y="0" font-size="30.8" >DMSO</text>
<text transform="translate(806.20 2143.20) rotate(-90) scale(1.0 1.04)" x="-157.28" y="0" font-size="30.8" >Hesperetin</text>
<text transform="translate(837.80 2143.20) rotate(-90) scale(1.0 1.04)" x="-140.13" y="0" font-size="30.8" >Heperidin</text>
<text transform="translate(869.00 2143.20) rotate(-90) scale(1.0 1.04)" x="-126.48" y="0" font-size="30.8" >Acacetin</text>
<text transform="translate(901.00 2143.20) rotate(-90) scale(1.0 1.04)" x="-100.76" y="0" font-size="30.8" >Linarin</text>
<path d="M1031,1887.0 V2126.2 H1217.3999999999999" stroke="#231f20" stroke-width="3.6" fill="none"/>
<path d="M1023.2,2126.2 H1031 M1023.2,2078.6 H1031 M1023.2,2031.0 H1031 M1023.2,1983.5 H1031 M1023.2,1935.9 H1031 M1023.2,1888.3 H1031 M1031.0,2126.2 V2134.5 M1061.8,2126.2 V2134.5 M1092.6,2126.2 V2134.5 M1123.4,2126.2 V2134.5 M1154.2,2126.2 V2134.5 M1185.0,2126.2 V2134.5 M1215.8,2126.2 V2134.5" stroke="#231f20" stroke-width="3.2" fill="none"/>
<text transform="translate(1004.80 2137.70) scale(1.0 1.04)" x="-16.23" y="0" font-size="31.5" >0</text>
<text transform="translate(1004.80 2090.12) scale(1.0 1.04)" x="-33.75" y="0" font-size="31.5" >20</text>
<text transform="translate(1004.80 2042.54) scale(1.0 1.04)" x="-33.75" y="0" font-size="31.5" >40</text>
<text transform="translate(1004.80 1994.96) scale(1.0 1.04)" x="-33.75" y="0" font-size="31.5" >60</text>
<text transform="translate(1004.80 1947.38) scale(1.0 1.04)" x="-33.75" y="0" font-size="31.5" >80</text>
<text transform="translate(1004.80 1899.80) scale(1.0 1.04)" x="-51.26" y="0" font-size="31.5" >100</text>
<rect x="1039.0" y="2063.2" width="14.8" height="63.0" fill="#231f20"/>
<rect x="1069.8" y="2066.5" width="14.8" height="59.7" fill="#231f20"/>
<rect x="1100.6" y="2092.4" width="14.8" height="33.8" fill="#231f20"/>
<path d="M1108.0,2093.4 V2083.9 M1101.7,2083.9 H1114.3" stroke="#231f20" stroke-width="3.5" fill="none"/>
<rect x="1131.4" y="2069.6" width="14.8" height="56.6" fill="#231f20"/>
<rect x="1162.2" y="2063.2" width="14.8" height="63.0" fill="#231f20"/>
<rect x="1193.0" y="2066.5" width="14.8" height="59.7" fill="#231f20"/>
<text transform="translate(1053.30 2143.20) rotate(-90) scale(1.0 1.04)" x="-75.95" y="0" font-size="30.8" >None</text>
<text transform="translate(1089.10 2143.20) rotate(-90) scale(1.0 1.04)" x="-91.11" y="0" font-size="30.8" >DMSO</text>
<text transform="translate(1116.60 2143.20) rotate(-90) scale(1.0 1.04)" x="-157.28" y="0" font-size="30.8" >Hesperetin</text>
<text transform="translate(1148.20 2143.20) rotate(-90) scale(1.0 1.04)" x="-140.13" y="0" font-size="30.8" >Heperidin</text>
<text transform="translate(1179.40 2143.20) rotate(-90) scale(1.0 1.04)" x="-126.48" y="0" font-size="30.8" >Acacetin</text>
<text transform="translate(1211.40 2143.20) rotate(-90) scale(1.0 1.04)" x="-100.76" y="0" font-size="30.8" >Linarin</text>
<text transform="translate(271.80 1712.90) rotate(-90) scale(1.0 1.04)" x="-97.55" y="0" font-size="38.7" >% of CFSE</text>
<text transform="translate(317.60 1709.80) rotate(-90) scale(1.0 1.04)" x="-122.01" y="0" font-size="38.7" >positive cells</text>
<text transform="translate(271.80 2006.90) rotate(-90) scale(1.0 1.04)" x="-95.64" y="0" font-size="38.7" >% of CD25</text>
<text transform="translate(317.60 2009.70) rotate(-90) scale(1.0 1.04)" x="-122.01" y="0" font-size="38.7" >positive cells</text>
</svg>
</body></html>
